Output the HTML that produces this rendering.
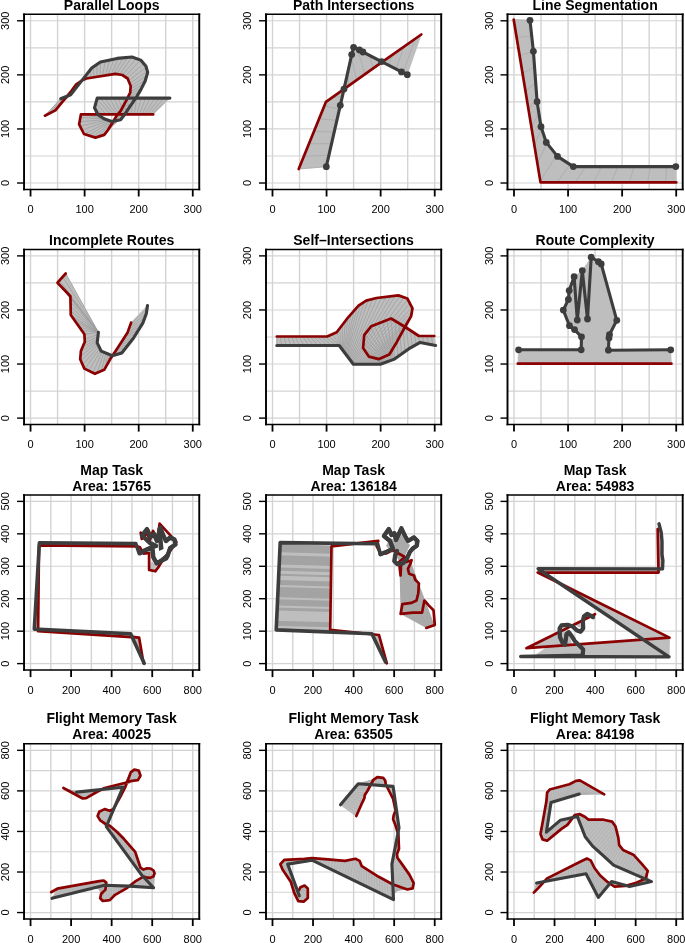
<!DOCTYPE html>
<html><head><meta charset="utf-8"><style>html,body{margin:0;padding:0;background:#fff;}svg{display:block;will-change:transform;}text{font-family:'Liberation Sans', sans-serif;fill:#000;}</style></head>
<body><svg width="685" height="943" viewBox="0 0 685 943">
<rect width="685" height="943" fill="#fff"/>
<g>
<line x1="30.54" y1="14.30" x2="30.54" y2="189.50" stroke="#d3d3d3" stroke-width="1.4"/>
<line x1="57.58" y1="14.30" x2="57.58" y2="189.50" stroke="#d3d3d3" stroke-width="1.4"/>
<line x1="84.61" y1="14.30" x2="84.61" y2="189.50" stroke="#d3d3d3" stroke-width="1.4"/>
<line x1="111.65" y1="14.30" x2="111.65" y2="189.50" stroke="#d3d3d3" stroke-width="1.4"/>
<line x1="138.69" y1="14.30" x2="138.69" y2="189.50" stroke="#d3d3d3" stroke-width="1.4"/>
<line x1="165.72" y1="14.30" x2="165.72" y2="189.50" stroke="#d3d3d3" stroke-width="1.4"/>
<line x1="192.76" y1="14.30" x2="192.76" y2="189.50" stroke="#d3d3d3" stroke-width="1.4"/>
<line x1="24.05" y1="183.01" x2="199.25" y2="183.01" stroke="#d3d3d3" stroke-width="1.15"/>
<line x1="24.05" y1="155.97" x2="199.25" y2="155.97" stroke="#d3d3d3" stroke-width="1.15"/>
<line x1="24.05" y1="128.94" x2="199.25" y2="128.94" stroke="#d3d3d3" stroke-width="1.15"/>
<line x1="24.05" y1="101.90" x2="199.25" y2="101.90" stroke="#d3d3d3" stroke-width="1.15"/>
<line x1="24.05" y1="74.86" x2="199.25" y2="74.86" stroke="#d3d3d3" stroke-width="1.15"/>
<line x1="24.05" y1="47.83" x2="199.25" y2="47.83" stroke="#d3d3d3" stroke-width="1.15"/>
<line x1="24.05" y1="20.79" x2="199.25" y2="20.79" stroke="#d3d3d3" stroke-width="1.15"/>
<path d="M60.7,98.7L61.6,98.4L46.3,115.0L44.9,115.7ZM61.6,98.4L62.4,98.0L47.6,114.3L46.3,115.0ZM62.4,98.0L63.3,97.7L49.0,113.6L47.6,114.3ZM63.3,97.7L64.2,97.3L50.4,112.9L49.0,113.6ZM64.2,97.3L65.1,97.0L51.8,112.2L50.4,112.9ZM65.1,97.0L65.9,96.6L53.1,111.5L51.8,112.2ZM65.9,96.6L66.8,96.3L54.5,110.8L53.1,111.5ZM66.8,96.3L67.7,95.9L55.7,110.0L54.5,110.8ZM67.7,95.9L68.5,95.6L56.7,108.8L55.7,110.0ZM68.5,95.6L69.4,95.2L57.7,107.6L56.7,108.8ZM69.4,95.2L70.3,94.9L58.7,106.4L57.7,107.6ZM58.7,106.4L59.6,105.2L71.0,94.3L70.3,94.9ZM59.6,105.2L60.6,104.0L71.6,93.6L71.0,94.3ZM60.6,104.0L61.6,102.8L72.2,92.9L71.6,93.6ZM61.6,102.8L62.5,101.6L72.8,92.1L72.2,92.9ZM62.5,101.6L63.5,100.4L73.3,91.4L72.8,92.1ZM63.5,100.4L64.5,99.3L73.9,90.7L73.3,91.4ZM64.5,99.3L65.5,98.1L74.5,89.9L73.9,90.7ZM65.5,98.1L66.5,96.9L75.1,89.2L74.5,89.9ZM66.5,96.9L67.4,95.7L75.7,88.5L75.1,89.2ZM67.4,95.7L68.4,94.5L76.3,87.7L75.7,88.5ZM68.4,94.5L69.4,93.3L76.8,87.0L76.3,87.7ZM69.4,93.3L70.4,92.2L77.4,86.2L76.8,87.0ZM70.4,92.2L71.4,91.0L78.0,85.5L77.4,86.2ZM71.4,91.0L72.3,89.7L78.6,84.8L78.0,85.5ZM72.3,89.7L73.2,88.5L79.2,84.0L78.6,84.8ZM73.2,88.5L74.1,87.2L79.7,83.3L79.2,84.0ZM74.1,87.2L75.0,86.0L80.3,82.6L79.7,83.3ZM75.0,86.0L75.9,84.7L80.9,81.8L80.3,82.6ZM75.9,84.7L77.1,83.9L81.5,81.1L80.9,81.8ZM77.1,83.9L78.4,83.0L82.0,80.3L81.5,81.1ZM78.4,83.0L79.7,82.1L82.6,79.6L82.0,80.3ZM82.6,79.6L83.2,78.9L80.9,81.2L79.7,82.1ZM83.2,78.9L83.8,78.1L82.2,80.4L80.9,81.2ZM83.8,78.1L84.3,77.4L83.5,79.6L82.2,80.4ZM84.3,77.4L84.9,76.6L85.0,79.1L83.5,79.6ZM84.9,76.6L85.5,75.9L86.4,78.5L85.0,79.1ZM85.5,75.9L86.4,74.7L87.3,78.3L86.4,78.5ZM86.4,74.7L87.4,73.5L88.3,78.2L87.3,78.3ZM87.4,73.5L88.3,72.3L89.2,78.0L88.3,78.2ZM88.3,72.3L89.2,71.2L90.2,77.9L89.2,78.0ZM89.2,71.2L90.2,70.0L91.1,77.7L90.2,77.9ZM90.2,70.0L91.1,68.8L92.1,77.6L91.1,77.7ZM91.1,68.8L92.1,67.7L93.0,77.4L92.1,77.6ZM92.1,67.7L93.4,66.8L94.0,77.3L93.0,77.4ZM93.4,66.8L94.6,66.0L94.9,77.1L94.0,77.3ZM94.6,66.0L95.8,65.1L95.9,77.0L94.9,77.1ZM95.8,65.1L97.1,64.2L96.8,76.8L95.9,77.0ZM97.1,64.2L98.3,63.4L97.8,76.7L96.8,76.8ZM98.3,63.4L99.5,62.5L98.7,76.5L97.8,76.7ZM99.5,62.5L100.8,61.8L99.7,76.3L98.7,76.5ZM100.8,61.8L102.3,61.5L100.6,76.2L99.7,76.3ZM102.3,61.5L103.8,61.2L101.6,76.0L100.6,76.2ZM103.8,61.2L105.3,60.9L102.5,75.9L101.6,76.0ZM105.3,60.9L106.7,60.6L103.5,75.7L102.5,75.9ZM106.7,60.6L108.2,60.3L104.4,75.6L103.5,75.7ZM108.2,60.3L109.7,60.0L105.4,75.4L104.4,75.6ZM109.7,60.0L111.2,59.6L106.3,75.3L105.4,75.4ZM111.2,59.6L112.6,59.3L107.3,75.1L106.3,75.3ZM112.6,59.3L114.1,59.0L108.2,75.0L107.3,75.1ZM114.1,59.0L115.6,58.7L109.1,74.8L108.2,75.0ZM115.6,58.7L117.1,58.4L110.1,74.6L109.1,74.8ZM117.1,58.4L118.6,58.3L111.0,74.5L110.1,74.6ZM118.6,58.3L120.1,58.1L112.0,74.3L111.0,74.5ZM120.1,58.1L121.6,58.0L112.9,74.2L112.0,74.3ZM121.6,58.0L123.1,57.8L113.9,74.0L112.9,74.2ZM123.1,57.8L124.6,57.7L114.8,73.9L113.9,74.0ZM124.6,57.7L126.1,57.6L115.8,73.9L114.8,73.9ZM126.1,57.6L127.6,57.4L116.7,74.0L115.8,73.9ZM127.6,57.4L129.1,57.3L117.7,74.2L116.7,74.0ZM129.1,57.3L130.6,57.1L118.6,74.4L117.7,74.2ZM130.6,57.1L132.1,57.0L119.6,74.5L118.6,74.4ZM132.1,57.0L133.5,57.5L120.5,74.7L119.6,74.5ZM133.5,57.5L134.9,58.0L121.5,74.9L120.5,74.7ZM134.9,58.0L136.3,58.5L122.4,75.1L121.5,74.9ZM136.3,58.5L137.8,59.1L123.2,75.6L122.4,75.1ZM137.8,59.1L139.2,59.6L124.0,76.1L123.2,75.6ZM139.2,59.6L140.6,60.1L124.8,76.6L124.0,76.1ZM140.6,60.1L141.6,61.2L125.6,77.2L124.8,76.6ZM141.6,61.2L142.6,62.3L126.4,77.7L125.6,77.2ZM142.6,62.3L143.6,63.5L127.2,78.2L126.4,77.7ZM143.6,63.5L144.6,64.6L127.8,78.9L127.2,78.2ZM144.6,64.6L145.5,65.8L128.2,79.8L127.8,78.9ZM145.5,65.8L146.2,67.1L128.5,80.7L128.2,79.8ZM146.2,67.1L146.6,68.5L128.9,81.6L128.5,80.7ZM146.6,68.5L147.0,70.0L129.3,82.5L128.9,81.6ZM147.0,70.0L147.4,71.4L129.6,83.4L129.3,82.5ZM147.4,71.4L147.6,72.9L130.0,84.3L129.6,83.4ZM147.6,72.9L147.1,74.3L130.4,85.1L130.0,84.3ZM147.1,74.3L146.7,75.8L130.7,86.0L130.4,85.1ZM146.7,75.8L146.3,77.2L130.6,87.0L130.7,86.0ZM146.3,77.2L145.9,78.7L130.5,88.0L130.6,87.0ZM145.9,78.7L145.4,80.1L130.5,88.9L130.5,88.0ZM145.4,80.1L144.9,81.5L130.4,89.9L130.5,88.9ZM144.9,81.5L144.3,82.9L130.3,90.8L130.4,89.9ZM144.3,82.9L143.6,84.2L130.3,91.8L130.3,90.8ZM143.6,84.2L142.9,85.6L130.1,92.7L130.3,91.8ZM142.9,85.6L142.2,86.9L129.7,93.6L130.1,92.7ZM142.2,86.9L141.5,88.3L129.3,94.4L129.7,93.6ZM141.5,88.3L140.9,89.6L128.8,95.3L129.3,94.4ZM140.9,89.6L140.1,90.9L128.4,96.2L128.8,95.3ZM140.1,90.9L139.3,92.2L128.0,97.0L128.4,96.2ZM139.3,92.2L138.6,93.5L127.5,97.9L128.0,97.0ZM138.6,93.5L137.8,94.8L127.1,98.7L127.5,97.9ZM137.8,94.8L137.0,96.1L126.7,99.6L127.1,98.7ZM137.0,96.1L136.3,97.4L126.2,100.4L126.7,99.6ZM136.3,97.4L135.5,98.7L125.8,101.3L126.2,100.4ZM135.5,98.7L134.6,99.9L125.1,102.7L125.8,101.3ZM134.6,99.9L133.7,101.2L124.3,104.0L125.1,102.7ZM133.7,101.2L132.9,102.4L123.6,105.4L124.3,104.0ZM132.9,102.4L132.0,103.6L122.9,106.7L123.6,105.4ZM132.0,103.6L131.1,104.9L122.2,108.1L122.9,106.7ZM131.1,104.9L130.2,106.1L121.4,109.5L122.2,108.1ZM130.2,106.1L129.3,107.3L120.7,110.8L121.4,109.5ZM129.3,107.3L128.5,108.6L119.7,112.0L120.7,110.8ZM128.5,108.6L127.7,109.9L118.7,113.2L119.7,112.0ZM127.7,109.9L126.8,111.1L117.7,114.3L118.7,113.2ZM126.8,111.1L126.0,112.4L116.8,115.6L117.7,114.3ZM126.0,112.4L125.2,113.7L116.0,116.9L116.8,115.6ZM125.2,113.7L124.3,114.9L115.2,118.2L116.0,116.9ZM124.3,114.9L123.4,116.1L114.4,119.5L115.2,118.2ZM123.4,116.1L122.5,117.3L113.6,120.9L114.4,119.5ZM122.5,117.3L121.5,118.5L112.8,122.2L113.6,120.9ZM121.5,118.5L120.6,119.7L112.0,123.5L112.8,122.2ZM120.6,119.7L120.1,119.8L111.2,124.8L112.0,123.5ZM120.1,119.8L119.7,119.9L110.4,126.1L111.2,124.8ZM119.7,119.9L119.2,120.0L109.6,127.4L110.4,126.1ZM119.2,120.0L118.8,120.1L108.8,128.7L109.6,127.4ZM118.8,120.1L118.3,120.2L108.0,129.9L108.8,128.7ZM118.3,120.2L117.9,120.3L107.2,131.2L108.0,129.9ZM107.2,131.2L106.2,132.4L117.4,120.4L117.9,120.3ZM106.2,132.4L105.3,133.5L116.9,120.4L117.4,120.4ZM105.3,133.5L104.3,134.7L116.5,120.5L116.9,120.4ZM104.3,134.7L103.0,135.3L116.0,120.6L116.5,120.5ZM103.0,135.3L101.5,135.7L115.6,120.7L116.0,120.6ZM101.5,135.7L100.1,136.2L115.1,120.8L115.6,120.7ZM100.1,136.2L98.6,136.6L114.7,120.9L115.1,120.8ZM98.6,136.6L97.2,137.0L114.2,121.0L114.7,120.9ZM97.2,137.0L95.7,137.5L113.8,121.1L114.2,121.0ZM95.7,137.5L94.3,137.3L113.3,121.2L113.8,121.1ZM94.3,137.3L92.9,136.8L112.8,121.3L113.3,121.2ZM92.9,136.8L91.4,136.3L112.4,121.4L112.8,121.3ZM91.4,136.3L90.0,135.9L111.9,121.5L112.4,121.4ZM90.0,135.9L88.5,135.4L111.5,121.4L111.9,121.5ZM88.5,135.4L87.1,135.0L111.0,121.2L111.5,121.4ZM87.1,135.0L85.7,134.5L110.6,121.1L111.0,121.2ZM85.7,134.5L84.2,134.1L110.2,120.9L110.6,121.1ZM84.2,134.1L83.4,132.9L109.7,120.8L110.2,120.9ZM83.4,132.9L82.7,131.5L109.3,120.6L109.7,120.8ZM82.7,131.5L82.0,130.2L108.8,120.5L109.3,120.6ZM82.0,130.2L81.4,128.8L108.4,120.3L108.8,120.5ZM81.4,128.8L80.7,127.5L108.0,120.2L108.4,120.3ZM80.7,127.5L80.0,126.1L107.5,120.0L108.0,120.2ZM80.0,126.1L79.3,124.8L107.1,119.9L107.5,120.0ZM79.3,124.8L79.3,123.3L106.6,119.7L107.1,119.9ZM79.3,123.3L79.6,121.8L106.2,119.6L106.6,119.7ZM79.6,121.8L79.8,120.4L105.8,119.4L106.2,119.6ZM79.8,120.4L80.1,118.9L105.3,119.3L105.8,119.4ZM80.1,118.9L80.4,117.4L104.9,119.1L105.3,119.3ZM80.4,117.4L80.6,115.9L104.4,119.0L104.9,119.1ZM80.6,115.9L80.9,114.4L104.0,118.8L104.4,119.0ZM80.9,114.4L82.5,114.4L103.0,118.1L104.0,118.8ZM82.5,114.4L84.1,114.4L101.9,117.4L103.0,118.1ZM84.1,114.4L85.7,114.4L100.9,116.7L101.9,117.4ZM85.7,114.4L87.3,114.4L99.8,116.0L100.9,116.7ZM87.3,114.4L88.9,114.4L98.8,115.3L99.8,116.0ZM88.9,114.4L90.5,114.4L97.9,114.5L98.8,115.3ZM90.5,114.4L92.0,114.4L97.3,113.4L97.9,114.5ZM92.0,114.4L93.6,114.4L96.7,112.3L97.3,113.4ZM96.7,112.3L96.2,111.2L95.2,114.4L93.6,114.4ZM96.2,111.2L95.6,110.0L96.8,114.4L95.2,114.4ZM95.6,110.0L95.1,108.9L98.4,114.4L96.8,114.4ZM95.1,108.9L94.5,107.8L100.0,114.4L98.4,114.4ZM94.5,107.8L94.8,106.6L101.5,114.4L100.0,114.4ZM94.8,106.6L95.2,105.4L103.0,114.4L101.5,114.4ZM95.2,105.4L95.5,104.2L104.5,114.4L103.0,114.4ZM95.5,104.2L95.9,102.9L106.0,114.4L104.5,114.4ZM95.9,102.9L96.2,101.7L107.5,114.4L106.0,114.4ZM96.2,101.7L96.5,100.5L109.0,114.4L107.5,114.4ZM96.5,100.5L96.9,99.3L110.5,114.4L109.0,114.4ZM96.9,99.3L97.2,98.1L112.0,114.4L110.5,114.4ZM97.2,98.1L98.7,98.1L112.9,114.4L112.0,114.4ZM98.7,98.1L100.2,98.1L113.7,114.4L112.9,114.4ZM100.2,98.1L101.7,98.1L114.6,114.4L113.7,114.4ZM101.7,98.1L103.3,98.1L115.4,114.4L114.6,114.4ZM103.3,98.1L104.8,98.1L116.3,114.4L115.4,114.4ZM104.8,98.1L106.3,98.1L117.2,114.4L116.3,114.4ZM106.3,98.1L107.8,98.1L118.0,114.4L117.2,114.4ZM107.8,98.1L109.3,98.1L118.9,114.4L118.0,114.4ZM109.3,98.1L110.8,98.1L119.7,114.4L118.9,114.4ZM110.8,98.1L112.3,98.1L120.6,114.4L119.7,114.4ZM112.3,98.1L113.9,98.1L121.4,114.4L120.6,114.4ZM113.9,98.1L115.4,98.1L122.3,114.4L121.4,114.4ZM115.4,98.1L116.9,98.1L123.2,114.4L122.3,114.4ZM116.9,98.1L118.4,98.1L124.0,114.4L123.2,114.4ZM118.4,98.1L119.9,98.1L124.9,114.4L124.0,114.4ZM119.9,98.1L121.4,98.1L125.7,114.4L124.9,114.4ZM121.4,98.1L122.9,98.1L126.6,114.4L125.7,114.4ZM122.9,98.1L124.5,98.1L127.5,114.4L126.6,114.4ZM124.5,98.1L126.0,98.1L128.3,114.4L127.5,114.4ZM126.0,98.1L127.5,98.1L129.2,114.4L128.3,114.4ZM127.5,98.1L129.0,98.1L130.0,114.4L129.2,114.4ZM129.0,98.1L130.5,98.1L130.9,114.4L130.0,114.4ZM130.5,98.1L132.0,98.1L131.7,114.4L130.9,114.4ZM132.0,98.1L133.5,98.1L132.6,114.4L131.7,114.4ZM133.5,98.1L135.1,98.1L133.5,114.4L132.6,114.4ZM135.1,98.1L136.6,98.1L134.3,114.4L133.5,114.4ZM136.6,98.1L138.1,98.1L135.2,114.4L134.3,114.4ZM138.1,98.1L139.6,98.1L136.0,114.4L135.2,114.4ZM139.6,98.1L141.1,98.1L136.9,114.4L136.0,114.4ZM141.1,98.1L142.6,98.1L137.8,114.4L136.9,114.4ZM142.6,98.1L144.2,98.1L138.6,114.4L137.8,114.4ZM144.2,98.1L145.7,98.1L139.5,114.4L138.6,114.4ZM145.7,98.1L147.2,98.1L140.3,114.4L139.5,114.4ZM147.2,98.1L148.7,98.1L141.2,114.4L140.3,114.4ZM148.7,98.1L150.2,98.1L142.0,114.4L141.2,114.4ZM150.2,98.1L151.7,98.1L142.9,114.4L142.0,114.4ZM151.7,98.1L153.2,98.1L143.8,114.4L142.9,114.4ZM153.2,98.1L154.8,98.1L144.6,114.4L143.8,114.4ZM154.8,98.1L156.3,98.1L145.5,114.4L144.6,114.4ZM156.3,98.1L157.8,98.1L146.3,114.4L145.5,114.4ZM157.8,98.1L159.3,98.1L147.2,114.4L146.3,114.4ZM159.3,98.1L160.8,98.1L148.1,114.4L147.2,114.4ZM160.8,98.1L162.3,98.1L148.9,114.4L148.1,114.4ZM162.3,98.1L163.8,98.1L149.8,114.4L148.9,114.4ZM163.8,98.1L165.4,98.1L150.6,114.4L149.8,114.4ZM165.4,98.1L166.9,98.1L151.5,114.4L150.6,114.4ZM166.9,98.1L168.4,98.1L152.3,114.4L151.5,114.4ZM168.4,98.1L169.9,98.1L153.2,114.4L152.3,114.4Z" fill="#bebebe" stroke="#bebebe" stroke-width="0.6" stroke-linejoin="round"/>
<path d="M44.9,115.7L60.7,98.7M49.0,113.6L63.3,97.7M53.1,111.5L65.9,96.6M56.7,108.8L68.5,95.6M59.6,105.2L71.0,94.3M62.5,101.6L72.8,92.1M65.5,98.1L74.5,89.9M68.4,94.5L76.3,87.7M71.4,91.0L78.0,85.5M74.1,87.2L79.7,83.3M77.1,83.9L81.5,81.1M80.9,81.2L83.2,78.9M85.0,79.1L84.9,76.6M88.3,78.2L87.4,73.5M91.1,77.7L90.2,70.0M94.0,77.3L93.4,66.8M96.8,76.8L97.1,64.2M99.7,76.3L100.8,61.8M102.5,75.9L105.3,60.9M105.4,75.4L109.7,60.0M108.2,75.0L114.1,59.0M111.0,74.5L118.6,58.3M113.9,74.0L123.1,57.8M116.7,74.0L127.6,57.4M119.6,74.5L132.1,57.0M122.4,75.1L136.3,58.5M124.8,76.6L140.6,60.1M127.2,78.2L143.6,63.5M128.5,80.7L146.2,67.1M129.6,83.4L147.4,71.4M130.7,86.0L146.7,75.8M130.5,88.9L145.4,80.1M130.3,91.8L143.6,84.2M129.3,94.4L141.5,88.3M128.0,97.0L139.3,92.2M126.7,99.6L137.0,96.1M125.1,102.7L134.6,99.9M122.9,106.7L132.0,103.6M120.7,110.8L129.3,107.3M117.7,114.3L126.8,111.1M115.2,118.2L124.3,114.9M112.8,122.2L121.5,118.5M110.4,126.1L119.7,119.9M108.0,129.9L118.3,120.2M105.3,133.5L116.9,120.4M101.5,135.7L115.6,120.7M97.2,137.0L114.2,121.0M92.9,136.8L112.8,121.3M88.5,135.4L111.5,121.4M84.2,134.1L110.2,120.9M82.0,130.2L108.8,120.5M80.0,126.1L107.5,120.0M79.6,121.8L106.2,119.6M80.4,117.4L104.9,119.1M82.5,114.4L103.0,118.1M87.3,114.4L99.8,116.0M92.0,114.4L97.3,113.4M96.8,114.4L95.6,110.0M101.5,114.4L94.8,106.6M106.0,114.4L95.9,102.9M110.5,114.4L96.9,99.3M113.7,114.4L100.2,98.1M116.3,114.4L104.8,98.1M118.9,114.4L109.3,98.1M121.4,114.4L113.9,98.1M124.0,114.4L118.4,98.1M126.6,114.4L122.9,98.1M129.2,114.4L127.5,98.1M131.7,114.4L132.0,98.1M134.3,114.4L136.6,98.1M136.9,114.4L141.1,98.1M139.5,114.4L145.7,98.1M142.0,114.4L150.2,98.1M144.6,114.4L154.8,98.1M147.2,114.4L159.3,98.1M149.8,114.4L163.8,98.1M152.3,114.4L168.4,98.1" stroke="#9e9e9e" stroke-width="0.75" fill="none"/>

<polyline points="44.9,115.7 55.4,110.4 62.8,101.3 71.5,90.8 75.9,84.7 82.9,79.9 86.4,78.5 115.3,73.8 122.3,75.0 127.6,78.5 130.7,85.9 130.2,92.6 125.8,101.3 120.6,111.0 117.3,114.8 112.0,123.5 107.7,130.5 104.2,134.9 95.4,137.6 84.0,134.0 79.1,124.4 80.9,114.4 100.0,114.4 112.0,114.4 153.2,114.4" fill="none" stroke="#8b0000" stroke-width="2.7" stroke-linejoin="round" stroke-linecap="round"/>
<polyline points="60.7,98.7 70.7,94.7 77.7,85.9 85.5,75.9 91.7,68.0 100.4,61.9 117.1,58.4 132.0,57.0 140.7,60.1 146.0,66.3 147.7,72.4 145.1,81.2 140.7,89.9 135.5,98.7 129.3,107.4 124.1,115.3 120.6,119.7 111.8,121.5 104.0,118.8 98.0,114.8 94.5,107.8 97.2,98.1 169.9,98.1" fill="none" stroke="#3d3d3d" stroke-width="3.1" stroke-linejoin="round" stroke-linecap="round"/>

<path d="M24.05,13.55V190.25M199.25,13.55V190.25" stroke="#000" stroke-width="1.9" fill="none"/>
<path d="M23.10,14.30H200.20M23.10,189.50H200.20" stroke="#000" stroke-width="1.5" fill="none"/>
<line x1="30.54" y1="189.50" x2="30.54" y2="196.50" stroke="#000" stroke-width="1.8"/>
<text x="30.54" y="213.20" text-anchor="middle" font-size="11">0</text>
<line x1="84.61" y1="189.50" x2="84.61" y2="196.50" stroke="#000" stroke-width="1.8"/>
<text x="84.61" y="213.20" text-anchor="middle" font-size="11">100</text>
<line x1="138.69" y1="189.50" x2="138.69" y2="196.50" stroke="#000" stroke-width="1.8"/>
<text x="138.69" y="213.20" text-anchor="middle" font-size="11">200</text>
<line x1="192.76" y1="189.50" x2="192.76" y2="196.50" stroke="#000" stroke-width="1.8"/>
<text x="192.76" y="213.20" text-anchor="middle" font-size="11">300</text>
<line x1="24.05" y1="183.01" x2="17.05" y2="183.01" stroke="#000" stroke-width="1.4"/>
<text transform="translate(9.25,183.01) rotate(-90)" text-anchor="middle" font-size="11">0</text>
<line x1="24.05" y1="128.94" x2="17.05" y2="128.94" stroke="#000" stroke-width="1.4"/>
<text transform="translate(9.25,128.94) rotate(-90)" text-anchor="middle" font-size="11">100</text>
<line x1="24.05" y1="74.86" x2="17.05" y2="74.86" stroke="#000" stroke-width="1.4"/>
<text transform="translate(9.25,74.86) rotate(-90)" text-anchor="middle" font-size="11">200</text>
<line x1="24.05" y1="20.79" x2="17.05" y2="20.79" stroke="#000" stroke-width="1.4"/>
<text transform="translate(9.25,20.79) rotate(-90)" text-anchor="middle" font-size="11">300</text>
<text x="111.65" y="9.90" text-anchor="middle" font-size="14" font-weight="bold">Parallel Loops</text>
</g>
<g>
<line x1="272.49" y1="14.30" x2="272.49" y2="189.50" stroke="#d3d3d3" stroke-width="1.4"/>
<line x1="299.53" y1="14.30" x2="299.53" y2="189.50" stroke="#d3d3d3" stroke-width="1.4"/>
<line x1="326.56" y1="14.30" x2="326.56" y2="189.50" stroke="#d3d3d3" stroke-width="1.4"/>
<line x1="353.60" y1="14.30" x2="353.60" y2="189.50" stroke="#d3d3d3" stroke-width="1.4"/>
<line x1="380.64" y1="14.30" x2="380.64" y2="189.50" stroke="#d3d3d3" stroke-width="1.4"/>
<line x1="407.67" y1="14.30" x2="407.67" y2="189.50" stroke="#d3d3d3" stroke-width="1.4"/>
<line x1="434.71" y1="14.30" x2="434.71" y2="189.50" stroke="#d3d3d3" stroke-width="1.4"/>
<line x1="266.00" y1="183.01" x2="441.20" y2="183.01" stroke="#d3d3d3" stroke-width="1.15"/>
<line x1="266.00" y1="155.97" x2="441.20" y2="155.97" stroke="#d3d3d3" stroke-width="1.15"/>
<line x1="266.00" y1="128.94" x2="441.20" y2="128.94" stroke="#d3d3d3" stroke-width="1.15"/>
<line x1="266.00" y1="101.90" x2="441.20" y2="101.90" stroke="#d3d3d3" stroke-width="1.15"/>
<line x1="266.00" y1="74.86" x2="441.20" y2="74.86" stroke="#d3d3d3" stroke-width="1.15"/>
<line x1="266.00" y1="47.83" x2="441.20" y2="47.83" stroke="#d3d3d3" stroke-width="1.15"/>
<line x1="266.00" y1="20.79" x2="441.20" y2="20.79" stroke="#d3d3d3" stroke-width="1.15"/>
<path d="M298.7,169.0L299.3,167.6L326.6,165.4L326.3,166.7ZM299.3,167.6L299.8,166.2L326.9,164.1L326.6,165.4ZM299.8,166.2L300.4,164.8L327.2,162.9L326.9,164.1ZM300.4,164.8L301.0,163.4L327.5,161.6L327.2,162.9ZM301.0,163.4L301.5,162.0L327.8,160.3L327.5,161.6ZM301.5,162.0L302.1,160.6L328.1,159.0L327.8,160.3ZM302.1,160.6L302.7,159.2L328.3,157.7L328.1,159.0ZM302.7,159.2L303.2,157.8L328.6,156.5L328.3,157.7ZM303.2,157.8L303.8,156.4L328.9,155.2L328.6,156.5ZM303.8,156.4L304.4,155.0L329.2,153.9L328.9,155.2ZM304.4,155.0L305.0,153.6L329.5,152.6L329.2,153.9ZM305.0,153.6L305.5,152.2L329.8,151.3L329.5,152.6ZM305.5,152.2L306.1,150.8L330.1,150.1L329.8,151.3ZM306.1,150.8L306.7,149.4L330.4,148.8L330.1,150.1ZM306.7,149.4L307.2,148.0L330.7,147.5L330.4,148.8ZM307.2,148.0L307.8,146.6L331.0,146.2L330.7,147.5ZM307.8,146.6L308.4,145.2L331.3,145.0L331.0,146.2ZM308.4,145.2L308.9,143.8L331.6,143.7L331.3,145.0ZM308.9,143.8L309.5,142.4L331.8,142.4L331.6,143.7ZM309.5,142.4L310.1,141.0L332.1,141.1L331.8,142.4ZM310.1,141.0L310.6,139.6L332.4,139.8L332.1,141.1ZM310.6,139.6L311.2,138.2L332.7,138.6L332.4,139.8ZM311.2,138.2L311.8,136.8L333.0,137.3L332.7,138.6ZM311.8,136.8L312.4,135.4L333.3,136.0L333.0,137.3ZM312.4,135.4L312.9,134.0L333.6,134.7L333.3,136.0ZM312.9,134.0L313.5,132.6L333.9,133.4L333.6,134.7ZM313.5,132.6L314.1,131.2L334.2,132.2L333.9,133.4ZM314.1,131.2L314.6,129.8L334.5,130.9L334.2,132.2ZM314.6,129.8L315.2,128.4L334.8,129.6L334.5,130.9ZM315.2,128.4L315.8,127.0L335.1,128.3L334.8,129.6ZM315.8,127.0L316.3,125.6L335.3,127.0L335.1,128.3ZM316.3,125.6L316.9,124.2L335.6,125.8L335.3,127.0ZM316.9,124.2L317.5,122.8L335.9,124.5L335.6,125.8ZM317.5,122.8L318.0,121.4L336.2,123.2L335.9,124.5ZM318.0,121.4L318.6,120.0L336.5,121.9L336.2,123.2ZM318.6,120.0L319.2,118.6L336.8,120.6L336.5,121.9ZM319.2,118.6L319.7,117.2L337.1,119.4L336.8,120.6ZM319.7,117.2L320.3,115.8L337.4,118.1L337.1,119.4ZM320.3,115.8L320.9,114.4L337.7,116.8L337.4,118.1ZM320.9,114.4L321.4,113.0L338.0,115.5L337.7,116.8ZM321.4,113.0L322.0,111.6L338.3,114.3L338.0,115.5ZM322.0,111.6L322.6,110.2L338.6,113.0L338.3,114.3ZM322.6,110.2L323.2,108.8L338.8,111.7L338.6,113.0ZM323.2,108.8L323.7,107.4L339.1,110.4L338.8,111.7ZM323.7,107.4L324.3,106.0L339.4,109.1L339.1,110.4ZM324.3,106.0L324.9,104.6L339.7,107.9L339.4,109.1ZM324.9,104.6L325.4,103.2L340.0,106.6L339.7,107.9ZM325.4,103.2L326.0,101.8L340.3,105.3L340.0,106.6ZM326.0,101.8L326.9,101.1L340.6,103.8L340.3,105.3ZM326.9,101.1L327.9,100.5L341.0,102.3L340.6,103.8ZM327.9,100.5L328.8,99.8L341.3,100.9L341.0,102.3ZM328.8,99.8L329.7,99.2L341.7,99.4L341.3,100.9ZM329.7,99.2L330.6,98.5L342.0,97.9L341.7,99.4ZM330.6,98.5L331.6,97.8L342.3,96.4L342.0,97.9ZM331.6,97.8L332.5,97.2L342.7,95.0L342.3,96.4ZM332.5,97.2L333.4,96.5L343.0,93.5L342.7,95.0ZM333.4,96.5L334.3,95.9L343.3,92.0L343.0,93.5ZM334.3,95.9L335.3,95.2L343.7,90.5L343.3,92.0ZM335.3,95.2L336.2,94.6L344.0,89.0L343.7,90.5ZM336.2,94.6L337.1,93.9L344.3,87.6L344.0,89.0ZM337.1,93.9L338.0,93.2L344.7,86.1L344.3,87.6ZM338.0,93.2L339.0,92.6L345.0,84.6L344.7,86.1ZM339.0,92.6L339.9,91.9L345.3,83.1L345.0,84.6ZM345.3,83.1L345.7,81.6L340.8,91.3L339.9,91.9ZM345.7,81.6L346.0,80.2L341.8,90.6L340.8,91.3ZM346.0,80.2L346.3,78.7L342.7,89.9L341.8,90.6ZM346.3,78.7L346.7,77.2L343.6,89.3L342.7,89.9ZM346.7,77.2L347.0,75.7L344.5,88.6L343.6,89.3ZM347.0,75.7L347.3,74.2L345.5,88.0L344.5,88.6ZM347.3,74.2L347.6,72.8L346.4,87.3L345.5,88.0ZM347.6,72.8L348.0,71.3L347.3,86.7L346.4,87.3ZM348.0,71.3L348.3,69.8L348.2,86.0L347.3,86.7ZM348.3,69.8L348.6,68.3L349.2,85.3L348.2,86.0ZM348.6,68.3L349.0,66.8L350.1,84.7L349.2,85.3ZM349.0,66.8L349.3,65.4L351.0,84.0L350.1,84.7ZM349.3,65.4L349.6,63.9L351.9,83.4L351.0,84.0ZM349.6,63.9L350.0,62.4L352.9,82.7L351.9,83.4ZM350.0,62.4L350.3,60.9L353.8,82.0L352.9,82.7ZM350.3,60.9L350.6,59.4L354.7,81.4L353.8,82.0ZM350.6,59.4L350.9,58.0L355.7,80.7L354.7,81.4ZM350.9,58.0L351.3,56.5L356.6,80.1L355.7,80.7ZM351.3,56.5L351.6,55.0L357.5,79.4L356.6,80.1ZM351.6,55.0L352.0,53.5L358.4,78.8L357.5,79.4ZM352.0,53.5L352.4,52.1L359.4,78.1L358.4,78.8ZM352.4,52.1L352.7,50.6L360.3,77.4L359.4,78.1ZM352.7,50.6L353.1,49.1L361.2,76.8L360.3,77.4ZM353.1,49.1L353.5,47.7L362.1,76.1L361.2,76.8ZM353.5,47.7L354.6,47.8L363.1,75.5L362.1,76.1ZM354.6,47.8L356.0,48.4L364.0,74.8L363.1,75.5ZM356.0,48.4L357.4,49.0L364.9,74.1L364.0,74.8ZM357.4,49.0L358.8,49.6L365.8,73.5L364.9,74.1ZM358.8,49.6L360.1,50.3L366.8,72.8L365.8,73.5ZM360.1,50.3L361.4,51.1L367.7,72.2L366.8,72.8ZM361.4,51.1L362.7,51.9L368.6,71.5L367.7,72.2ZM362.7,51.9L364.1,52.6L369.6,70.9L368.6,71.5ZM364.1,52.6L365.4,53.3L370.5,70.2L369.6,70.9ZM365.4,53.3L366.8,54.0L371.4,69.5L370.5,70.2ZM366.8,54.0L368.1,54.7L372.3,68.9L371.4,69.5ZM368.1,54.7L369.5,55.4L373.3,68.2L372.3,68.9ZM369.5,55.4L370.8,56.1L374.2,67.6L373.3,68.2ZM370.8,56.1L372.2,56.8L375.1,66.9L374.2,67.6ZM372.2,56.8L373.5,57.4L376.0,66.2L375.1,66.9ZM373.5,57.4L374.9,58.1L377.0,65.6L376.0,66.2ZM374.9,58.1L376.2,58.8L377.9,64.9L377.0,65.6ZM376.2,58.8L377.6,59.5L378.8,64.3L377.9,64.9ZM377.6,59.5L378.9,60.2L379.7,63.6L378.8,64.3ZM378.9,60.2L380.3,60.9L380.7,63.0L379.7,63.6ZM380.3,60.9L381.6,61.6L381.6,62.3L380.7,63.0ZM381.6,61.6L382.4,62.0L382.8,61.4L381.6,62.3ZM382.8,61.4L384.1,60.6L383.2,62.4L382.4,62.0ZM384.1,60.6L385.3,59.7L384.0,62.8L383.2,62.4ZM385.3,59.7L386.6,58.8L384.8,63.3L384.0,62.8ZM386.6,58.8L387.8,58.0L385.6,63.7L384.8,63.3ZM387.8,58.0L389.0,57.1L386.4,64.1L385.6,63.7ZM389.0,57.1L390.3,56.2L387.2,64.5L386.4,64.1ZM390.3,56.2L391.5,55.3L388.0,64.9L387.2,64.5ZM391.5,55.3L392.8,54.5L388.8,65.3L388.0,64.9ZM392.8,54.5L394.0,53.6L389.6,65.7L388.8,65.3ZM394.0,53.6L395.2,52.7L390.4,66.2L389.6,65.7ZM395.2,52.7L396.5,51.9L391.2,66.6L390.4,66.2ZM396.5,51.9L397.7,51.0L392.0,67.0L391.2,66.6ZM397.7,51.0L399.0,50.1L392.8,67.4L392.0,67.0ZM399.0,50.1L400.2,49.3L393.6,67.8L392.8,67.4ZM400.2,49.3L401.5,48.4L394.4,68.2L393.6,67.8ZM401.5,48.4L402.7,47.5L395.2,68.6L394.4,68.2ZM402.7,47.5L403.9,46.7L396.0,69.1L395.2,68.6ZM403.9,46.7L405.2,45.8L396.8,69.5L396.0,69.1ZM405.2,45.8L406.4,44.9L397.6,69.9L396.8,69.5ZM406.4,44.9L407.7,44.1L398.4,70.3L397.6,69.9ZM407.7,44.1L408.9,43.2L399.2,70.7L398.4,70.3ZM408.9,43.2L410.1,42.3L400.0,71.1L399.2,70.7ZM410.1,42.3L411.4,41.5L400.8,71.5L400.0,71.1ZM411.4,41.5L412.6,40.6L401.6,72.0L400.8,71.5ZM412.6,40.6L413.9,39.7L402.4,72.3L401.6,72.0ZM413.9,39.7L415.1,38.8L403.2,72.7L402.4,72.3ZM415.1,38.8L416.3,38.0L404.1,73.1L403.2,72.7ZM416.3,38.0L417.6,37.1L404.9,73.5L404.1,73.1ZM417.6,37.1L418.8,36.2L405.7,73.9L404.9,73.5ZM418.8,36.2L420.1,35.4L406.5,74.3L405.7,73.9ZM420.1,35.4L421.3,34.5L407.3,74.7L406.5,74.3Z" fill="#bebebe" stroke="#bebebe" stroke-width="0.6" stroke-linejoin="round"/>
<path d="M298.7,169.0L326.3,166.7M303.8,156.4L328.9,155.2M308.9,143.8L331.6,143.7M314.1,131.2L334.2,132.2M319.2,118.6L336.8,120.6M324.3,106.0L339.4,109.1M331.6,97.8L342.3,96.4M339.9,91.9L345.3,83.1M348.2,86.0L348.3,69.8M356.6,80.1L351.3,56.5M364.9,74.1L357.4,49.0M373.3,68.2L369.5,55.4M381.6,62.3L381.6,61.6M392.8,54.5L388.8,65.3M403.9,46.7L396.0,69.1M415.1,38.8L403.2,72.7" stroke="#a3a3a3" stroke-width="0.6" fill="none"/>

<polyline points="298.7,169.0 326.0,101.8 381.6,62.3 421.3,34.5" fill="none" stroke="#8b0000" stroke-width="2.7" stroke-linejoin="round" stroke-linecap="round"/>
<polyline points="326.3,166.7 340.3,105.3 344.0,89.1 351.7,54.6 353.6,47.3 359.4,49.9 362.9,52.0 381.6,61.6 401.5,71.9 407.3,74.7" fill="none" stroke="#3d3d3d" stroke-width="3.1" stroke-linejoin="round" stroke-linecap="round"/>

<circle cx="326.3" cy="166.7" r="3.4" fill="#3d3d3d"/>
<circle cx="340.3" cy="105.3" r="3.4" fill="#3d3d3d"/>
<circle cx="344.0" cy="89.1" r="3.4" fill="#3d3d3d"/>
<circle cx="351.7" cy="54.6" r="3.4" fill="#3d3d3d"/>
<circle cx="353.6" cy="47.3" r="3.4" fill="#3d3d3d"/>
<circle cx="359.4" cy="49.9" r="3.4" fill="#3d3d3d"/>
<circle cx="362.9" cy="52.0" r="3.4" fill="#3d3d3d"/>
<circle cx="381.6" cy="61.6" r="3.4" fill="#3d3d3d"/>
<circle cx="401.5" cy="71.9" r="3.4" fill="#3d3d3d"/>
<circle cx="407.3" cy="74.7" r="3.4" fill="#3d3d3d"/>
<path d="M266.00,13.55V190.25M441.20,13.55V190.25" stroke="#000" stroke-width="1.9" fill="none"/>
<path d="M265.05,14.30H442.15M265.05,189.50H442.15" stroke="#000" stroke-width="1.5" fill="none"/>
<line x1="272.49" y1="189.50" x2="272.49" y2="196.50" stroke="#000" stroke-width="1.8"/>
<text x="272.49" y="213.20" text-anchor="middle" font-size="11">0</text>
<line x1="326.56" y1="189.50" x2="326.56" y2="196.50" stroke="#000" stroke-width="1.8"/>
<text x="326.56" y="213.20" text-anchor="middle" font-size="11">100</text>
<line x1="380.64" y1="189.50" x2="380.64" y2="196.50" stroke="#000" stroke-width="1.8"/>
<text x="380.64" y="213.20" text-anchor="middle" font-size="11">200</text>
<line x1="434.71" y1="189.50" x2="434.71" y2="196.50" stroke="#000" stroke-width="1.8"/>
<text x="434.71" y="213.20" text-anchor="middle" font-size="11">300</text>
<line x1="266.00" y1="183.01" x2="259.00" y2="183.01" stroke="#000" stroke-width="1.4"/>
<text transform="translate(251.20,183.01) rotate(-90)" text-anchor="middle" font-size="11">0</text>
<line x1="266.00" y1="128.94" x2="259.00" y2="128.94" stroke="#000" stroke-width="1.4"/>
<text transform="translate(251.20,128.94) rotate(-90)" text-anchor="middle" font-size="11">100</text>
<line x1="266.00" y1="74.86" x2="259.00" y2="74.86" stroke="#000" stroke-width="1.4"/>
<text transform="translate(251.20,74.86) rotate(-90)" text-anchor="middle" font-size="11">200</text>
<line x1="266.00" y1="20.79" x2="259.00" y2="20.79" stroke="#000" stroke-width="1.4"/>
<text transform="translate(251.20,20.79) rotate(-90)" text-anchor="middle" font-size="11">300</text>
<text x="353.60" y="9.90" text-anchor="middle" font-size="14" font-weight="bold">Path Intersections</text>
</g>
<g>
<line x1="513.99" y1="14.30" x2="513.99" y2="189.50" stroke="#d3d3d3" stroke-width="1.4"/>
<line x1="541.03" y1="14.30" x2="541.03" y2="189.50" stroke="#d3d3d3" stroke-width="1.4"/>
<line x1="568.06" y1="14.30" x2="568.06" y2="189.50" stroke="#d3d3d3" stroke-width="1.4"/>
<line x1="595.10" y1="14.30" x2="595.10" y2="189.50" stroke="#d3d3d3" stroke-width="1.4"/>
<line x1="622.14" y1="14.30" x2="622.14" y2="189.50" stroke="#d3d3d3" stroke-width="1.4"/>
<line x1="649.17" y1="14.30" x2="649.17" y2="189.50" stroke="#d3d3d3" stroke-width="1.4"/>
<line x1="676.21" y1="14.30" x2="676.21" y2="189.50" stroke="#d3d3d3" stroke-width="1.4"/>
<line x1="507.50" y1="183.01" x2="682.70" y2="183.01" stroke="#d3d3d3" stroke-width="1.15"/>
<line x1="507.50" y1="155.97" x2="682.70" y2="155.97" stroke="#d3d3d3" stroke-width="1.15"/>
<line x1="507.50" y1="128.94" x2="682.70" y2="128.94" stroke="#d3d3d3" stroke-width="1.15"/>
<line x1="507.50" y1="101.90" x2="682.70" y2="101.90" stroke="#d3d3d3" stroke-width="1.15"/>
<line x1="507.50" y1="74.86" x2="682.70" y2="74.86" stroke="#d3d3d3" stroke-width="1.15"/>
<line x1="507.50" y1="47.83" x2="682.70" y2="47.83" stroke="#d3d3d3" stroke-width="1.15"/>
<line x1="507.50" y1="20.79" x2="682.70" y2="20.79" stroke="#d3d3d3" stroke-width="1.15"/>
<path d="M530.0,20.3L530.1,21.6L513.9,21.2L513.7,19.7ZM530.1,21.6L530.3,22.9L514.2,22.7L513.9,21.2ZM530.3,22.9L530.4,24.2L514.4,24.2L514.2,22.7ZM530.4,24.2L530.6,25.5L514.7,25.7L514.4,24.2ZM530.6,25.5L530.7,26.8L514.9,27.2L514.7,25.7ZM530.7,26.8L530.8,28.0L515.2,28.7L514.9,27.2ZM530.8,28.0L531.0,29.3L515.4,30.1L515.2,28.7ZM531.0,29.3L531.1,30.6L515.7,31.6L515.4,30.1ZM531.1,30.6L531.3,31.9L515.9,33.1L515.7,31.6ZM531.3,31.9L531.4,33.2L516.2,34.6L515.9,33.1ZM531.4,33.2L531.6,34.5L516.4,36.1L516.2,34.6ZM531.6,34.5L531.7,35.8L516.7,37.6L516.4,36.1ZM531.7,35.8L531.8,37.1L516.9,39.1L516.7,37.6ZM531.8,37.1L532.0,38.4L517.1,40.6L516.9,39.1ZM532.0,38.4L532.1,39.7L517.4,42.1L517.1,40.6ZM532.1,39.7L532.3,41.0L517.6,43.6L517.4,42.1ZM532.3,41.0L532.4,42.2L517.9,45.1L517.6,43.6ZM532.4,42.2L532.5,43.5L518.1,46.6L517.9,45.1ZM532.5,43.5L532.7,44.8L518.4,48.1L518.1,46.6ZM532.7,44.8L532.8,46.1L518.6,49.6L518.4,48.1ZM532.8,46.1L533.0,47.4L518.9,51.0L518.6,49.6ZM533.0,47.4L533.1,48.7L519.1,52.5L518.9,51.0ZM533.1,48.7L533.3,50.0L519.4,54.0L519.1,52.5ZM533.3,50.0L533.4,51.3L519.6,55.5L519.4,54.0ZM533.4,51.3L533.5,52.6L519.8,57.0L519.6,55.5ZM533.5,52.6L533.6,53.9L520.1,58.5L519.8,57.0ZM533.6,53.9L533.7,55.2L520.3,60.0L520.1,58.5ZM533.7,55.2L533.8,56.5L520.6,61.5L520.3,60.0ZM533.8,56.5L533.9,57.7L520.8,63.0L520.6,61.5ZM533.9,57.7L534.0,59.0L521.1,64.5L520.8,63.0ZM534.0,59.0L534.1,60.3L521.3,66.0L521.1,64.5ZM534.1,60.3L534.2,61.6L521.6,67.5L521.3,66.0ZM534.2,61.6L534.3,62.9L521.8,69.0L521.6,67.5ZM534.3,62.9L534.3,64.2L522.1,70.5L521.8,69.0ZM534.3,64.2L534.4,65.5L522.3,71.9L522.1,70.5ZM534.4,65.5L534.5,66.8L522.6,73.4L522.3,71.9ZM534.5,66.8L534.6,68.1L522.8,74.9L522.6,73.4ZM534.6,68.1L534.7,69.4L523.0,76.4L522.8,74.9ZM534.7,69.4L534.8,70.7L523.3,77.9L523.0,76.4ZM534.8,70.7L534.9,72.0L523.5,79.4L523.3,77.9ZM534.9,72.0L535.0,73.3L523.8,80.9L523.5,79.4ZM535.0,73.3L535.1,74.6L524.0,82.4L523.8,80.9ZM535.1,74.6L535.2,75.9L524.3,83.9L524.0,82.4ZM535.2,75.9L535.3,77.2L524.5,85.4L524.3,83.9ZM535.3,77.2L535.4,78.5L524.8,86.9L524.5,85.4ZM535.4,78.5L535.5,79.8L525.0,88.4L524.8,86.9ZM535.5,79.8L535.6,81.1L525.3,89.9L525.0,88.4ZM535.6,81.1L535.7,82.4L525.5,91.3L525.3,89.9ZM535.7,82.4L535.8,83.6L525.7,92.8L525.5,91.3ZM535.8,83.6L535.9,84.9L526.0,94.3L525.7,92.8ZM535.9,84.9L536.0,86.2L526.2,95.8L526.0,94.3ZM536.0,86.2L536.1,87.5L526.5,97.3L526.2,95.8ZM536.1,87.5L536.2,88.8L526.7,98.8L526.5,97.3ZM536.2,88.8L536.3,90.1L527.0,100.3L526.7,98.8ZM536.3,90.1L536.3,91.4L527.2,101.8L527.0,100.3ZM536.3,91.4L536.4,92.7L527.5,103.3L527.2,101.8ZM536.4,92.7L536.5,94.0L527.7,104.8L527.5,103.3ZM536.5,94.0L536.6,95.3L528.0,106.3L527.7,104.8ZM536.6,95.3L536.7,96.6L528.2,107.8L528.0,106.3ZM536.7,96.6L536.8,97.9L528.5,109.3L528.2,107.8ZM536.8,97.9L536.9,99.2L528.7,110.8L528.5,109.3ZM536.9,99.2L537.0,100.5L528.9,112.2L528.7,110.8ZM537.0,100.5L537.1,101.8L529.2,113.7L528.9,112.2ZM537.1,101.8L537.3,103.1L529.4,115.2L529.2,113.7ZM537.3,103.1L537.5,104.3L529.7,116.7L529.4,115.2ZM537.5,104.3L537.7,105.6L529.9,118.2L529.7,116.7ZM537.7,105.6L537.9,106.9L530.2,119.7L529.9,118.2ZM537.9,106.9L538.1,108.2L530.4,121.2L530.2,119.7ZM538.1,108.2L538.3,109.5L530.7,122.7L530.4,121.2ZM538.3,109.5L538.5,110.8L530.9,124.2L530.7,122.7ZM538.5,110.8L538.7,112.0L531.2,125.7L530.9,124.2ZM538.7,112.0L538.9,113.3L531.4,127.2L531.2,125.7ZM538.9,113.3L539.1,114.6L531.6,128.7L531.4,127.2ZM539.1,114.6L539.3,115.9L531.9,130.2L531.6,128.7ZM539.3,115.9L539.5,117.2L532.1,131.6L531.9,130.2ZM539.5,117.2L539.7,118.5L532.4,133.1L532.1,131.6ZM539.7,118.5L539.9,119.7L532.6,134.6L532.4,133.1ZM539.9,119.7L540.1,121.0L532.9,136.1L532.6,134.6ZM540.1,121.0L540.3,122.3L533.1,137.6L532.9,136.1ZM540.3,122.3L540.5,123.6L533.4,139.1L533.1,137.6ZM540.5,123.6L540.7,124.9L533.6,140.6L533.4,139.1ZM540.7,124.9L540.9,126.1L533.9,142.1L533.6,140.6ZM540.9,126.1L541.2,127.4L534.1,143.6L533.9,142.1ZM541.2,127.4L541.7,128.6L534.4,145.1L534.1,143.6ZM541.7,128.6L542.1,129.9L534.6,146.6L534.4,145.1ZM542.1,129.9L542.5,131.1L534.8,148.1L534.6,146.6ZM542.5,131.1L542.9,132.3L535.1,149.6L534.8,148.1ZM542.9,132.3L543.3,133.6L535.3,151.1L535.1,149.6ZM543.3,133.6L543.7,134.8L535.6,152.5L535.3,151.1ZM543.7,134.8L544.1,136.0L535.8,154.0L535.6,152.5ZM544.1,136.0L544.6,137.2L536.1,155.5L535.8,154.0ZM544.6,137.2L545.0,138.5L536.3,157.0L536.1,155.5ZM545.0,138.5L545.4,139.7L536.6,158.5L536.3,157.0ZM545.4,139.7L545.8,140.9L536.8,160.0L536.6,158.5ZM545.8,140.9L546.2,142.2L537.1,161.5L536.8,160.0ZM546.2,142.2L547.0,143.2L537.3,163.0L537.1,161.5ZM547.0,143.2L547.8,144.2L537.5,164.5L537.3,163.0ZM547.8,144.2L548.6,145.2L537.8,166.0L537.5,164.5ZM548.6,145.2L549.4,146.3L538.0,167.5L537.8,166.0ZM549.4,146.3L550.2,147.3L538.3,169.0L538.0,167.5ZM550.2,147.3L551.0,148.3L538.5,170.5L538.3,169.0ZM551.0,148.3L551.8,149.3L538.8,172.0L538.5,170.5ZM551.8,149.3L552.6,150.3L539.0,173.4L538.8,172.0ZM552.6,150.3L553.4,151.3L539.3,174.9L539.0,173.4ZM553.4,151.3L554.3,152.3L539.5,176.4L539.3,174.9ZM554.3,152.3L555.1,153.4L539.8,177.9L539.5,176.4ZM555.1,153.4L555.9,154.4L540.0,179.4L539.8,177.9ZM555.9,154.4L556.7,155.4L540.3,180.9L540.0,179.4ZM556.7,155.4L557.5,156.4L540.5,182.4L540.3,180.9ZM557.5,156.4L558.6,157.1L542.0,182.4L540.5,182.4ZM558.6,157.1L559.8,157.9L543.5,182.4L542.0,182.4ZM559.8,157.9L560.9,158.6L545.0,182.4L543.5,182.4ZM560.9,158.6L562.0,159.3L546.5,182.4L545.0,182.4ZM562.0,159.3L563.2,160.1L548.0,182.4L546.5,182.4ZM563.2,160.1L564.3,160.8L549.6,182.4L548.0,182.4ZM564.3,160.8L565.4,161.5L551.1,182.4L549.6,182.4ZM565.4,161.5L566.6,162.2L552.6,182.4L551.1,182.4ZM566.6,162.2L567.7,163.0L554.1,182.4L552.6,182.4ZM567.7,163.0L568.8,163.7L555.6,182.4L554.1,182.4ZM568.8,163.7L570.0,164.4L557.1,182.4L555.6,182.4ZM570.0,164.4L571.1,165.2L558.6,182.4L557.1,182.4ZM571.1,165.2L572.2,165.9L560.1,182.4L558.6,182.4ZM572.2,165.9L573.4,166.6L561.6,182.4L560.1,182.4ZM573.4,166.6L574.7,166.6L563.1,182.4L561.6,182.4ZM574.7,166.6L576.1,166.6L564.6,182.4L563.1,182.4ZM576.1,166.6L577.4,166.6L566.2,182.4L564.6,182.4ZM577.4,166.6L578.8,166.6L567.7,182.4L566.2,182.4ZM578.8,166.6L580.1,166.6L569.2,182.4L567.7,182.4ZM580.1,166.6L581.5,166.6L570.7,182.4L569.2,182.4ZM581.5,166.6L582.8,166.6L572.2,182.4L570.7,182.4ZM582.8,166.6L584.1,166.6L573.7,182.4L572.2,182.4ZM584.1,166.6L585.5,166.6L575.2,182.4L573.7,182.4ZM585.5,166.6L586.8,166.6L576.7,182.4L575.2,182.4ZM586.8,166.6L588.2,166.6L578.2,182.4L576.7,182.4ZM588.2,166.6L589.5,166.6L579.7,182.4L578.2,182.4ZM589.5,166.6L590.9,166.6L581.2,182.4L579.7,182.4ZM590.9,166.6L592.2,166.6L582.7,182.4L581.2,182.4ZM592.2,166.6L593.6,166.6L584.3,182.4L582.7,182.4ZM593.6,166.6L594.9,166.6L585.8,182.4L584.3,182.4ZM594.9,166.6L596.3,166.6L587.3,182.4L585.8,182.4ZM596.3,166.6L597.6,166.6L588.8,182.4L587.3,182.4ZM597.6,166.6L599.0,166.6L590.3,182.4L588.8,182.4ZM599.0,166.6L600.3,166.6L591.8,182.4L590.3,182.4ZM600.3,166.6L601.7,166.6L593.3,182.4L591.8,182.4ZM601.7,166.6L603.0,166.6L594.8,182.4L593.3,182.4ZM603.0,166.6L604.4,166.6L596.3,182.4L594.8,182.4ZM604.4,166.6L605.7,166.6L597.8,182.4L596.3,182.4ZM605.7,166.6L607.1,166.6L599.3,182.4L597.8,182.4ZM607.1,166.6L608.4,166.6L600.9,182.4L599.3,182.4ZM608.4,166.6L609.8,166.6L602.4,182.4L600.9,182.4ZM609.8,166.6L611.1,166.6L603.9,182.4L602.4,182.4ZM611.1,166.6L612.5,166.6L605.4,182.4L603.9,182.4ZM612.5,166.6L613.8,166.6L606.9,182.4L605.4,182.4ZM613.8,166.6L615.1,166.6L608.4,182.4L606.9,182.4ZM615.1,166.6L616.5,166.6L609.9,182.4L608.4,182.4ZM616.5,166.6L617.8,166.6L611.4,182.4L609.9,182.4ZM617.8,166.6L619.2,166.6L612.9,182.4L611.4,182.4ZM619.2,166.6L620.5,166.6L614.4,182.4L612.9,182.4ZM620.5,166.6L621.9,166.6L615.9,182.4L614.4,182.4ZM621.9,166.6L623.2,166.6L617.5,182.4L615.9,182.4ZM623.2,166.6L624.6,166.6L619.0,182.4L617.5,182.4ZM624.6,166.6L625.9,166.6L620.5,182.4L619.0,182.4ZM625.9,166.6L627.3,166.6L622.0,182.4L620.5,182.4ZM627.3,166.6L628.6,166.6L623.5,182.4L622.0,182.4ZM628.6,166.6L630.0,166.6L625.0,182.4L623.5,182.4ZM630.0,166.6L631.3,166.6L626.5,182.4L625.0,182.4ZM631.3,166.6L632.7,166.6L628.0,182.4L626.5,182.4ZM632.7,166.6L634.0,166.6L629.5,182.4L628.0,182.4ZM634.0,166.6L635.4,166.6L631.0,182.4L629.5,182.4ZM635.4,166.6L636.7,166.6L632.5,182.4L631.0,182.4ZM636.7,166.6L638.1,166.6L634.1,182.4L632.5,182.4ZM638.1,166.6L639.4,166.6L635.6,182.4L634.1,182.4ZM639.4,166.6L640.8,166.6L637.1,182.4L635.6,182.4ZM640.8,166.6L642.1,166.6L638.6,182.4L637.1,182.4ZM642.1,166.6L643.5,166.6L640.1,182.4L638.6,182.4ZM643.5,166.6L644.8,166.6L641.6,182.4L640.1,182.4ZM644.8,166.6L646.1,166.6L643.1,182.4L641.6,182.4ZM646.1,166.6L647.5,166.6L644.6,182.4L643.1,182.4ZM647.5,166.6L648.8,166.6L646.1,182.4L644.6,182.4ZM648.8,166.6L650.2,166.6L647.6,182.4L646.1,182.4ZM650.2,166.6L651.5,166.6L649.1,182.4L647.6,182.4ZM651.5,166.6L652.9,166.6L650.6,182.4L649.1,182.4ZM652.9,166.6L654.2,166.6L652.2,182.4L650.6,182.4ZM654.2,166.6L655.6,166.6L653.7,182.4L652.2,182.4ZM655.6,166.6L656.9,166.6L655.2,182.4L653.7,182.4ZM656.9,166.6L658.3,166.6L656.7,182.4L655.2,182.4ZM658.3,166.6L659.6,166.6L658.2,182.4L656.7,182.4ZM659.6,166.6L661.0,166.6L659.7,182.4L658.2,182.4ZM661.0,166.6L662.3,166.6L661.2,182.4L659.7,182.4ZM662.3,166.6L663.7,166.6L662.7,182.4L661.2,182.4ZM663.7,166.6L665.0,166.6L664.2,182.4L662.7,182.4ZM665.0,166.6L666.4,166.6L665.7,182.4L664.2,182.4ZM666.4,166.6L667.7,166.6L667.2,182.4L665.7,182.4ZM667.7,166.6L669.1,166.6L668.8,182.4L667.2,182.4ZM669.1,166.6L670.4,166.6L670.3,182.4L668.8,182.4ZM670.4,166.6L671.8,166.6L671.8,182.4L670.3,182.4ZM671.8,166.6L673.1,166.6L673.3,182.4L671.8,182.4ZM673.1,166.6L674.5,166.6L674.8,182.4L673.3,182.4ZM674.5,166.6L675.8,166.6L676.3,182.4L674.8,182.4Z" fill="#bebebe" stroke="#bebebe" stroke-width="0.6" stroke-linejoin="round"/>
<path d="M513.7,19.7L530.0,20.3M516.7,37.6L531.7,35.8M519.6,55.5L533.4,51.3M522.6,73.4L534.5,66.8M525.5,91.3L535.7,82.4M528.5,109.3L536.8,97.9M531.4,127.2L538.9,113.3M534.4,145.1L541.7,128.6M537.3,163.0L547.0,143.2M540.3,180.9L556.7,155.4M557.1,182.4L570.0,164.4M575.2,182.4L585.5,166.6M593.3,182.4L601.7,166.6M611.4,182.4L617.8,166.6M629.5,182.4L634.0,166.6M647.6,182.4L650.2,166.6M665.7,182.4L666.4,166.6" stroke="#a3a3a3" stroke-width="0.6" fill="none"/>

<polyline points="513.7,19.7 540.5,182.4 676.3,182.4" fill="none" stroke="#8b0000" stroke-width="2.7" stroke-linejoin="round" stroke-linecap="round"/>
<polyline points="530.0,20.3 533.4,51.3 537.1,101.7 541.0,126.7 546.3,142.4 557.5,156.4 573.3,166.6 675.8,166.6" fill="none" stroke="#3d3d3d" stroke-width="3.1" stroke-linejoin="round" stroke-linecap="round"/>

<circle cx="530.0" cy="20.3" r="3.4" fill="#3d3d3d"/>
<circle cx="533.4" cy="51.3" r="3.4" fill="#3d3d3d"/>
<circle cx="537.1" cy="101.7" r="3.4" fill="#3d3d3d"/>
<circle cx="541.0" cy="126.7" r="3.4" fill="#3d3d3d"/>
<circle cx="546.3" cy="142.4" r="3.4" fill="#3d3d3d"/>
<circle cx="557.5" cy="156.4" r="3.4" fill="#3d3d3d"/>
<circle cx="573.3" cy="166.6" r="3.4" fill="#3d3d3d"/>
<circle cx="675.8" cy="166.6" r="3.4" fill="#3d3d3d"/>
<path d="M507.50,13.55V190.25M682.70,13.55V190.25" stroke="#000" stroke-width="1.9" fill="none"/>
<path d="M506.55,14.30H683.65M506.55,189.50H683.65" stroke="#000" stroke-width="1.5" fill="none"/>
<line x1="513.99" y1="189.50" x2="513.99" y2="196.50" stroke="#000" stroke-width="1.8"/>
<text x="513.99" y="213.20" text-anchor="middle" font-size="11">0</text>
<line x1="568.06" y1="189.50" x2="568.06" y2="196.50" stroke="#000" stroke-width="1.8"/>
<text x="568.06" y="213.20" text-anchor="middle" font-size="11">100</text>
<line x1="622.14" y1="189.50" x2="622.14" y2="196.50" stroke="#000" stroke-width="1.8"/>
<text x="622.14" y="213.20" text-anchor="middle" font-size="11">200</text>
<line x1="676.21" y1="189.50" x2="676.21" y2="196.50" stroke="#000" stroke-width="1.8"/>
<text x="676.21" y="213.20" text-anchor="middle" font-size="11">300</text>
<line x1="507.50" y1="183.01" x2="500.50" y2="183.01" stroke="#000" stroke-width="1.4"/>
<text transform="translate(492.70,183.01) rotate(-90)" text-anchor="middle" font-size="11">0</text>
<line x1="507.50" y1="128.94" x2="500.50" y2="128.94" stroke="#000" stroke-width="1.4"/>
<text transform="translate(492.70,128.94) rotate(-90)" text-anchor="middle" font-size="11">100</text>
<line x1="507.50" y1="74.86" x2="500.50" y2="74.86" stroke="#000" stroke-width="1.4"/>
<text transform="translate(492.70,74.86) rotate(-90)" text-anchor="middle" font-size="11">200</text>
<line x1="507.50" y1="20.79" x2="500.50" y2="20.79" stroke="#000" stroke-width="1.4"/>
<text transform="translate(492.70,20.79) rotate(-90)" text-anchor="middle" font-size="11">300</text>
<text x="595.10" y="9.90" text-anchor="middle" font-size="14" font-weight="bold">Line Segmentation</text>
</g>
<g>
<line x1="30.54" y1="249.40" x2="30.54" y2="424.60" stroke="#d3d3d3" stroke-width="1.4"/>
<line x1="57.58" y1="249.40" x2="57.58" y2="424.60" stroke="#d3d3d3" stroke-width="1.4"/>
<line x1="84.61" y1="249.40" x2="84.61" y2="424.60" stroke="#d3d3d3" stroke-width="1.4"/>
<line x1="111.65" y1="249.40" x2="111.65" y2="424.60" stroke="#d3d3d3" stroke-width="1.4"/>
<line x1="138.69" y1="249.40" x2="138.69" y2="424.60" stroke="#d3d3d3" stroke-width="1.4"/>
<line x1="165.72" y1="249.40" x2="165.72" y2="424.60" stroke="#d3d3d3" stroke-width="1.4"/>
<line x1="192.76" y1="249.40" x2="192.76" y2="424.60" stroke="#d3d3d3" stroke-width="1.4"/>
<line x1="24.05" y1="418.11" x2="199.25" y2="418.11" stroke="#d3d3d3" stroke-width="1.15"/>
<line x1="24.05" y1="391.07" x2="199.25" y2="391.07" stroke="#d3d3d3" stroke-width="1.15"/>
<line x1="24.05" y1="364.04" x2="199.25" y2="364.04" stroke="#d3d3d3" stroke-width="1.15"/>
<line x1="24.05" y1="337.00" x2="199.25" y2="337.00" stroke="#d3d3d3" stroke-width="1.15"/>
<line x1="24.05" y1="309.96" x2="199.25" y2="309.96" stroke="#d3d3d3" stroke-width="1.15"/>
<line x1="24.05" y1="282.93" x2="199.25" y2="282.93" stroke="#d3d3d3" stroke-width="1.15"/>
<line x1="24.05" y1="255.89" x2="199.25" y2="255.89" stroke="#d3d3d3" stroke-width="1.15"/>
<path d="M98.4,332.4L98.4,332.4L64.7,274.6L65.7,273.5ZM98.4,332.4L98.4,332.4L63.7,275.8L64.7,274.6ZM98.4,332.4L98.4,332.4L62.6,276.9L63.7,275.8ZM98.4,332.4L98.4,332.4L61.6,278.1L62.6,276.9ZM98.4,332.4L98.4,332.4L60.6,279.2L61.6,278.1ZM98.4,332.4L98.4,332.4L59.6,280.3L60.6,279.2ZM98.4,332.4L98.4,332.4L58.6,281.5L59.6,280.3ZM98.4,332.4L98.4,332.4L57.6,282.6L58.6,281.5ZM57.6,282.6L58.5,283.7L98.4,332.4L98.4,332.4ZM58.5,283.7L59.5,284.8L98.4,332.4L98.4,332.4ZM59.5,284.8L60.6,286.0L98.4,332.4L98.4,332.4ZM60.6,286.0L61.7,287.1L98.4,332.4L98.4,332.4ZM61.7,287.1L62.7,288.2L98.4,332.4L98.4,332.4ZM62.7,288.2L63.8,289.3L98.4,332.4L98.4,332.4ZM63.8,289.3L64.8,290.4L98.4,332.4L98.4,332.4ZM64.8,290.4L65.9,291.5L98.4,332.4L98.4,332.4ZM65.9,291.5L66.9,292.6L98.4,332.4L98.4,332.4ZM66.9,292.6L68.0,293.7L98.4,332.4L98.4,332.4ZM68.0,293.7L69.1,294.8L98.4,332.4L98.4,332.4ZM69.1,294.8L70.1,295.9L98.4,332.4L98.4,332.4ZM98.4,332.4L98.4,332.4L70.4,297.3L70.1,295.9ZM98.4,332.4L98.4,332.4L70.5,298.8L70.4,297.3ZM98.4,332.4L98.4,332.4L70.5,300.4L70.5,298.8ZM98.4,332.4L98.4,332.4L70.5,301.9L70.5,300.4ZM98.4,332.4L98.4,332.4L70.6,303.4L70.5,301.9ZM98.4,332.4L98.4,332.4L70.6,305.0L70.6,303.4ZM98.4,332.4L98.4,332.4L70.6,306.5L70.6,305.0ZM98.4,332.4L98.4,332.4L70.7,308.0L70.6,306.5ZM98.4,332.4L98.4,332.4L70.7,309.5L70.7,308.0ZM98.4,332.4L98.4,332.4L70.7,311.1L70.7,309.5ZM98.4,332.4L98.4,332.4L70.8,312.6L70.7,311.1ZM98.4,332.4L98.4,332.4L70.8,314.1L70.8,312.6ZM98.4,332.4L98.4,332.4L71.2,315.5L70.8,314.1ZM98.4,332.4L98.4,332.4L72.1,316.8L71.2,315.5ZM98.4,332.4L98.4,332.4L73.0,318.0L72.1,316.8ZM98.4,332.4L98.4,332.4L73.9,319.3L73.0,318.0ZM98.4,332.4L98.4,332.4L74.7,320.5L73.9,319.3ZM98.4,332.4L98.4,332.4L75.6,321.8L74.7,320.5ZM98.4,332.4L98.4,332.4L76.5,323.0L75.6,321.8ZM98.4,332.4L98.4,332.4L77.4,324.3L76.5,323.0ZM98.4,332.4L98.4,332.4L78.3,325.5L77.4,324.3ZM98.4,332.4L98.4,332.4L79.1,326.8L78.3,325.5ZM98.4,332.4L98.4,332.4L80.0,328.0L79.1,326.8ZM98.4,332.4L98.4,332.4L80.9,329.3L80.0,328.0ZM98.4,332.4L98.4,332.4L81.8,330.5L80.9,329.3ZM98.4,332.4L98.4,332.4L82.6,331.8L81.8,330.5ZM98.4,332.4L98.4,332.4L83.5,333.0L82.6,331.8ZM98.4,332.4L98.4,332.4L84.4,334.3L83.5,333.0ZM98.4,332.4L98.3,333.1L84.5,335.8L84.4,334.3ZM98.3,333.1L98.2,333.8L84.6,337.3L84.5,335.8ZM98.2,333.8L98.2,334.5L84.6,338.9L84.6,337.3ZM98.2,334.5L98.1,335.2L84.7,340.4L84.6,338.9ZM98.1,335.2L98.0,335.8L84.8,341.9L84.7,340.4ZM98.0,335.8L97.9,336.5L84.2,343.3L84.8,341.9ZM97.9,336.5L97.8,337.2L83.6,344.7L84.2,343.3ZM97.8,337.2L97.8,337.9L83.0,346.1L83.6,344.7ZM97.8,337.9L97.7,338.6L82.4,347.5L83.0,346.1ZM97.7,338.6L97.6,339.3L81.8,348.9L82.4,347.5ZM97.6,339.3L97.5,340.0L81.2,350.3L81.8,348.9ZM97.5,340.0L97.5,340.7L80.8,351.7L81.2,350.3ZM97.5,340.7L97.4,341.3L80.7,353.3L80.8,351.7ZM97.4,341.3L97.3,342.0L80.6,354.8L80.7,353.3ZM97.3,342.0L97.2,342.7L80.5,356.3L80.6,354.8ZM97.2,342.7L97.4,343.4L80.3,357.8L80.5,356.3ZM97.4,343.4L97.7,344.0L80.2,359.3L80.3,357.8ZM97.7,344.0L98.0,344.6L80.8,360.7L80.2,359.3ZM98.0,344.6L98.3,345.2L81.5,362.1L80.8,360.7ZM98.3,345.2L98.6,345.8L82.1,363.5L81.5,362.1ZM98.6,345.8L98.9,346.5L82.7,364.9L82.1,363.5ZM98.9,346.5L99.2,347.1L83.3,366.2L82.7,364.9ZM99.2,347.1L99.5,347.7L84.0,367.6L83.3,366.2ZM99.5,347.7L99.8,348.3L84.8,368.8L84.0,367.6ZM99.8,348.3L100.2,349.0L86.2,369.5L84.8,368.8ZM100.2,349.0L100.5,349.6L87.5,370.1L86.2,369.5ZM100.5,349.6L100.8,350.2L88.9,370.8L87.5,370.1ZM100.8,350.2L101.1,350.8L90.2,371.5L88.9,370.8ZM101.1,350.8L101.6,351.2L91.6,372.2L90.2,371.5ZM101.6,351.2L102.2,351.5L93.0,372.8L91.6,372.2ZM102.2,351.5L102.8,351.8L94.3,373.5L93.0,372.8ZM102.8,351.8L103.5,352.1L95.7,373.4L94.3,373.5ZM103.5,352.1L104.1,352.3L97.1,372.8L95.7,373.4ZM104.1,352.3L104.7,352.6L98.5,372.2L97.1,372.8ZM104.7,352.6L105.4,352.9L99.9,371.6L98.5,372.2ZM105.4,352.9L106.0,353.1L101.3,371.0L99.9,371.6ZM106.0,353.1L106.7,353.4L102.7,370.4L101.3,371.0ZM106.7,353.4L107.3,353.7L104.1,369.8L102.7,370.4ZM107.3,353.7L107.9,353.9L104.9,368.6L104.1,369.8ZM107.9,353.9L108.6,354.2L105.6,367.3L104.9,368.6ZM108.6,354.2L109.2,354.5L106.4,365.9L105.6,367.3ZM109.2,354.5L109.8,354.7L107.1,364.6L106.4,365.9ZM109.8,354.7L110.5,355.0L107.9,363.3L107.1,364.6ZM110.5,355.0L111.1,355.3L108.6,362.0L107.9,363.3ZM111.1,355.3L111.8,355.5L109.4,360.6L108.6,362.0ZM111.8,355.5L112.4,355.8L110.1,359.3L109.4,360.6ZM112.4,355.8L113.8,355.4L110.6,358.5L110.1,359.3ZM113.8,355.4L115.3,354.9L111.2,357.7L110.6,358.5ZM111.2,357.7L111.7,356.8L116.7,354.5L115.3,354.9ZM111.7,356.8L112.3,356.0L118.2,354.1L116.7,354.5ZM112.3,356.0L112.8,355.2L119.6,353.7L118.2,354.1ZM112.8,355.2L113.4,354.4L121.1,353.2L119.6,353.7ZM113.4,354.4L113.9,353.5L122.3,352.4L121.1,353.2ZM113.9,353.5L114.5,352.7L123.2,351.2L122.3,352.4ZM114.5,352.7L115.0,351.9L124.1,350.1L123.2,351.2ZM115.0,351.9L115.6,351.1L125.0,348.9L124.1,350.1ZM115.6,351.1L116.1,350.3L126.0,347.7L125.0,348.9ZM116.1,350.3L116.7,349.4L126.9,346.5L126.0,347.7ZM116.7,349.4L117.2,348.6L127.8,345.3L126.9,346.5ZM117.2,348.6L117.8,347.8L128.8,344.2L127.8,345.3ZM117.8,347.8L118.3,346.9L129.7,343.0L128.8,344.2ZM118.3,346.9L118.8,346.1L130.6,341.8L129.7,343.0ZM118.8,346.1L119.4,345.3L131.6,340.6L130.6,341.8ZM119.4,345.3L119.9,344.4L132.5,339.4L131.6,340.6ZM119.9,344.4L120.4,343.6L133.4,338.2L132.5,339.4ZM120.4,343.6L121.0,342.8L134.2,337.0L133.4,338.2ZM121.0,342.8L121.5,341.9L135.0,335.7L134.2,337.0ZM121.5,341.9L122.0,341.1L135.8,334.4L135.0,335.7ZM122.0,341.1L122.6,340.3L136.6,333.1L135.8,334.4ZM122.6,340.3L123.1,339.5L137.4,331.8L136.6,333.1ZM123.1,339.5L123.6,338.6L138.2,330.6L137.4,331.8ZM123.6,338.6L124.2,337.8L139.0,329.3L138.2,330.6ZM124.2,337.8L124.7,337.0L139.8,328.0L139.0,329.3ZM124.7,337.0L125.2,336.1L140.6,326.7L139.8,328.0ZM125.2,336.1L125.8,335.3L141.4,325.4L140.6,326.7ZM125.8,335.3L126.3,334.5L142.1,324.2L141.4,325.4ZM126.3,334.5L126.8,333.6L142.9,322.9L142.1,324.2ZM126.8,333.6L127.3,332.8L143.4,321.5L142.9,322.9ZM127.3,332.8L127.8,331.9L143.9,320.0L143.4,321.5ZM127.8,331.9L128.1,331.0L144.5,318.6L143.9,320.0ZM128.1,331.0L128.4,330.0L145.0,317.2L144.5,318.6ZM128.4,330.0L128.8,329.1L145.5,315.8L145.0,317.2ZM128.8,329.1L129.1,328.2L146.0,314.4L145.5,315.8ZM129.1,328.2L129.4,327.3L146.4,312.9L146.0,314.4ZM129.4,327.3L129.8,326.3L146.6,311.5L146.4,312.9ZM129.8,326.3L130.1,325.4L146.8,310.0L146.6,311.5ZM130.1,325.4L130.4,324.5L147.1,308.5L146.8,310.0ZM130.4,324.5L130.8,323.5L147.3,307.0L147.1,308.5ZM130.8,323.5L131.1,322.6L147.5,305.5L147.3,307.0Z" fill="#bebebe" stroke="#bebebe" stroke-width="0.6" stroke-linejoin="round"/>
<path d="M65.7,273.5L98.4,332.4M62.6,276.9L98.4,332.4M59.6,280.3L98.4,332.4M58.5,283.7L98.4,332.4M61.7,287.1L98.4,332.4M64.8,290.4L98.4,332.4M68.0,293.7L98.4,332.4M70.4,297.3L98.4,332.4M70.5,301.9L98.4,332.4M70.6,306.5L98.4,332.4M70.7,311.1L98.4,332.4M71.2,315.5L98.4,332.4M73.9,319.3L98.4,332.4M76.5,323.0L98.4,332.4M79.1,326.8L98.4,332.4M81.8,330.5L98.4,332.4M84.4,334.3L98.4,332.4M84.6,338.9L98.2,334.5M84.2,343.3L97.9,336.5M82.4,347.5L97.7,338.6M80.8,351.7L97.5,340.7M80.5,356.3L97.2,342.7M80.8,360.7L98.0,344.6M82.7,364.9L98.9,346.5M84.8,368.8L99.8,348.3M88.9,370.8L100.8,350.2M93.0,372.8L102.2,351.5M97.1,372.8L104.1,352.3M101.3,371.0L106.0,353.1M104.9,368.6L107.9,353.9M107.1,364.6L109.8,354.7M109.4,360.6L111.8,355.5M111.2,357.7L115.3,354.9M112.8,355.2L119.6,353.7M114.5,352.7L123.2,351.2M116.1,350.3L126.0,347.7M117.8,347.8L128.8,344.2M119.4,345.3L131.6,340.6M121.0,342.8L134.2,337.0M122.6,340.3L136.6,333.1M124.2,337.8L139.0,329.3M125.8,335.3L141.4,325.4M127.3,332.8L143.4,321.5M128.4,330.0L145.0,317.2M129.4,327.3L146.4,312.9M130.4,324.5L147.1,308.5" stroke="#9e9e9e" stroke-width="0.75" fill="none"/>

<polyline points="65.7,273.5 57.5,282.7 70.4,296.2 70.8,314.9 84.4,334.3 84.8,341.8 80.9,351.1 80.2,359.3 84.4,368.6 94.9,373.8 104.2,369.8 110.1,359.3 117.1,348.8 127.6,332.4 131.1,322.6" fill="none" stroke="#8b0000" stroke-width="2.7" stroke-linejoin="round" stroke-linecap="round"/>
<polyline points="98.4,332.4 97.2,342.9 101.2,351.1 112.4,355.8 121.8,353.0 133.4,338.3 142.8,323.1 146.3,313.7 147.5,305.5" fill="none" stroke="#3d3d3d" stroke-width="3.1" stroke-linejoin="round" stroke-linecap="round"/>

<path d="M24.05,248.65V425.35M199.25,248.65V425.35" stroke="#000" stroke-width="1.9" fill="none"/>
<path d="M23.10,249.40H200.20M23.10,424.60H200.20" stroke="#000" stroke-width="1.5" fill="none"/>
<line x1="30.54" y1="424.60" x2="30.54" y2="431.60" stroke="#000" stroke-width="1.8"/>
<text x="30.54" y="448.30" text-anchor="middle" font-size="11">0</text>
<line x1="84.61" y1="424.60" x2="84.61" y2="431.60" stroke="#000" stroke-width="1.8"/>
<text x="84.61" y="448.30" text-anchor="middle" font-size="11">100</text>
<line x1="138.69" y1="424.60" x2="138.69" y2="431.60" stroke="#000" stroke-width="1.8"/>
<text x="138.69" y="448.30" text-anchor="middle" font-size="11">200</text>
<line x1="192.76" y1="424.60" x2="192.76" y2="431.60" stroke="#000" stroke-width="1.8"/>
<text x="192.76" y="448.30" text-anchor="middle" font-size="11">300</text>
<line x1="24.05" y1="418.11" x2="17.05" y2="418.11" stroke="#000" stroke-width="1.4"/>
<text transform="translate(9.25,418.11) rotate(-90)" text-anchor="middle" font-size="11">0</text>
<line x1="24.05" y1="364.04" x2="17.05" y2="364.04" stroke="#000" stroke-width="1.4"/>
<text transform="translate(9.25,364.04) rotate(-90)" text-anchor="middle" font-size="11">100</text>
<line x1="24.05" y1="309.96" x2="17.05" y2="309.96" stroke="#000" stroke-width="1.4"/>
<text transform="translate(9.25,309.96) rotate(-90)" text-anchor="middle" font-size="11">200</text>
<line x1="24.05" y1="255.89" x2="17.05" y2="255.89" stroke="#000" stroke-width="1.4"/>
<text transform="translate(9.25,255.89) rotate(-90)" text-anchor="middle" font-size="11">300</text>
<text x="111.65" y="245.00" text-anchor="middle" font-size="14" font-weight="bold">Incomplete Routes</text>
</g>
<g>
<line x1="272.49" y1="249.40" x2="272.49" y2="424.60" stroke="#d3d3d3" stroke-width="1.4"/>
<line x1="299.53" y1="249.40" x2="299.53" y2="424.60" stroke="#d3d3d3" stroke-width="1.4"/>
<line x1="326.56" y1="249.40" x2="326.56" y2="424.60" stroke="#d3d3d3" stroke-width="1.4"/>
<line x1="353.60" y1="249.40" x2="353.60" y2="424.60" stroke="#d3d3d3" stroke-width="1.4"/>
<line x1="380.64" y1="249.40" x2="380.64" y2="424.60" stroke="#d3d3d3" stroke-width="1.4"/>
<line x1="407.67" y1="249.40" x2="407.67" y2="424.60" stroke="#d3d3d3" stroke-width="1.4"/>
<line x1="434.71" y1="249.40" x2="434.71" y2="424.60" stroke="#d3d3d3" stroke-width="1.4"/>
<line x1="266.00" y1="418.11" x2="441.20" y2="418.11" stroke="#d3d3d3" stroke-width="1.15"/>
<line x1="266.00" y1="391.07" x2="441.20" y2="391.07" stroke="#d3d3d3" stroke-width="1.15"/>
<line x1="266.00" y1="364.04" x2="441.20" y2="364.04" stroke="#d3d3d3" stroke-width="1.15"/>
<line x1="266.00" y1="337.00" x2="441.20" y2="337.00" stroke="#d3d3d3" stroke-width="1.15"/>
<line x1="266.00" y1="309.96" x2="441.20" y2="309.96" stroke="#d3d3d3" stroke-width="1.15"/>
<line x1="266.00" y1="282.93" x2="441.20" y2="282.93" stroke="#d3d3d3" stroke-width="1.15"/>
<line x1="266.00" y1="255.89" x2="441.20" y2="255.89" stroke="#d3d3d3" stroke-width="1.15"/>
<path d="M276.8,336.5L278.0,336.5L278.3,345.5L276.8,345.5ZM278.0,336.5L279.3,336.5L279.8,345.5L278.3,345.5ZM279.3,336.5L280.5,336.5L281.4,345.5L279.8,345.5ZM280.5,336.5L281.7,336.5L282.9,345.5L281.4,345.5ZM281.7,336.5L282.9,336.5L284.4,345.5L282.9,345.5ZM282.9,336.5L284.2,336.5L285.9,345.5L284.4,345.5ZM284.2,336.5L285.4,336.5L287.5,345.5L285.9,345.5ZM285.4,336.5L286.6,336.5L289.0,345.5L287.5,345.5ZM286.6,336.5L287.9,336.5L290.5,345.5L289.0,345.5ZM287.9,336.5L289.1,336.5L292.0,345.5L290.5,345.5ZM289.1,336.5L290.3,336.5L293.5,345.5L292.0,345.5ZM290.3,336.5L291.6,336.5L295.1,345.5L293.5,345.5ZM291.6,336.5L292.8,336.5L296.6,345.5L295.1,345.5ZM292.8,336.5L294.0,336.5L298.1,345.5L296.6,345.5ZM294.0,336.5L295.2,336.5L299.6,345.5L298.1,345.5ZM295.2,336.5L296.5,336.5L301.2,345.5L299.6,345.5ZM296.5,336.5L297.7,336.5L302.7,345.5L301.2,345.5ZM297.7,336.5L298.9,336.5L304.2,345.5L302.7,345.5ZM298.9,336.5L300.2,336.5L305.7,345.5L304.2,345.5ZM300.2,336.5L301.4,336.5L307.2,345.5L305.7,345.5ZM301.4,336.5L302.6,336.5L308.8,345.5L307.2,345.5ZM302.6,336.5L303.8,336.5L310.3,345.5L308.8,345.5ZM303.8,336.5L305.1,336.5L311.8,345.5L310.3,345.5ZM305.1,336.5L306.3,336.5L313.3,345.5L311.8,345.5ZM306.3,336.5L307.5,336.5L314.8,345.5L313.3,345.5ZM307.5,336.5L308.8,336.5L316.4,345.5L314.8,345.5ZM308.8,336.5L310.0,336.5L317.9,345.5L316.4,345.5ZM310.0,336.5L311.2,336.5L319.4,345.5L317.9,345.5ZM311.2,336.5L312.4,336.5L320.9,345.5L319.4,345.5ZM312.4,336.5L313.7,336.5L322.5,345.5L320.9,345.5ZM313.7,336.5L314.9,336.5L324.0,345.5L322.5,345.5ZM314.9,336.5L316.1,336.5L325.5,345.5L324.0,345.5ZM316.1,336.5L317.4,336.5L327.0,345.5L325.5,345.5ZM317.4,336.5L318.6,336.5L328.5,345.5L327.0,345.5ZM318.6,336.5L319.8,336.5L330.1,345.5L328.5,345.5ZM319.8,336.5L321.1,336.5L331.6,345.5L330.1,345.5ZM321.1,336.5L322.3,336.5L333.1,345.5L331.6,345.5ZM322.3,336.5L323.5,336.5L334.6,345.5L333.1,345.5ZM323.5,336.5L324.7,336.5L336.2,345.5L334.6,345.5ZM324.7,336.5L326.0,336.5L337.7,345.5L336.2,345.5ZM326.0,336.5L327.2,336.5L339.2,345.5L337.7,345.5ZM327.2,336.5L328.6,335.9L339.4,345.8L339.2,345.5ZM328.6,335.9L330.0,335.2L339.7,346.2L339.4,345.8ZM330.0,335.2L331.4,334.6L339.9,346.5L339.7,346.2ZM331.4,334.6L332.7,334.0L340.2,346.8L339.9,346.5ZM332.7,334.0L334.1,333.4L340.4,347.1L340.2,346.8ZM334.1,333.4L335.5,332.7L340.7,347.5L340.4,347.1ZM335.5,332.7L336.8,332.0L340.9,347.8L340.7,347.5ZM336.8,332.0L337.8,330.8L341.2,348.1L340.9,347.8ZM337.8,330.8L338.7,329.6L341.4,348.5L341.2,348.1ZM338.7,329.6L339.6,328.4L341.7,348.8L341.4,348.5ZM339.6,328.4L340.5,327.2L341.9,349.1L341.7,348.8ZM340.5,327.2L341.5,326.0L342.2,349.5L341.9,349.1ZM341.5,326.0L342.4,324.8L342.4,349.8L342.2,349.5ZM342.4,324.8L343.3,323.6L342.7,350.1L342.4,349.8ZM343.3,323.6L344.2,322.4L342.9,350.4L342.7,350.1ZM344.2,322.4L345.2,321.2L343.2,350.8L342.9,350.4ZM345.2,321.2L346.1,320.0L343.4,351.1L343.2,350.8ZM346.1,320.0L347.0,318.8L343.7,351.4L343.4,351.1ZM347.0,318.8L348.0,317.6L343.9,351.8L343.7,351.4ZM348.0,317.6L348.9,316.5L344.2,352.1L343.9,351.8ZM348.9,316.5L350.0,315.3L344.4,352.4L344.2,352.1ZM350.0,315.3L351.0,314.2L344.7,352.8L344.4,352.4ZM351.0,314.2L352.0,313.0L344.9,353.1L344.7,352.8ZM352.0,313.0L353.0,311.9L345.2,353.4L344.9,353.1ZM353.0,311.9L354.0,310.8L345.4,353.7L345.2,353.4ZM354.0,310.8L355.0,309.6L345.7,354.1L345.4,353.7ZM355.0,309.6L356.0,308.5L345.9,354.4L345.7,354.1ZM356.0,308.5L357.0,307.4L346.2,354.7L345.9,354.4ZM357.0,307.4L358.0,306.2L346.4,355.1L346.2,354.7ZM358.0,306.2L359.2,305.3L346.7,355.4L346.4,355.1ZM359.2,305.3L360.4,304.4L346.9,355.7L346.7,355.4ZM360.4,304.4L361.7,303.6L347.2,356.1L346.9,355.7ZM361.7,303.6L363.0,302.7L347.4,356.4L347.2,356.1ZM363.0,302.7L364.2,301.9L347.7,356.7L347.4,356.4ZM364.2,301.9L365.5,301.1L347.9,357.0L347.7,356.7ZM365.5,301.1L366.9,300.4L348.2,357.4L347.9,357.0ZM366.9,300.4L368.3,300.1L348.4,357.7L348.2,357.4ZM368.3,300.1L369.8,299.7L348.7,358.0L348.4,357.7ZM369.8,299.7L371.3,299.3L348.9,358.4L348.7,358.0ZM371.3,299.3L372.8,298.9L349.2,358.7L348.9,358.4ZM372.8,298.9L374.2,298.6L349.4,359.0L349.2,358.7ZM374.2,298.6L375.7,298.2L349.7,359.4L349.4,359.0ZM375.7,298.2L377.2,297.9L349.9,359.7L349.7,359.4ZM377.2,297.9L378.7,297.7L350.2,360.0L349.9,359.7ZM378.7,297.7L380.2,297.6L350.4,360.3L350.2,360.0ZM380.2,297.6L381.7,297.4L350.7,360.7L350.4,360.3ZM381.7,297.4L383.2,297.2L350.9,361.0L350.7,360.7ZM383.2,297.2L384.7,297.0L351.2,361.3L350.9,361.0ZM384.7,297.0L386.2,296.8L351.4,361.7L351.2,361.3ZM386.2,296.8L387.7,296.7L351.7,362.0L351.4,361.7ZM387.7,296.7L389.3,296.5L351.9,362.3L351.7,362.0ZM389.3,296.5L390.8,296.3L352.2,362.7L351.9,362.3ZM390.8,296.3L392.3,296.1L352.4,363.0L352.2,362.7ZM392.3,296.1L393.8,295.9L352.7,363.3L352.4,363.0ZM393.8,295.9L395.3,295.8L352.9,363.6L352.7,363.3ZM395.3,295.8L396.8,295.6L353.2,364.0L352.9,363.6ZM396.8,295.6L398.3,295.4L353.4,364.3L353.2,364.0ZM398.3,295.4L399.7,295.9L353.9,364.3L353.4,364.3ZM399.7,295.9L401.1,296.4L354.4,364.3L353.9,364.3ZM401.1,296.4L402.6,296.9L354.8,364.3L354.4,364.3ZM402.6,296.9L404.0,297.4L355.3,364.3L354.8,364.3ZM404.0,297.4L405.4,297.8L355.8,364.3L355.3,364.3ZM405.4,297.8L406.8,298.3L356.3,364.3L355.8,364.3ZM406.8,298.3L407.8,299.4L356.8,364.3L356.3,364.3ZM407.8,299.4L408.5,300.7L357.2,364.3L356.8,364.3ZM408.5,300.7L409.2,302.0L357.7,364.3L357.2,364.3ZM409.2,302.0L409.9,303.3L358.2,364.3L357.7,364.3ZM409.9,303.3L410.6,304.7L358.7,364.3L358.2,364.3ZM410.6,304.7L411.3,306.0L359.2,364.3L358.7,364.3ZM411.3,306.0L412.0,307.3L359.6,364.3L359.2,364.3ZM412.0,307.3L412.4,308.7L360.1,364.3L359.6,364.3ZM412.4,308.7L412.2,310.2L360.6,364.3L360.1,364.3ZM412.2,310.2L411.9,311.6L361.1,364.3L360.6,364.3ZM411.9,311.6L411.7,313.1L361.6,364.3L361.1,364.3ZM411.7,313.1L411.4,314.6L362.0,364.3L361.6,364.3ZM411.4,314.6L411.2,316.1L362.5,364.3L362.0,364.3ZM411.2,316.1L410.4,317.4L363.0,364.3L362.5,364.3ZM410.4,317.4L409.7,318.7L363.5,364.3L363.0,364.3ZM409.7,318.7L408.9,320.0L364.0,364.3L363.5,364.3ZM408.9,320.0L408.2,321.3L364.4,364.3L364.0,364.3ZM408.2,321.3L407.5,322.6L364.9,364.3L364.4,364.3ZM407.5,322.6L406.7,323.9L365.4,364.3L364.9,364.3ZM406.7,323.9L406.0,325.2L365.9,364.3L365.4,364.3ZM406.0,325.2L405.3,326.5L366.4,364.3L365.9,364.3ZM405.3,326.5L404.5,327.8L366.9,364.3L366.4,364.3ZM404.5,327.8L403.8,329.1L367.3,364.3L366.9,364.3ZM403.8,329.1L403.1,330.5L367.8,364.3L367.3,364.3ZM403.1,330.5L402.4,331.8L368.3,364.3L367.8,364.3ZM402.4,331.8L401.7,333.1L368.8,364.3L368.3,364.3ZM401.7,333.1L400.9,334.4L369.3,364.3L368.8,364.3ZM400.9,334.4L400.2,335.7L369.7,364.3L369.3,364.3ZM400.2,335.7L399.5,337.1L370.2,364.3L369.7,364.3ZM399.5,337.1L398.8,338.4L370.7,364.3L370.2,364.3ZM398.8,338.4L398.1,339.7L371.2,364.3L370.7,364.3ZM398.1,339.7L397.4,341.0L371.7,364.3L371.2,364.3ZM397.4,341.0L396.6,342.3L372.1,364.3L371.7,364.3ZM396.6,342.3L395.9,343.6L372.6,364.3L372.1,364.3ZM395.9,343.6L395.1,344.9L373.1,364.3L372.6,364.3ZM395.1,344.9L394.3,346.2L373.6,364.3L373.1,364.3ZM394.3,346.2L393.5,347.5L374.1,364.3L373.6,364.3ZM393.5,347.5L392.8,348.7L374.5,364.3L374.1,364.3ZM392.8,348.7L392.0,350.0L375.0,364.3L374.5,364.3ZM392.0,350.0L391.2,351.3L375.5,364.3L375.0,364.3ZM391.2,351.3L390.4,352.6L376.0,364.3L375.5,364.3ZM390.4,352.6L389.7,353.9L376.5,364.3L376.0,364.3ZM389.7,353.9L388.6,354.8L376.9,364.3L376.5,364.3ZM376.9,364.3L377.4,364.3L387.2,355.4L388.6,354.8ZM377.4,364.3L377.9,364.3L385.8,356.0L387.2,355.4ZM377.9,364.3L378.4,364.3L384.5,356.7L385.8,356.0ZM378.4,364.3L378.9,364.3L383.1,357.3L384.5,356.7ZM378.9,364.3L379.3,364.3L381.7,357.9L383.1,357.3ZM379.3,364.3L379.8,364.3L380.4,358.5L381.7,357.9ZM379.8,364.3L380.3,364.3L379.0,359.1L380.4,358.5ZM380.3,364.3L380.6,364.2L377.5,358.7L379.0,359.1ZM380.6,364.2L380.9,364.1L376.1,358.4L377.5,358.7ZM380.9,364.1L381.3,363.9L374.6,358.0L376.1,358.4ZM381.3,363.9L381.6,363.8L373.1,357.7L374.6,358.0ZM381.6,363.8L381.9,363.7L371.7,357.3L373.1,357.7ZM381.9,363.7L382.2,363.6L370.2,356.9L371.7,357.3ZM382.2,363.6L382.6,363.5L368.8,356.5L370.2,356.9ZM368.8,356.5L367.9,355.3L382.9,363.4L382.6,363.5ZM367.9,355.3L367.1,354.0L383.2,363.2L382.9,363.4ZM367.1,354.0L366.2,352.8L383.5,363.1L383.2,363.2ZM366.2,352.8L365.4,351.5L383.9,363.0L383.5,363.1ZM365.4,351.5L364.6,350.3L384.2,362.9L383.9,363.0ZM364.6,350.3L363.7,349.0L384.5,362.8L384.2,362.9ZM363.7,349.0L363.1,347.7L384.8,362.6L384.5,362.8ZM363.1,347.7L363.3,346.2L385.1,362.5L384.8,362.6ZM363.3,346.2L363.4,344.7L385.5,362.4L385.1,362.5ZM363.4,344.7L363.5,343.2L385.8,362.3L385.5,362.4ZM363.5,343.2L363.6,341.7L386.1,362.2L385.8,362.3ZM363.6,341.7L363.8,340.2L386.4,362.1L386.1,362.2ZM363.8,340.2L363.9,338.7L386.8,361.9L386.4,362.1ZM363.9,338.7L364.0,337.2L387.1,361.8L386.8,361.9ZM364.0,337.2L364.2,335.7L387.4,361.7L387.1,361.8ZM364.2,335.7L364.8,334.4L387.7,361.6L387.4,361.7ZM364.8,334.4L365.8,333.2L388.0,361.5L387.7,361.6ZM365.8,333.2L366.7,332.0L388.4,361.3L388.0,361.5ZM366.7,332.0L367.6,330.8L388.7,361.2L388.4,361.3ZM367.6,330.8L368.6,329.7L389.0,361.1L388.7,361.2ZM368.6,329.7L369.5,328.5L389.3,361.0L389.0,361.1ZM369.5,328.5L370.4,327.3L389.7,360.9L389.3,361.0ZM370.4,327.3L371.4,326.2L390.0,360.8L389.7,360.9ZM371.4,326.2L372.8,325.6L390.3,360.6L390.0,360.8ZM372.8,325.6L374.2,325.1L390.6,360.5L390.3,360.6ZM374.2,325.1L375.6,324.5L390.9,360.4L390.6,360.5ZM375.6,324.5L377.0,324.0L391.3,360.3L390.9,360.4ZM377.0,324.0L378.4,323.4L391.6,360.2L391.3,360.3ZM378.4,323.4L379.8,322.9L391.9,360.0L391.6,360.2ZM379.8,322.9L381.3,322.3L392.2,359.9L391.9,360.0ZM381.3,322.3L382.7,321.8L392.6,359.8L392.2,359.9ZM382.7,321.8L384.1,321.2L392.9,359.7L392.6,359.8ZM384.1,321.2L385.5,320.7L393.2,359.6L392.9,359.7ZM385.5,320.7L386.9,320.1L393.5,359.5L393.2,359.6ZM386.9,320.1L388.3,319.6L393.9,359.3L393.5,359.5ZM388.3,319.6L389.7,319.0L394.2,359.2L393.9,359.3ZM389.7,319.0L391.1,318.5L394.5,359.1L394.2,359.2ZM391.1,318.5L392.4,319.3L395.7,358.2L394.5,359.1ZM392.4,319.3L393.7,320.1L396.9,357.4L395.7,358.2ZM393.7,320.1L395.0,320.8L398.0,356.5L396.9,357.4ZM395.0,320.8L396.3,321.6L399.2,355.7L398.0,356.5ZM396.3,321.6L397.6,322.4L400.4,354.8L399.2,355.7ZM397.6,322.4L398.8,323.2L401.6,354.0L400.4,354.8ZM398.8,323.2L400.1,324.0L402.7,353.1L401.6,354.0ZM400.1,324.0L401.4,324.7L403.9,352.3L402.7,353.1ZM401.4,324.7L402.7,325.5L405.1,351.4L403.9,352.3ZM402.7,325.5L404.0,326.3L406.3,350.6L405.1,351.4ZM404.0,326.3L405.3,327.1L407.4,349.7L406.3,350.6ZM405.3,327.1L406.6,327.9L408.6,348.9L407.4,349.7ZM406.6,327.9L407.8,328.7L409.9,348.2L408.6,348.9ZM407.8,328.7L409.1,329.5L411.1,347.5L409.9,348.2ZM409.1,329.5L410.4,330.4L412.4,346.8L411.1,347.5ZM410.4,330.4L411.6,331.2L413.7,346.1L412.4,346.8ZM411.6,331.2L412.9,332.0L414.9,345.4L413.7,346.1ZM412.9,332.0L414.1,332.9L416.2,344.6L414.9,345.4ZM414.1,332.9L415.4,333.7L417.5,343.9L416.2,344.6ZM415.4,333.7L416.6,334.5L418.7,343.2L417.5,343.9ZM416.6,334.5L417.9,335.3L420.0,342.5L418.7,343.2ZM417.9,335.3L419.2,336.0L421.4,342.6L420.0,342.5ZM419.2,336.0L420.7,336.0L422.8,342.9L421.4,342.6ZM420.7,336.0L422.2,336.0L424.2,343.2L422.8,342.9ZM422.2,336.0L423.7,336.0L425.6,343.5L424.2,343.2ZM423.7,336.0L425.3,336.0L427.1,343.8L425.6,343.5ZM425.3,336.0L426.8,336.0L428.5,344.1L427.1,343.8ZM426.8,336.0L428.3,336.0L429.9,344.4L428.5,344.1ZM428.3,336.0L429.8,336.0L431.3,344.6L429.9,344.4ZM429.8,336.0L431.3,336.0L432.8,344.9L431.3,344.6ZM431.3,336.0L432.8,336.0L434.2,345.2L432.8,344.9ZM432.8,336.0L434.3,336.0L435.6,345.5L434.2,345.2Z" fill="#bebebe" stroke="#bebebe" stroke-width="0.6" stroke-linejoin="round"/>
<path d="M276.8,336.5L276.8,345.5M280.5,336.5L281.4,345.5M284.2,336.5L285.9,345.5M287.9,336.5L290.5,345.5M291.6,336.5L295.1,345.5M295.2,336.5L299.6,345.5M298.9,336.5L304.2,345.5M302.6,336.5L308.8,345.5M306.3,336.5L313.3,345.5M310.0,336.5L317.9,345.5M313.7,336.5L322.5,345.5M317.4,336.5L327.0,345.5M321.1,336.5L331.6,345.5M324.7,336.5L336.2,345.5M328.6,335.9L339.4,345.8M332.7,334.0L340.2,346.8M336.8,332.0L340.9,347.8M339.6,328.4L341.7,348.8M342.4,324.8L342.4,349.8M345.2,321.2L343.2,350.8M348.0,317.6L343.9,351.8M351.0,314.2L344.7,352.8M354.0,310.8L345.4,353.7M357.0,307.4L346.2,354.7M360.4,304.4L346.9,355.7M364.2,301.9L347.7,356.7M368.3,300.1L348.4,357.7M372.8,298.9L349.2,358.7M377.2,297.9L349.9,359.7M381.7,297.4L350.7,360.7M386.2,296.8L351.4,361.7M390.8,296.3L352.2,362.7M395.3,295.8L352.9,363.6M399.7,295.9L353.9,364.3M404.0,297.4L355.3,364.3M407.8,299.4L356.8,364.3M409.9,303.3L358.2,364.3M412.0,307.3L359.6,364.3M411.9,311.6L361.1,364.3M411.2,316.1L362.5,364.3M408.9,320.0L364.0,364.3M406.7,323.9L365.4,364.3M404.5,327.8L366.9,364.3M402.4,331.8L368.3,364.3M400.2,335.7L369.7,364.3M398.1,339.7L371.2,364.3M395.9,343.6L372.6,364.3M393.5,347.5L374.1,364.3M391.2,351.3L375.5,364.3M388.6,354.8L376.9,364.3M384.5,356.7L378.4,364.3M380.4,358.5L379.8,364.3M376.1,358.4L380.9,364.1M371.7,357.3L381.9,363.7M367.9,355.3L382.9,363.4M365.4,351.5L383.9,363.0M363.1,347.7L384.8,362.6M363.5,343.2L385.8,362.3M363.9,338.7L386.8,361.9M364.8,334.4L387.7,361.6M367.6,330.8L388.7,361.2M370.4,327.3L389.7,360.9M374.2,325.1L390.6,360.5M378.4,323.4L391.6,360.2M382.7,321.8L392.6,359.8M386.9,320.1L393.5,359.5M391.1,318.5L394.5,359.1M395.0,320.8L398.0,356.5M398.8,323.2L401.6,354.0M402.7,325.5L405.1,351.4M406.6,327.9L408.6,348.9M410.4,330.4L412.4,346.8M414.1,332.9L416.2,344.6M417.9,335.3L420.0,342.5M422.2,336.0L424.2,343.2M426.8,336.0L428.5,344.1M431.3,336.0L432.8,344.9" stroke="#9e9e9e" stroke-width="0.75" fill="none"/>

<polyline points="276.8,336.5 327.2,336.5 336.7,332.2 348.2,317.3 358.5,305.7 366.2,300.6 376.5,298.0 398.3,295.4 407.3,298.5 412.5,308.3 411.2,316.0 404.7,327.5 397.0,341.7 389.3,354.5 379.0,359.1 368.8,356.6 363.1,348.1 364.2,335.2 371.3,326.2 391.1,318.5 406.0,327.5 418.9,336.0 434.3,336.0" fill="none" stroke="#8b0000" stroke-width="2.7" stroke-linejoin="round" stroke-linecap="round"/>
<polyline points="276.8,345.5 339.2,345.5 353.4,364.3 380.3,364.3 394.5,359.1 408.6,348.9 420.2,342.4 435.6,345.5" fill="none" stroke="#3d3d3d" stroke-width="3.1" stroke-linejoin="round" stroke-linecap="round"/>

<path d="M266.00,248.65V425.35M441.20,248.65V425.35" stroke="#000" stroke-width="1.9" fill="none"/>
<path d="M265.05,249.40H442.15M265.05,424.60H442.15" stroke="#000" stroke-width="1.5" fill="none"/>
<line x1="272.49" y1="424.60" x2="272.49" y2="431.60" stroke="#000" stroke-width="1.8"/>
<text x="272.49" y="448.30" text-anchor="middle" font-size="11">0</text>
<line x1="326.56" y1="424.60" x2="326.56" y2="431.60" stroke="#000" stroke-width="1.8"/>
<text x="326.56" y="448.30" text-anchor="middle" font-size="11">100</text>
<line x1="380.64" y1="424.60" x2="380.64" y2="431.60" stroke="#000" stroke-width="1.8"/>
<text x="380.64" y="448.30" text-anchor="middle" font-size="11">200</text>
<line x1="434.71" y1="424.60" x2="434.71" y2="431.60" stroke="#000" stroke-width="1.8"/>
<text x="434.71" y="448.30" text-anchor="middle" font-size="11">300</text>
<line x1="266.00" y1="418.11" x2="259.00" y2="418.11" stroke="#000" stroke-width="1.4"/>
<text transform="translate(251.20,418.11) rotate(-90)" text-anchor="middle" font-size="11">0</text>
<line x1="266.00" y1="364.04" x2="259.00" y2="364.04" stroke="#000" stroke-width="1.4"/>
<text transform="translate(251.20,364.04) rotate(-90)" text-anchor="middle" font-size="11">100</text>
<line x1="266.00" y1="309.96" x2="259.00" y2="309.96" stroke="#000" stroke-width="1.4"/>
<text transform="translate(251.20,309.96) rotate(-90)" text-anchor="middle" font-size="11">200</text>
<line x1="266.00" y1="255.89" x2="259.00" y2="255.89" stroke="#000" stroke-width="1.4"/>
<text transform="translate(251.20,255.89) rotate(-90)" text-anchor="middle" font-size="11">300</text>
<text x="353.60" y="245.00" text-anchor="middle" font-size="14" font-weight="bold">Self–Intersections</text>
</g>
<g>
<line x1="513.99" y1="249.40" x2="513.99" y2="424.60" stroke="#d3d3d3" stroke-width="1.4"/>
<line x1="541.03" y1="249.40" x2="541.03" y2="424.60" stroke="#d3d3d3" stroke-width="1.4"/>
<line x1="568.06" y1="249.40" x2="568.06" y2="424.60" stroke="#d3d3d3" stroke-width="1.4"/>
<line x1="595.10" y1="249.40" x2="595.10" y2="424.60" stroke="#d3d3d3" stroke-width="1.4"/>
<line x1="622.14" y1="249.40" x2="622.14" y2="424.60" stroke="#d3d3d3" stroke-width="1.4"/>
<line x1="649.17" y1="249.40" x2="649.17" y2="424.60" stroke="#d3d3d3" stroke-width="1.4"/>
<line x1="676.21" y1="249.40" x2="676.21" y2="424.60" stroke="#d3d3d3" stroke-width="1.4"/>
<line x1="507.50" y1="418.11" x2="682.70" y2="418.11" stroke="#d3d3d3" stroke-width="1.15"/>
<line x1="507.50" y1="391.07" x2="682.70" y2="391.07" stroke="#d3d3d3" stroke-width="1.15"/>
<line x1="507.50" y1="364.04" x2="682.70" y2="364.04" stroke="#d3d3d3" stroke-width="1.15"/>
<line x1="507.50" y1="337.00" x2="682.70" y2="337.00" stroke="#d3d3d3" stroke-width="1.15"/>
<line x1="507.50" y1="309.96" x2="682.70" y2="309.96" stroke="#d3d3d3" stroke-width="1.15"/>
<line x1="507.50" y1="282.93" x2="682.70" y2="282.93" stroke="#d3d3d3" stroke-width="1.15"/>
<line x1="507.50" y1="255.89" x2="682.70" y2="255.89" stroke="#d3d3d3" stroke-width="1.15"/>
<path d="M518.6,349.8L581.2,349.8L581.5,336.8L574.5,329.6L569.5,325.7L563.3,310.1L568.4,299.5L569.2,290.6L574.1,276.7L577.3,320.1L582.3,270.6L587.5,319.0L591.2,257.2L598.4,261.7L601.2,263.9L616.8,320.3L609.5,334.6L609.0,337.9L608.4,350.2L670.7,349.8L671.4,363.7L517.8,363.7ZM582.3,270.6L577.3,320.1L574.1,276.7ZM591.2,257.2L587.5,319.0L582.3,270.6Z" fill="#bebebe" stroke="#bebebe" stroke-width="0.6" stroke-linejoin="round"/>

<polyline points="517.8,363.7 671.4,363.7" fill="none" stroke="#8b0000" stroke-width="2.7" stroke-linejoin="round" stroke-linecap="round"/>
<polyline points="518.6,349.8 581.2,349.8 581.5,336.8 574.5,329.6 569.5,325.7 563.3,310.1 568.4,299.5 569.2,290.6 574.1,276.7 577.3,320.1 582.3,270.6 587.5,319.0 591.2,257.2 598.4,261.7 601.2,263.9 616.8,320.3 609.5,334.6 609.0,337.9 608.4,350.2 670.7,349.8" fill="none" stroke="#3d3d3d" stroke-width="3.1" stroke-linejoin="round" stroke-linecap="round"/>

<circle cx="518.6" cy="349.8" r="3.4" fill="#3d3d3d"/>
<circle cx="581.2" cy="349.8" r="3.4" fill="#3d3d3d"/>
<circle cx="581.5" cy="336.8" r="3.4" fill="#3d3d3d"/>
<circle cx="574.5" cy="329.6" r="3.4" fill="#3d3d3d"/>
<circle cx="569.5" cy="325.7" r="3.4" fill="#3d3d3d"/>
<circle cx="563.3" cy="310.1" r="3.4" fill="#3d3d3d"/>
<circle cx="568.4" cy="299.5" r="3.4" fill="#3d3d3d"/>
<circle cx="569.2" cy="290.6" r="3.4" fill="#3d3d3d"/>
<circle cx="574.1" cy="276.7" r="3.4" fill="#3d3d3d"/>
<circle cx="577.3" cy="320.1" r="3.4" fill="#3d3d3d"/>
<circle cx="582.3" cy="270.6" r="3.4" fill="#3d3d3d"/>
<circle cx="587.5" cy="319.0" r="3.4" fill="#3d3d3d"/>
<circle cx="591.2" cy="257.2" r="3.4" fill="#3d3d3d"/>
<circle cx="598.4" cy="261.7" r="3.4" fill="#3d3d3d"/>
<circle cx="601.2" cy="263.9" r="3.4" fill="#3d3d3d"/>
<circle cx="616.8" cy="320.3" r="3.4" fill="#3d3d3d"/>
<circle cx="609.5" cy="334.6" r="3.4" fill="#3d3d3d"/>
<circle cx="609.0" cy="337.9" r="3.4" fill="#3d3d3d"/>
<circle cx="608.4" cy="350.2" r="3.4" fill="#3d3d3d"/>
<circle cx="670.7" cy="349.8" r="3.4" fill="#3d3d3d"/>
<path d="M507.50,248.65V425.35M682.70,248.65V425.35" stroke="#000" stroke-width="1.9" fill="none"/>
<path d="M506.55,249.40H683.65M506.55,424.60H683.65" stroke="#000" stroke-width="1.5" fill="none"/>
<line x1="513.99" y1="424.60" x2="513.99" y2="431.60" stroke="#000" stroke-width="1.8"/>
<text x="513.99" y="448.30" text-anchor="middle" font-size="11">0</text>
<line x1="568.06" y1="424.60" x2="568.06" y2="431.60" stroke="#000" stroke-width="1.8"/>
<text x="568.06" y="448.30" text-anchor="middle" font-size="11">100</text>
<line x1="622.14" y1="424.60" x2="622.14" y2="431.60" stroke="#000" stroke-width="1.8"/>
<text x="622.14" y="448.30" text-anchor="middle" font-size="11">200</text>
<line x1="676.21" y1="424.60" x2="676.21" y2="431.60" stroke="#000" stroke-width="1.8"/>
<text x="676.21" y="448.30" text-anchor="middle" font-size="11">300</text>
<line x1="507.50" y1="418.11" x2="500.50" y2="418.11" stroke="#000" stroke-width="1.4"/>
<text transform="translate(492.70,418.11) rotate(-90)" text-anchor="middle" font-size="11">0</text>
<line x1="507.50" y1="364.04" x2="500.50" y2="364.04" stroke="#000" stroke-width="1.4"/>
<text transform="translate(492.70,364.04) rotate(-90)" text-anchor="middle" font-size="11">100</text>
<line x1="507.50" y1="309.96" x2="500.50" y2="309.96" stroke="#000" stroke-width="1.4"/>
<text transform="translate(492.70,309.96) rotate(-90)" text-anchor="middle" font-size="11">200</text>
<line x1="507.50" y1="255.89" x2="500.50" y2="255.89" stroke="#000" stroke-width="1.4"/>
<text transform="translate(492.70,255.89) rotate(-90)" text-anchor="middle" font-size="11">300</text>
<text x="595.10" y="245.00" text-anchor="middle" font-size="14" font-weight="bold">Route Complexity</text>
</g>
<g>
<line x1="30.54" y1="494.90" x2="30.54" y2="670.10" stroke="#d3d3d3" stroke-width="1.4"/>
<line x1="50.82" y1="494.90" x2="50.82" y2="670.10" stroke="#d3d3d3" stroke-width="1.4"/>
<line x1="71.09" y1="494.90" x2="71.09" y2="670.10" stroke="#d3d3d3" stroke-width="1.4"/>
<line x1="91.37" y1="494.90" x2="91.37" y2="670.10" stroke="#d3d3d3" stroke-width="1.4"/>
<line x1="111.65" y1="494.90" x2="111.65" y2="670.10" stroke="#d3d3d3" stroke-width="1.4"/>
<line x1="131.93" y1="494.90" x2="131.93" y2="670.10" stroke="#d3d3d3" stroke-width="1.4"/>
<line x1="152.21" y1="494.90" x2="152.21" y2="670.10" stroke="#d3d3d3" stroke-width="1.4"/>
<line x1="172.48" y1="494.90" x2="172.48" y2="670.10" stroke="#d3d3d3" stroke-width="1.4"/>
<line x1="192.76" y1="494.90" x2="192.76" y2="670.10" stroke="#d3d3d3" stroke-width="1.4"/>
<line x1="24.05" y1="663.61" x2="199.25" y2="663.61" stroke="#d3d3d3" stroke-width="1.15"/>
<line x1="24.05" y1="631.17" x2="199.25" y2="631.17" stroke="#d3d3d3" stroke-width="1.15"/>
<line x1="24.05" y1="598.72" x2="199.25" y2="598.72" stroke="#d3d3d3" stroke-width="1.15"/>
<line x1="24.05" y1="566.28" x2="199.25" y2="566.28" stroke="#d3d3d3" stroke-width="1.15"/>
<line x1="24.05" y1="533.83" x2="199.25" y2="533.83" stroke="#d3d3d3" stroke-width="1.15"/>
<line x1="24.05" y1="501.39" x2="199.25" y2="501.39" stroke="#d3d3d3" stroke-width="1.15"/>
<path d="M143.5,663.3L143.3,662.1L143.6,661.9L144.2,663.3ZM143.3,662.1L143.1,660.9L142.9,660.5L143.6,661.9ZM142.9,660.5L142.3,659.1L142.9,659.6L143.1,660.9ZM142.3,659.1L141.6,657.7L142.7,658.4L142.9,659.6ZM141.6,657.7L141.0,656.3L142.5,657.2L142.7,658.4ZM141.0,656.3L140.3,654.8L142.2,656.0L142.5,657.2ZM140.3,654.8L139.7,653.4L142.0,654.7L142.2,656.0ZM139.7,653.4L139.0,652.0L141.8,653.5L142.0,654.7ZM139.0,652.0L138.4,650.6L141.6,652.3L141.8,653.5ZM138.4,650.6L137.7,649.2L141.4,651.1L141.6,652.3ZM137.7,649.2L137.1,647.8L141.2,649.8L141.4,651.1ZM137.1,647.8L136.4,646.4L141.0,648.6L141.2,649.8ZM136.4,646.4L135.8,645.0L140.8,647.4L141.0,648.6ZM135.8,645.0L135.1,643.6L140.6,646.2L140.8,647.4ZM135.1,643.6L134.5,642.2L140.4,644.9L140.6,646.2ZM134.5,642.2L133.8,640.7L140.1,643.7L140.4,644.9ZM133.8,640.7L133.2,639.3L139.9,642.5L140.1,643.7ZM133.2,639.3L132.5,637.9L139.7,641.3L139.9,642.5ZM132.5,637.9L131.9,636.5L139.5,640.0L139.7,641.3ZM131.9,636.5L131.2,635.1L139.3,638.8L139.5,640.0ZM131.2,635.1L130.6,633.7L139.1,637.6L139.3,638.8ZM139.1,637.6L137.6,637.5L129.2,633.6L130.6,633.7ZM137.6,637.5L136.1,637.4L127.7,633.6L129.2,633.6ZM136.1,637.4L134.6,637.3L126.3,633.5L127.7,633.6ZM134.6,637.3L133.1,637.2L124.9,633.4L126.3,633.5ZM133.1,637.2L131.6,637.1L123.4,633.4L124.9,633.4ZM131.6,637.1L130.1,637.0L122.0,633.3L123.4,633.4ZM130.1,637.0L128.5,636.9L120.5,633.2L122.0,633.3ZM128.5,636.9L127.0,636.8L119.1,633.2L120.5,633.2ZM127.0,636.8L125.5,636.7L117.7,633.1L119.1,633.2ZM125.5,636.7L124.0,636.6L116.2,633.0L117.7,633.1ZM124.0,636.6L122.5,636.5L114.8,632.9L116.2,633.0ZM122.5,636.5L121.0,636.5L113.4,632.9L114.8,632.9ZM121.0,636.5L119.5,636.4L111.9,632.8L113.4,632.9ZM119.5,636.4L118.0,636.3L110.5,632.7L111.9,632.8ZM118.0,636.3L116.5,636.2L109.0,632.7L110.5,632.7ZM116.5,636.2L115.0,636.1L107.6,632.6L109.0,632.7ZM115.0,636.1L113.5,636.0L106.2,632.5L107.6,632.6ZM113.5,636.0L112.0,635.9L104.7,632.5L106.2,632.5ZM112.0,635.9L110.5,635.8L103.3,632.4L104.7,632.5ZM110.5,635.8L109.0,635.7L101.9,632.3L103.3,632.4ZM109.0,635.7L107.4,635.6L100.4,632.3L101.9,632.3ZM107.4,635.6L105.9,635.5L99.0,632.2L100.4,632.3ZM105.9,635.5L104.4,635.4L97.5,632.1L99.0,632.2ZM104.4,635.4L102.9,635.3L96.1,632.1L97.5,632.1ZM102.9,635.3L101.4,635.2L94.7,632.0L96.1,632.1ZM101.4,635.2L99.9,635.1L93.2,631.9L94.7,632.0ZM99.9,635.1L98.4,635.0L91.8,631.8L93.2,631.9ZM98.4,635.0L96.9,634.9L90.4,631.8L91.8,631.8ZM96.9,634.9L95.4,634.8L88.9,631.7L90.4,631.8ZM95.4,634.8L93.9,634.7L87.5,631.6L88.9,631.7ZM93.9,634.7L92.4,634.6L86.0,631.6L87.5,631.6ZM92.4,634.6L90.9,634.5L84.6,631.5L86.0,631.6ZM90.9,634.5L89.4,634.4L83.2,631.4L84.6,631.5ZM89.4,634.4L87.8,634.4L81.7,631.4L83.2,631.4ZM87.8,634.4L86.3,634.3L80.3,631.3L81.7,631.4ZM86.3,634.3L84.8,634.2L78.9,631.2L80.3,631.3ZM84.8,634.2L83.3,634.1L77.4,631.2L78.9,631.2ZM83.3,634.1L81.8,634.0L76.0,631.1L77.4,631.2ZM81.8,634.0L80.3,633.9L74.5,631.0L76.0,631.1ZM80.3,633.9L78.8,633.8L73.1,631.0L74.5,631.0ZM78.8,633.8L77.3,633.7L71.7,630.9L73.1,631.0ZM77.3,633.7L75.8,633.6L70.2,630.8L71.7,630.9ZM75.8,633.6L74.3,633.5L68.8,630.7L70.2,630.8ZM74.3,633.5L72.8,633.4L67.4,630.7L68.8,630.7ZM72.8,633.4L71.3,633.3L65.9,630.6L67.4,630.7ZM71.3,633.3L69.8,633.2L64.5,630.5L65.9,630.6ZM69.8,633.2L68.2,633.1L63.0,630.5L64.5,630.5ZM68.2,633.1L66.7,633.0L61.6,630.4L63.0,630.5ZM66.7,633.0L65.2,632.9L60.2,630.3L61.6,630.4ZM65.2,632.9L63.7,632.8L58.7,630.3L60.2,630.3ZM63.7,632.8L62.2,632.7L57.3,630.2L58.7,630.3ZM62.2,632.7L60.7,632.6L55.9,630.1L57.3,630.2ZM60.7,632.6L59.2,632.5L54.4,630.1L55.9,630.1ZM59.2,632.5L57.7,632.4L53.0,630.0L54.4,630.1ZM57.7,632.4L56.2,632.3L51.5,629.9L53.0,630.0ZM56.2,632.3L54.7,632.3L50.1,629.9L51.5,629.9ZM54.7,632.3L53.2,632.2L48.7,629.8L50.1,629.9ZM53.2,632.2L51.7,632.1L47.2,629.7L48.7,629.8ZM51.7,632.1L50.2,632.0L45.8,629.6L47.2,629.7ZM50.2,632.0L48.7,631.9L44.4,629.6L45.8,629.6ZM48.7,631.9L47.1,631.8L42.9,629.5L44.4,629.6ZM47.1,631.8L45.6,631.7L41.5,629.4L42.9,629.5ZM45.6,631.7L44.1,631.6L40.0,629.4L41.5,629.4ZM44.1,631.6L42.6,631.5L38.6,629.3L40.0,629.4ZM42.6,631.5L41.1,631.4L37.2,629.2L38.6,629.3ZM41.1,631.4L39.6,631.3L35.7,629.2L37.2,629.2ZM39.6,631.3L38.1,631.2L34.3,629.1L35.7,629.2ZM34.3,629.1L34.4,627.6L38.1,629.7L38.1,631.2ZM34.4,627.6L34.5,626.1L38.1,628.2L38.1,629.7ZM34.5,626.1L34.6,624.6L38.1,626.7L38.1,628.2ZM34.6,624.6L34.7,623.0L38.2,625.2L38.1,626.7ZM34.7,623.0L34.7,621.5L38.2,623.7L38.2,625.2ZM34.7,621.5L34.8,620.0L38.2,622.2L38.2,623.7ZM34.8,620.0L34.9,618.5L38.2,620.7L38.2,622.2ZM34.9,618.5L35.0,617.0L38.2,619.2L38.2,620.7ZM35.0,617.0L35.1,615.5L38.2,617.7L38.2,619.2ZM35.1,615.5L35.2,614.0L38.3,616.1L38.2,617.7ZM35.2,614.0L35.3,612.4L38.3,614.6L38.3,616.1ZM35.3,612.4L35.4,610.9L38.3,613.1L38.3,614.6ZM35.4,610.9L35.5,609.4L38.3,611.6L38.3,613.1ZM35.5,609.4L35.6,607.9L38.3,610.1L38.3,611.6ZM35.6,607.9L35.6,606.4L38.3,608.6L38.3,610.1ZM35.6,606.4L35.7,604.9L38.4,607.1L38.3,608.6ZM35.7,604.9L35.8,603.4L38.4,605.6L38.4,607.1ZM35.8,603.4L35.9,601.8L38.4,604.1L38.4,605.6ZM35.9,601.8L36.0,600.3L38.4,602.6L38.4,604.1ZM36.0,600.3L36.1,598.8L38.4,601.1L38.4,602.6ZM36.1,598.8L36.2,597.3L38.4,599.6L38.4,601.1ZM36.2,597.3L36.3,595.8L38.4,598.1L38.4,599.6ZM36.3,595.8L36.4,594.3L38.5,596.6L38.4,598.1ZM36.4,594.3L36.4,592.8L38.5,595.1L38.5,596.6ZM36.4,592.8L36.5,591.2L38.5,593.6L38.5,595.1ZM36.5,591.2L36.6,589.7L38.5,592.1L38.5,593.6ZM36.6,589.7L36.7,588.2L38.5,590.6L38.5,592.1ZM36.7,588.2L36.8,586.7L38.5,589.1L38.5,590.6ZM36.8,586.7L36.9,585.2L38.6,587.5L38.5,589.1ZM36.9,585.2L37.0,583.7L38.6,586.0L38.6,587.5ZM37.0,583.7L37.1,582.2L38.6,584.5L38.6,586.0ZM37.1,582.2L37.2,580.7L38.6,583.0L38.6,584.5ZM37.2,580.7L37.3,579.1L38.6,581.5L38.6,583.0ZM37.3,579.1L37.3,577.6L38.6,580.0L38.6,581.5ZM37.3,577.6L37.4,576.1L38.7,578.5L38.6,580.0ZM37.4,576.1L37.5,574.6L38.7,577.0L38.7,578.5ZM37.5,574.6L37.6,573.1L38.7,575.5L38.7,577.0ZM37.6,573.1L37.7,571.6L38.7,574.0L38.7,575.5ZM37.7,571.6L37.8,570.1L38.7,572.5L38.7,574.0ZM37.8,570.1L37.9,568.5L38.7,571.0L38.7,572.5ZM37.9,568.5L38.0,567.0L38.7,569.5L38.7,571.0ZM38.0,567.0L38.1,565.5L38.8,568.0L38.7,569.5ZM38.1,565.5L38.1,564.0L38.8,566.5L38.8,568.0ZM38.1,564.0L38.2,562.5L38.8,565.0L38.8,566.5ZM38.2,562.5L38.3,561.0L38.8,563.5L38.8,565.0ZM38.3,561.0L38.4,559.5L38.8,562.0L38.8,563.5ZM38.4,559.5L38.5,557.9L38.8,560.5L38.8,562.0ZM38.5,557.9L38.6,556.4L38.9,558.9L38.8,560.5ZM38.6,556.4L38.7,554.9L38.9,557.4L38.9,558.9ZM38.7,554.9L38.8,553.4L38.9,555.9L38.9,557.4ZM38.8,553.4L38.9,551.9L38.9,554.4L38.9,555.9ZM38.9,551.9L39.0,550.4L38.9,552.9L38.9,554.4ZM39.0,550.4L39.0,548.9L38.9,551.4L38.9,552.9ZM38.9,551.4L39.0,549.9L39.1,547.3L39.0,548.9ZM39.0,549.9L39.0,548.4L39.2,545.8L39.1,547.3ZM39.0,548.4L39.0,546.9L39.3,544.3L39.2,545.8ZM39.0,546.9L39.0,545.4L39.4,542.8L39.3,544.3ZM39.4,542.8L40.9,542.8L40.5,545.4L39.0,545.4ZM40.9,542.8L42.4,542.8L42.0,545.4L40.5,545.4ZM42.4,542.8L43.8,542.8L43.5,545.4L42.0,545.4ZM43.8,542.8L45.3,542.8L45.0,545.5L43.5,545.4ZM45.3,542.8L46.8,542.9L46.5,545.5L45.0,545.5ZM46.8,542.9L48.3,542.9L48.1,545.5L46.5,545.5ZM48.3,542.9L49.8,542.9L49.6,545.5L48.1,545.5ZM49.8,542.9L51.3,542.9L51.1,545.5L49.6,545.5ZM51.3,542.9L52.7,542.9L52.6,545.5L51.1,545.5ZM52.7,542.9L54.2,542.9L54.1,545.6L52.6,545.5ZM54.2,542.9L55.7,542.9L55.6,545.6L54.1,545.6ZM55.7,542.9L57.2,542.9L57.1,545.6L55.6,545.6ZM57.2,542.9L58.7,543.0L58.6,545.6L57.1,545.6ZM58.7,543.0L60.2,543.0L60.1,545.6L58.6,545.6ZM60.2,543.0L61.6,543.0L61.6,545.6L60.1,545.6ZM61.6,543.0L63.1,543.0L63.1,545.6L61.6,545.6ZM63.1,543.0L64.6,543.0L64.7,545.7L63.1,545.6ZM64.6,543.0L66.1,543.0L66.2,545.7L64.7,545.7ZM66.1,543.0L67.6,543.0L67.7,545.7L66.2,545.7ZM67.6,543.0L69.1,543.0L69.2,545.7L67.7,545.7ZM69.1,543.0L70.5,543.1L70.7,545.7L69.2,545.7ZM70.5,543.1L72.0,543.1L72.2,545.7L70.7,545.7ZM72.0,543.1L73.5,543.1L73.7,545.8L72.2,545.7ZM73.5,543.1L75.0,543.1L75.2,545.8L73.7,545.8ZM75.0,543.1L76.5,543.1L76.7,545.8L75.2,545.8ZM76.5,543.1L78.0,543.1L78.2,545.8L76.7,545.8ZM78.0,543.1L79.4,543.1L79.7,545.8L78.2,545.8ZM79.4,543.1L80.9,543.1L81.3,545.8L79.7,545.8ZM80.9,543.1L82.4,543.2L82.8,545.8L81.3,545.8ZM82.4,543.2L83.9,543.2L84.3,545.9L82.8,545.8ZM83.9,543.2L85.4,543.2L85.8,545.9L84.3,545.9ZM85.4,543.2L86.9,543.2L87.3,545.9L85.8,545.9ZM86.9,543.2L88.3,543.2L88.8,545.9L87.3,545.9ZM88.3,543.2L89.8,543.2L90.3,545.9L88.8,545.9ZM89.8,543.2L91.3,543.2L91.8,545.9L90.3,545.9ZM91.3,543.2L92.8,543.2L93.3,546.0L91.8,545.9ZM92.8,543.2L94.3,543.3L94.8,546.0L93.3,546.0ZM94.3,543.3L95.8,543.3L96.4,546.0L94.8,546.0ZM95.8,543.3L97.2,543.3L97.9,546.0L96.4,546.0ZM97.2,543.3L98.7,543.3L99.4,546.0L97.9,546.0ZM98.7,543.3L100.2,543.3L100.9,546.0L99.4,546.0ZM100.2,543.3L101.7,543.3L102.4,546.0L100.9,546.0ZM101.7,543.3L103.2,543.3L103.9,546.1L102.4,546.0ZM103.2,543.3L104.7,543.3L105.4,546.1L103.9,546.1ZM104.7,543.3L106.1,543.4L106.9,546.1L105.4,546.1ZM106.1,543.4L107.6,543.4L108.4,546.1L106.9,546.1ZM107.6,543.4L109.1,543.4L109.9,546.1L108.4,546.1ZM109.1,543.4L110.6,543.4L111.4,546.1L109.9,546.1ZM110.6,543.4L112.1,543.4L113.0,546.2L111.4,546.1ZM112.1,543.4L113.6,543.4L114.5,546.2L113.0,546.2ZM113.6,543.4L115.0,543.4L116.0,546.2L114.5,546.2ZM115.0,543.4L116.5,543.4L117.5,546.2L116.0,546.2ZM116.5,543.4L118.0,543.5L119.0,546.2L117.5,546.2ZM118.0,543.5L119.5,543.5L120.5,546.2L119.0,546.2ZM119.5,543.5L121.0,543.5L122.0,546.2L120.5,546.2ZM121.0,543.5L122.5,543.5L123.5,546.3L122.0,546.2ZM122.5,543.5L123.9,543.5L125.0,546.3L123.5,546.3ZM123.9,543.5L125.4,543.5L126.5,546.3L125.0,546.3ZM125.4,543.5L126.9,543.5L128.0,546.3L126.5,546.3ZM126.9,543.5L128.4,543.5L129.6,546.3L128.0,546.3ZM128.4,543.5L129.9,543.6L131.1,546.3L129.6,546.3ZM129.9,543.6L131.4,543.6L132.6,546.4L131.1,546.3ZM131.4,543.6L132.8,543.6L134.1,546.4L132.6,546.4ZM132.8,543.6L134.3,543.6L135.6,546.4L134.1,546.4ZM134.3,543.6L135.8,543.6L137.1,546.4L135.6,546.4ZM143.5,551.5L151.2,548.0L151.5,553.5L145.0,553.5ZM151.2,562.0L156.0,564.0L155.4,570.5L149.8,569.5Z" fill="#bebebe" stroke="#bebebe" stroke-width="0.6" stroke-linejoin="round"/>
<path d="M143.5,663.3L144.2,663.3M143.1,660.9L142.9,660.5M142.7,658.4L141.6,657.7M142.2,656.0L140.3,654.8M141.8,653.5L139.0,652.0M141.4,651.1L137.7,649.2M141.0,648.6L136.4,646.4M140.6,646.2L135.1,643.6M140.1,643.7L133.8,640.7M139.7,641.3L132.5,637.9M139.3,638.8L131.2,635.1M137.6,637.5L129.2,633.6M134.6,637.3L126.3,633.5M131.6,637.1L123.4,633.4M128.5,636.9L120.5,633.2M125.5,636.7L117.7,633.1M122.5,636.5L114.8,632.9M119.5,636.4L111.9,632.8M116.5,636.2L109.0,632.7M113.5,636.0L106.2,632.5M110.5,635.8L103.3,632.4M107.4,635.6L100.4,632.3M104.4,635.4L97.5,632.1M101.4,635.2L94.7,632.0M98.4,635.0L91.8,631.8M95.4,634.8L88.9,631.7M92.4,634.6L86.0,631.6M89.4,634.4L83.2,631.4M86.3,634.3L80.3,631.3M83.3,634.1L77.4,631.2M80.3,633.9L74.5,631.0M77.3,633.7L71.7,630.9M74.3,633.5L68.8,630.7M71.3,633.3L65.9,630.6M68.2,633.1L63.0,630.5M65.2,632.9L60.2,630.3M62.2,632.7L57.3,630.2M59.2,632.5L54.4,630.1M56.2,632.3L51.5,629.9M53.2,632.2L48.7,629.8M50.2,632.0L45.8,629.6M47.1,631.8L42.9,629.5M44.1,631.6L40.0,629.4M41.1,631.4L37.2,629.2M38.1,631.2L34.3,629.1M38.1,628.2L34.5,626.1M38.2,625.2L34.7,623.0M38.2,622.2L34.8,620.0M38.2,619.2L35.0,617.0M38.3,616.1L35.2,614.0M38.3,613.1L35.4,610.9M38.3,610.1L35.6,607.9M38.4,607.1L35.7,604.9M38.4,604.1L35.9,601.8M38.4,601.1L36.1,598.8M38.4,598.1L36.3,595.8M38.5,595.1L36.4,592.8M38.5,592.1L36.6,589.7M38.5,589.1L36.8,586.7M38.6,586.0L37.0,583.7M38.6,583.0L37.2,580.7M38.6,580.0L37.3,577.6M38.7,577.0L37.5,574.6M38.7,574.0L37.7,571.6M38.7,571.0L37.9,568.5M38.8,568.0L38.1,565.5M38.8,565.0L38.2,562.5M38.8,562.0L38.4,559.5M38.9,558.9L38.6,556.4M38.9,555.9L38.8,553.4M38.9,552.9L39.0,550.4M39.0,549.9L39.1,547.3M39.0,546.9L39.3,544.3M40.5,545.4L40.9,542.8M43.5,545.4L43.8,542.8M46.5,545.5L46.8,542.9M49.6,545.5L49.8,542.9M52.6,545.5L52.7,542.9M55.6,545.6L55.7,542.9M58.6,545.6L58.7,543.0M61.6,545.6L61.6,543.0M64.7,545.7L64.6,543.0M67.7,545.7L67.6,543.0M70.7,545.7L70.5,543.1M73.7,545.8L73.5,543.1M76.7,545.8L76.5,543.1M79.7,545.8L79.4,543.1M82.8,545.8L82.4,543.2M85.8,545.9L85.4,543.2M88.8,545.9L88.3,543.2M91.8,545.9L91.3,543.2M94.8,546.0L94.3,543.3M97.9,546.0L97.2,543.3M100.9,546.0L100.2,543.3M103.9,546.1L103.2,543.3M106.9,546.1L106.1,543.4M109.9,546.1L109.1,543.4M113.0,546.2L112.1,543.4M116.0,546.2L115.0,543.4M119.0,546.2L118.0,543.5M122.0,546.2L121.0,543.5M125.0,546.3L123.9,543.5M128.0,546.3L126.9,543.5M131.1,546.3L129.9,543.6M134.1,546.4L132.8,543.6M137.1,546.4L135.8,543.6" stroke="#a6a6a6" stroke-width="0.5" fill="none"/>

<polyline points="143.5,663.3 139.1,637.6 38.1,631.2 39.0,545.4 137.1,546.4 140.0,547.4 143.5,553.7 149.1,553.0 149.1,569.9 155.4,571.3 158.9,566.4 164.0,558.0 170.8,550.2 176.4,541.8 159.6,523.6 157.5,539.0 153.0,531.0 150.0,540.0 146.0,532.0 144.0,538.0 140.7,532.7 141.8,539.0" fill="none" stroke="#8b0000" stroke-width="2.7" stroke-linejoin="round" stroke-linecap="round"/>
<polyline points="144.2,663.3 130.6,633.7 34.3,629.1 39.4,542.8 135.8,543.6 139.3,553.7 143.5,550.9 151.2,547.4 156.1,546.0 150.0,543.0 142.1,535.5 147.0,529.2 150.5,537.0 154.0,534.1 157.0,541.0 160.3,529.2 163.5,536.0 166.0,541.0 170.1,537.5 174.5,539.5 175.5,544.5 170.1,548.1 166.6,558.6 161.0,561.4 156.8,563.5 153.3,557.2 152.6,549.5" fill="none" stroke="#3d3d3d" stroke-width="3.6" stroke-linejoin="round" stroke-linecap="round"/>
<polyline points="139.3,553.7 143.5,550.9 151.2,547.4 156.1,546 150,543 142.1,535.5 147,529.2 150.5,537 154,534.1 157,541 160.3,527.5 163.5,536 166,541 170.1,537.5 174.5,539.5 175.5,544.5 170.1,548.1 167.5,556 162,560 156.8,563.5 153.3,557.2 152.6,549.5" fill="none" stroke="#3d3d3d" stroke-width="4.4" stroke-linejoin="round"/><polygon points="157.5,528 161.5,527 163.5,549 159,551" fill="#3d3d3d"/>
<path d="M24.05,494.15V670.85M199.25,494.15V670.85" stroke="#000" stroke-width="1.9" fill="none"/>
<path d="M23.10,494.90H200.20M23.10,670.10H200.20" stroke="#000" stroke-width="1.5" fill="none"/>
<line x1="30.54" y1="670.10" x2="30.54" y2="677.10" stroke="#000" stroke-width="1.8"/>
<text x="30.54" y="693.80" text-anchor="middle" font-size="11">0</text>
<line x1="71.09" y1="670.10" x2="71.09" y2="677.10" stroke="#000" stroke-width="1.8"/>
<text x="71.09" y="693.80" text-anchor="middle" font-size="11">200</text>
<line x1="111.65" y1="670.10" x2="111.65" y2="677.10" stroke="#000" stroke-width="1.8"/>
<text x="111.65" y="693.80" text-anchor="middle" font-size="11">400</text>
<line x1="152.21" y1="670.10" x2="152.21" y2="677.10" stroke="#000" stroke-width="1.8"/>
<text x="152.21" y="693.80" text-anchor="middle" font-size="11">600</text>
<line x1="192.76" y1="670.10" x2="192.76" y2="677.10" stroke="#000" stroke-width="1.8"/>
<text x="192.76" y="693.80" text-anchor="middle" font-size="11">800</text>
<line x1="24.05" y1="663.61" x2="17.05" y2="663.61" stroke="#000" stroke-width="1.4"/>
<text transform="translate(9.25,663.61) rotate(-90)" text-anchor="middle" font-size="11">0</text>
<line x1="24.05" y1="631.17" x2="17.05" y2="631.17" stroke="#000" stroke-width="1.4"/>
<text transform="translate(9.25,631.17) rotate(-90)" text-anchor="middle" font-size="11">100</text>
<line x1="24.05" y1="598.72" x2="17.05" y2="598.72" stroke="#000" stroke-width="1.4"/>
<text transform="translate(9.25,598.72) rotate(-90)" text-anchor="middle" font-size="11">200</text>
<line x1="24.05" y1="566.28" x2="17.05" y2="566.28" stroke="#000" stroke-width="1.4"/>
<text transform="translate(9.25,566.28) rotate(-90)" text-anchor="middle" font-size="11">300</text>
<line x1="24.05" y1="533.83" x2="17.05" y2="533.83" stroke="#000" stroke-width="1.4"/>
<text transform="translate(9.25,533.83) rotate(-90)" text-anchor="middle" font-size="11">400</text>
<line x1="24.05" y1="501.39" x2="17.05" y2="501.39" stroke="#000" stroke-width="1.4"/>
<text transform="translate(9.25,501.39) rotate(-90)" text-anchor="middle" font-size="11">500</text>
<text x="111.65" y="474.50" text-anchor="middle" font-size="14" font-weight="bold">Map Task</text>
<text x="111.65" y="490.50" text-anchor="middle" font-size="14" font-weight="bold">Area: 15765</text>
</g>
<g>
<line x1="272.49" y1="494.90" x2="272.49" y2="670.10" stroke="#d3d3d3" stroke-width="1.4"/>
<line x1="292.77" y1="494.90" x2="292.77" y2="670.10" stroke="#d3d3d3" stroke-width="1.4"/>
<line x1="313.04" y1="494.90" x2="313.04" y2="670.10" stroke="#d3d3d3" stroke-width="1.4"/>
<line x1="333.32" y1="494.90" x2="333.32" y2="670.10" stroke="#d3d3d3" stroke-width="1.4"/>
<line x1="353.60" y1="494.90" x2="353.60" y2="670.10" stroke="#d3d3d3" stroke-width="1.4"/>
<line x1="373.88" y1="494.90" x2="373.88" y2="670.10" stroke="#d3d3d3" stroke-width="1.4"/>
<line x1="394.16" y1="494.90" x2="394.16" y2="670.10" stroke="#d3d3d3" stroke-width="1.4"/>
<line x1="414.43" y1="494.90" x2="414.43" y2="670.10" stroke="#d3d3d3" stroke-width="1.4"/>
<line x1="434.71" y1="494.90" x2="434.71" y2="670.10" stroke="#d3d3d3" stroke-width="1.4"/>
<line x1="266.00" y1="663.61" x2="441.20" y2="663.61" stroke="#d3d3d3" stroke-width="1.15"/>
<line x1="266.00" y1="631.17" x2="441.20" y2="631.17" stroke="#d3d3d3" stroke-width="1.15"/>
<line x1="266.00" y1="598.72" x2="441.20" y2="598.72" stroke="#d3d3d3" stroke-width="1.15"/>
<line x1="266.00" y1="566.28" x2="441.20" y2="566.28" stroke="#d3d3d3" stroke-width="1.15"/>
<line x1="266.00" y1="533.83" x2="441.20" y2="533.83" stroke="#d3d3d3" stroke-width="1.15"/>
<line x1="266.00" y1="501.39" x2="441.20" y2="501.39" stroke="#d3d3d3" stroke-width="1.15"/>
<path d="M385.5,662.0L384.8,660.6L386.4,661.9L386.8,663.3ZM384.8,660.6L384.1,659.2L386.0,660.5L386.4,661.9ZM384.1,659.2L383.5,657.8L385.6,659.1L386.0,660.5ZM383.5,657.8L382.8,656.3L385.2,657.6L385.6,659.1ZM382.8,656.3L382.1,654.9L384.9,656.2L385.2,657.6ZM382.1,654.9L381.4,653.5L384.5,654.8L384.9,656.2ZM381.4,653.5L380.7,652.1L384.1,653.4L384.5,654.8ZM380.7,652.1L380.1,650.7L383.7,652.0L384.1,653.4ZM380.1,650.7L379.4,649.3L383.3,650.6L383.7,652.0ZM379.4,649.3L378.7,647.9L382.9,649.1L383.3,650.6ZM378.7,647.9L378.0,646.4L382.5,647.7L382.9,649.1ZM378.0,646.4L377.3,645.0L382.1,646.3L382.5,647.7ZM377.3,645.0L376.7,643.6L381.7,644.9L382.1,646.3ZM376.7,643.6L376.0,642.2L381.3,643.5L381.7,644.9ZM376.0,642.2L375.3,640.8L380.9,642.1L381.3,643.5ZM375.3,640.8L374.6,639.4L380.6,640.7L380.9,642.1ZM374.6,639.4L373.9,637.9L380.2,639.2L380.6,640.7ZM373.9,637.9L373.3,636.5L379.8,637.8L380.2,639.2ZM373.3,636.5L372.6,635.1L379.4,636.4L379.8,637.8ZM372.6,635.1L371.9,633.7L379.0,635.0L379.4,636.4ZM379.0,635.0L378.2,634.9L370.4,633.6L371.9,633.7ZM378.2,634.9L377.5,634.8L368.9,633.6L370.4,633.6ZM377.5,634.8L376.7,634.8L367.3,633.5L368.9,633.6ZM376.7,634.8L375.9,634.7L365.8,633.5L367.3,633.5ZM375.9,634.7L375.1,634.6L364.3,633.4L365.8,633.5ZM375.1,634.6L374.4,634.5L362.8,633.3L364.3,633.4ZM374.4,634.5L373.6,634.4L361.3,633.3L362.8,633.3ZM373.6,634.4L372.8,634.4L359.7,633.2L361.3,633.3ZM372.8,634.4L372.0,634.3L358.2,633.2L359.7,633.2ZM372.0,634.3L371.3,634.2L356.7,633.1L358.2,633.2ZM371.3,634.2L370.5,634.1L355.2,633.0L356.7,633.1ZM370.5,634.1L369.7,634.0L353.7,633.0L355.2,633.0ZM369.7,634.0L368.9,633.9L352.2,632.9L353.7,633.0ZM352.2,632.9L350.6,632.9L368.2,633.9L368.9,633.9ZM350.6,632.9L349.1,632.8L367.4,633.8L368.2,633.9ZM349.1,632.8L347.6,632.7L366.6,633.7L367.4,633.8ZM347.6,632.7L346.1,632.7L365.8,633.6L366.6,633.7ZM346.1,632.7L344.6,632.6L365.1,633.5L365.8,633.6ZM344.6,632.6L343.0,632.6L364.3,633.5L365.1,633.5ZM343.0,632.6L341.5,632.5L363.5,633.4L364.3,633.5ZM341.5,632.5L340.0,632.4L362.7,633.3L363.5,633.4ZM340.0,632.4L338.5,632.4L362.0,633.2L362.7,633.3ZM338.5,632.4L337.0,632.3L361.2,633.1L362.0,633.2ZM337.0,632.3L335.4,632.3L360.4,633.1L361.2,633.1ZM335.4,632.3L333.9,632.2L359.6,633.0L360.4,633.1ZM333.9,632.2L332.4,632.1L358.9,632.9L359.6,633.0ZM332.4,632.1L330.9,632.1L358.1,632.8L358.9,632.9ZM330.9,632.1L329.4,632.0L357.3,632.7L358.1,632.8ZM329.4,632.0L327.8,632.0L356.5,632.7L357.3,632.7ZM327.8,632.0L326.3,631.9L355.8,632.6L356.5,632.7ZM326.3,631.9L324.8,631.8L355.0,632.5L355.8,632.6ZM324.8,631.8L323.3,631.8L354.2,632.4L355.0,632.5ZM323.3,631.8L321.8,631.7L353.4,632.3L354.2,632.4ZM321.8,631.7L320.3,631.6L352.7,632.2L353.4,632.3ZM320.3,631.6L318.7,631.6L351.9,632.2L352.7,632.2ZM318.7,631.6L317.2,631.5L351.1,632.1L351.9,632.2ZM317.2,631.5L315.7,631.5L350.3,632.0L351.1,632.1ZM315.7,631.5L314.2,631.4L349.6,631.9L350.3,632.0ZM314.2,631.4L312.7,631.3L348.8,631.8L349.6,631.9ZM312.7,631.3L311.1,631.3L348.0,631.8L348.8,631.8ZM311.1,631.3L309.6,631.2L347.2,631.7L348.0,631.8ZM309.6,631.2L308.1,631.2L346.5,631.6L347.2,631.7ZM308.1,631.2L306.6,631.1L345.7,631.5L346.5,631.6ZM306.6,631.1L305.1,631.0L344.9,631.4L345.7,631.5ZM305.1,631.0L303.5,631.0L344.1,631.4L344.9,631.4ZM303.5,631.0L302.0,630.9L343.4,631.3L344.1,631.4ZM302.0,630.9L300.5,630.9L342.6,631.2L343.4,631.3ZM300.5,630.9L299.0,630.8L341.8,631.1L342.6,631.2ZM299.0,630.8L297.5,630.7L341.0,631.0L341.8,631.1ZM297.5,630.7L295.9,630.7L340.3,631.0L341.0,631.0ZM295.9,630.7L294.4,630.6L339.5,630.9L340.3,631.0ZM294.4,630.6L292.9,630.6L338.7,630.8L339.5,630.9ZM292.9,630.6L291.4,630.5L337.9,630.7L338.7,630.8ZM291.4,630.5L289.9,630.4L337.2,630.6L337.9,630.7ZM289.9,630.4L288.4,630.4L336.4,630.5L337.2,630.6ZM288.4,630.4L286.8,630.3L335.6,630.5L336.4,630.5ZM286.8,630.3L285.3,630.3L334.8,630.4L335.6,630.5ZM285.3,630.3L283.8,630.2L334.1,630.3L334.8,630.4ZM283.8,630.2L282.3,630.1L333.3,630.2L334.1,630.3ZM282.3,630.1L280.8,630.1L332.5,630.1L333.3,630.2ZM280.8,630.1L279.2,630.0L331.7,630.1L332.5,630.1ZM279.2,630.0L277.7,630.0L331.0,630.0L331.7,630.1ZM277.7,630.0L276.2,629.9L330.2,629.9L331.0,630.0ZM276.2,629.9L280.2,542.6L331.5,546.4L330.2,629.9Z" fill="#bebebe" stroke="#bebebe" stroke-width="0.6" stroke-linejoin="round"/>
<path d="M386.8,663.3L385.5,662.0M386.0,660.5L384.1,659.2M385.2,657.6L382.8,656.3M384.5,654.8L381.4,653.5M383.7,652.0L380.1,650.7M382.9,649.1L378.7,647.9M382.1,646.3L377.3,645.0M381.3,643.5L376.0,642.2M380.6,640.7L374.6,639.4M379.8,637.8L373.3,636.5M379.0,635.0L371.9,633.7M377.5,634.8L368.9,633.6M375.9,634.7L365.8,633.5M374.4,634.5L362.8,633.3M372.8,634.4L359.7,633.2M371.3,634.2L356.7,633.1M369.7,634.0L353.7,633.0M368.2,633.9L350.6,632.9M366.6,633.7L347.6,632.7M365.1,633.5L344.6,632.6M363.5,633.4L341.5,632.5M362.0,633.2L338.5,632.4M360.4,633.1L335.4,632.3M358.9,632.9L332.4,632.1M357.3,632.7L329.4,632.0M355.8,632.6L326.3,631.9M354.2,632.4L323.3,631.8M352.7,632.2L320.3,631.6M351.1,632.1L317.2,631.5M349.6,631.9L314.2,631.4M348.0,631.8L311.1,631.3M346.5,631.6L308.1,631.2M344.9,631.4L305.1,631.0M343.4,631.3L302.0,630.9M341.8,631.1L299.0,630.8M340.3,631.0L295.9,630.7M338.7,630.8L292.9,630.6M337.2,630.6L289.9,630.4M335.6,630.5L286.8,630.3M334.1,630.3L283.8,630.2M332.5,630.1L280.8,630.1M331.0,630.0L277.7,630.0" stroke="#a6a6a6" stroke-width="0.5" fill="none"/>
<polygon points="280.1,544.0 331.5,545.5 331.4,553.8 279.8,552.3" fill="#a3a3a3"/><polygon points="279.6,555.3 331.4,556.8 331.2,566.0 279.2,564.5" fill="#a3a3a3"/><polygon points="279.1,567.6 331.2,569.1 331.1,572.2 278.9,570.7" fill="#a3a3a3"/><polygon points="278.8,573.7 331.1,575.2 331.0,577.3 278.7,575.8" fill="#a3a3a3"/><polygon points="278.5,579.9 331.0,581.4 330.9,586.5 278.3,585.0" fill="#a3a3a3"/><polygon points="278.2,587.0 330.9,588.5 330.7,598.7 277.7,597.2" fill="#a3a3a3"/><polygon points="277.6,599.3 330.7,600.8 330.6,606.9 277.3,605.4" fill="#a3a3a3"/><polygon points="277.2,607.4 330.6,608.9 330.5,612.0 277.1,610.5" fill="#a3a3a3"/><polygon points="276.6,620.7 330.3,622.2 330.3,627.3 276.4,625.8" fill="#a3a3a3"/><polygon points="399.4,562.7 410.4,561 434.8,626 426.2,627.9 400.6,613.9" fill="#a9a9a9"/><polygon points="386,546 390,538 395,540 401,534 405,540 410,545 405,556 399,561 396,556" fill="#aaaaaa"/>
<polyline points="386.8,663.3 379.0,635.0 330.2,629.9 331.5,546.4 378.3,540.9 376.5,546.0 380.4,553.5 386.0,553.5 393.0,550.0 397.2,552.8 404.9,557.0 399.0,562.0 400.6,575.5 401.0,565.0 403.7,562.7 411.6,560.2 410.4,563.9 407.9,568.8 409.1,573.7 414.0,575.5 415.2,579.8 418.9,583.4 418.3,593.2 416.5,600.5 411.6,602.9 402.4,604.1 400.6,613.9 412.8,612.7 422.0,612.7 424.4,600.5 428.7,605.4 433.5,610.2 434.8,624.9 426.2,627.9" fill="none" stroke="#8b0000" stroke-width="2.7" stroke-linejoin="round" stroke-linecap="round"/>
<polyline points="385.5,662.0 371.9,633.7 276.2,629.9 280.2,542.6 377.6,543.7 380.4,554.2 386.0,552.1 393.0,548.6 390.0,541.0 383.9,536.0 388.8,529.0 391.5,535.0 394.4,533.2 396.0,540.0 401.4,528.3 405.0,536.0 408.0,541.0 414.0,537.4 417.5,540.9 416.8,545.8 412.6,548.6 409.8,552.1 407.0,558.4 402.8,563.3 397.2,564.0 394.4,561.2 395.1,555.6 397.0,551.0" fill="none" stroke="#3d3d3d" stroke-width="3.6" stroke-linejoin="round" stroke-linecap="round"/>
<polyline points="380.4,554.2 386,552.1 393,548.6 390,541 383.9,536 388.8,529 391.5,535 394.4,533.2 396,540 401.4,528.3 405,536 408,541 414,537.4 417.5,540.9 416.8,545.8 412.6,548.6 409.8,552.1 407,558.4 402.8,563.3 397.2,564 394.4,561.2 395.1,555.6 397,551" fill="none" stroke="#3d3d3d" stroke-width="4.3" stroke-linejoin="round" stroke-linecap="round"/>
<path d="M266.00,494.15V670.85M441.20,494.15V670.85" stroke="#000" stroke-width="1.9" fill="none"/>
<path d="M265.05,494.90H442.15M265.05,670.10H442.15" stroke="#000" stroke-width="1.5" fill="none"/>
<line x1="272.49" y1="670.10" x2="272.49" y2="677.10" stroke="#000" stroke-width="1.8"/>
<text x="272.49" y="693.80" text-anchor="middle" font-size="11">0</text>
<line x1="313.04" y1="670.10" x2="313.04" y2="677.10" stroke="#000" stroke-width="1.8"/>
<text x="313.04" y="693.80" text-anchor="middle" font-size="11">200</text>
<line x1="353.60" y1="670.10" x2="353.60" y2="677.10" stroke="#000" stroke-width="1.8"/>
<text x="353.60" y="693.80" text-anchor="middle" font-size="11">400</text>
<line x1="394.16" y1="670.10" x2="394.16" y2="677.10" stroke="#000" stroke-width="1.8"/>
<text x="394.16" y="693.80" text-anchor="middle" font-size="11">600</text>
<line x1="434.71" y1="670.10" x2="434.71" y2="677.10" stroke="#000" stroke-width="1.8"/>
<text x="434.71" y="693.80" text-anchor="middle" font-size="11">800</text>
<line x1="266.00" y1="663.61" x2="259.00" y2="663.61" stroke="#000" stroke-width="1.4"/>
<text transform="translate(251.20,663.61) rotate(-90)" text-anchor="middle" font-size="11">0</text>
<line x1="266.00" y1="631.17" x2="259.00" y2="631.17" stroke="#000" stroke-width="1.4"/>
<text transform="translate(251.20,631.17) rotate(-90)" text-anchor="middle" font-size="11">100</text>
<line x1="266.00" y1="598.72" x2="259.00" y2="598.72" stroke="#000" stroke-width="1.4"/>
<text transform="translate(251.20,598.72) rotate(-90)" text-anchor="middle" font-size="11">200</text>
<line x1="266.00" y1="566.28" x2="259.00" y2="566.28" stroke="#000" stroke-width="1.4"/>
<text transform="translate(251.20,566.28) rotate(-90)" text-anchor="middle" font-size="11">300</text>
<line x1="266.00" y1="533.83" x2="259.00" y2="533.83" stroke="#000" stroke-width="1.4"/>
<text transform="translate(251.20,533.83) rotate(-90)" text-anchor="middle" font-size="11">400</text>
<line x1="266.00" y1="501.39" x2="259.00" y2="501.39" stroke="#000" stroke-width="1.4"/>
<text transform="translate(251.20,501.39) rotate(-90)" text-anchor="middle" font-size="11">500</text>
<text x="353.60" y="474.50" text-anchor="middle" font-size="14" font-weight="bold">Map Task</text>
<text x="353.60" y="490.50" text-anchor="middle" font-size="14" font-weight="bold">Area: 136184</text>
</g>
<g>
<line x1="513.99" y1="494.90" x2="513.99" y2="670.10" stroke="#d3d3d3" stroke-width="1.4"/>
<line x1="534.27" y1="494.90" x2="534.27" y2="670.10" stroke="#d3d3d3" stroke-width="1.4"/>
<line x1="554.54" y1="494.90" x2="554.54" y2="670.10" stroke="#d3d3d3" stroke-width="1.4"/>
<line x1="574.82" y1="494.90" x2="574.82" y2="670.10" stroke="#d3d3d3" stroke-width="1.4"/>
<line x1="595.10" y1="494.90" x2="595.10" y2="670.10" stroke="#d3d3d3" stroke-width="1.4"/>
<line x1="615.38" y1="494.90" x2="615.38" y2="670.10" stroke="#d3d3d3" stroke-width="1.4"/>
<line x1="635.66" y1="494.90" x2="635.66" y2="670.10" stroke="#d3d3d3" stroke-width="1.4"/>
<line x1="655.93" y1="494.90" x2="655.93" y2="670.10" stroke="#d3d3d3" stroke-width="1.4"/>
<line x1="676.21" y1="494.90" x2="676.21" y2="670.10" stroke="#d3d3d3" stroke-width="1.4"/>
<line x1="507.50" y1="663.61" x2="682.70" y2="663.61" stroke="#d3d3d3" stroke-width="1.15"/>
<line x1="507.50" y1="631.17" x2="682.70" y2="631.17" stroke="#d3d3d3" stroke-width="1.15"/>
<line x1="507.50" y1="598.72" x2="682.70" y2="598.72" stroke="#d3d3d3" stroke-width="1.15"/>
<line x1="507.50" y1="566.28" x2="682.70" y2="566.28" stroke="#d3d3d3" stroke-width="1.15"/>
<line x1="507.50" y1="533.83" x2="682.70" y2="533.83" stroke="#d3d3d3" stroke-width="1.15"/>
<line x1="507.50" y1="501.39" x2="682.70" y2="501.39" stroke="#d3d3d3" stroke-width="1.15"/>
<path d="M659.0,523.8L662.5,568.9L658.5,572.6L657.7,529.0ZM658.5,572.6L537.7,572.5L538.1,568.6L662.5,568.6ZM538.0,570.5L669.5,637.6L669.0,656.9ZM669.0,656.9L535.0,655.5L548.0,646.6L669.5,637.6ZM536.0,643.5L567.6,627.6L572.0,645.4L536.0,647.4ZM574.7,624.4L580.6,621.0L580.6,627.7Z" fill="#bebebe" stroke="#bebebe" stroke-width="0.6" stroke-linejoin="round"/>

<polyline points="657.7,529.0 658.5,572.6 537.7,572.5 669.5,637.6 526.4,648.2 595.0,614.2" fill="none" stroke="#8b0000" stroke-width="2.7" stroke-linejoin="round" stroke-linecap="round"/>
<polyline points="659.0,523.8 661.2,532.5 662.0,541.3 662.0,554.4 662.9,560.5 662.5,568.9 538.1,568.6 539.0,569.5 669.0,656.9 520.7,656.5 582.6,655.3 583.2,649.4 579.3,645.5 574.7,640.9 571.4,635.6 568.8,632.3 565.8,636.9 564.8,644.8 562.2,642.2 559.9,636.9 559.6,628.4 561.5,625.4 567.5,624.8 572.7,626.4 576.7,630.3 580.6,631.7 583.2,628.4 582.9,621.1 583.9,616.5 587.2,613.9 591.1,615.9 593.1,617.2" fill="none" stroke="#3d3d3d" stroke-width="3.4" stroke-linejoin="round" stroke-linecap="round"/>
<polyline points="582.6,655.3 583.2,649.4 579.3,645.5 574.7,640.9 571.4,635.6 568.8,632.3 566.5,634 565.8,640 564.8,644.8 562.2,642.2 559.9,636.9 559.6,628.4 561.5,625.4 567.5,624.8 572.7,626.4 576.7,630.3 580.6,631.7 583.2,628.4 582.9,621.1 583.9,616.5 587.2,613.9 591.1,615.9 593.1,617.2" fill="none" stroke="#3d3d3d" stroke-width="4.2" stroke-linejoin="round" stroke-linecap="round"/>
<path d="M507.50,494.15V670.85M682.70,494.15V670.85" stroke="#000" stroke-width="1.9" fill="none"/>
<path d="M506.55,494.90H683.65M506.55,670.10H683.65" stroke="#000" stroke-width="1.5" fill="none"/>
<line x1="513.99" y1="670.10" x2="513.99" y2="677.10" stroke="#000" stroke-width="1.8"/>
<text x="513.99" y="693.80" text-anchor="middle" font-size="11">0</text>
<line x1="554.54" y1="670.10" x2="554.54" y2="677.10" stroke="#000" stroke-width="1.8"/>
<text x="554.54" y="693.80" text-anchor="middle" font-size="11">200</text>
<line x1="595.10" y1="670.10" x2="595.10" y2="677.10" stroke="#000" stroke-width="1.8"/>
<text x="595.10" y="693.80" text-anchor="middle" font-size="11">400</text>
<line x1="635.66" y1="670.10" x2="635.66" y2="677.10" stroke="#000" stroke-width="1.8"/>
<text x="635.66" y="693.80" text-anchor="middle" font-size="11">600</text>
<line x1="676.21" y1="670.10" x2="676.21" y2="677.10" stroke="#000" stroke-width="1.8"/>
<text x="676.21" y="693.80" text-anchor="middle" font-size="11">800</text>
<line x1="507.50" y1="663.61" x2="500.50" y2="663.61" stroke="#000" stroke-width="1.4"/>
<text transform="translate(492.70,663.61) rotate(-90)" text-anchor="middle" font-size="11">0</text>
<line x1="507.50" y1="631.17" x2="500.50" y2="631.17" stroke="#000" stroke-width="1.4"/>
<text transform="translate(492.70,631.17) rotate(-90)" text-anchor="middle" font-size="11">100</text>
<line x1="507.50" y1="598.72" x2="500.50" y2="598.72" stroke="#000" stroke-width="1.4"/>
<text transform="translate(492.70,598.72) rotate(-90)" text-anchor="middle" font-size="11">200</text>
<line x1="507.50" y1="566.28" x2="500.50" y2="566.28" stroke="#000" stroke-width="1.4"/>
<text transform="translate(492.70,566.28) rotate(-90)" text-anchor="middle" font-size="11">300</text>
<line x1="507.50" y1="533.83" x2="500.50" y2="533.83" stroke="#000" stroke-width="1.4"/>
<text transform="translate(492.70,533.83) rotate(-90)" text-anchor="middle" font-size="11">400</text>
<line x1="507.50" y1="501.39" x2="500.50" y2="501.39" stroke="#000" stroke-width="1.4"/>
<text transform="translate(492.70,501.39) rotate(-90)" text-anchor="middle" font-size="11">500</text>
<text x="595.10" y="474.50" text-anchor="middle" font-size="14" font-weight="bold">Map Task</text>
<text x="595.10" y="490.50" text-anchor="middle" font-size="14" font-weight="bold">Area: 54983</text>
</g>
<g>
<line x1="30.54" y1="743.85" x2="30.54" y2="919.05" stroke="#d3d3d3" stroke-width="1.4"/>
<line x1="50.82" y1="743.85" x2="50.82" y2="919.05" stroke="#d3d3d3" stroke-width="1.4"/>
<line x1="71.09" y1="743.85" x2="71.09" y2="919.05" stroke="#d3d3d3" stroke-width="1.4"/>
<line x1="91.37" y1="743.85" x2="91.37" y2="919.05" stroke="#d3d3d3" stroke-width="1.4"/>
<line x1="111.65" y1="743.85" x2="111.65" y2="919.05" stroke="#d3d3d3" stroke-width="1.4"/>
<line x1="131.93" y1="743.85" x2="131.93" y2="919.05" stroke="#d3d3d3" stroke-width="1.4"/>
<line x1="152.21" y1="743.85" x2="152.21" y2="919.05" stroke="#d3d3d3" stroke-width="1.4"/>
<line x1="172.48" y1="743.85" x2="172.48" y2="919.05" stroke="#d3d3d3" stroke-width="1.4"/>
<line x1="192.76" y1="743.85" x2="192.76" y2="919.05" stroke="#d3d3d3" stroke-width="1.4"/>
<line x1="24.05" y1="912.56" x2="199.25" y2="912.56" stroke="#d3d3d3" stroke-width="1.15"/>
<line x1="24.05" y1="892.28" x2="199.25" y2="892.28" stroke="#d3d3d3" stroke-width="1.15"/>
<line x1="24.05" y1="872.01" x2="199.25" y2="872.01" stroke="#d3d3d3" stroke-width="1.15"/>
<line x1="24.05" y1="851.73" x2="199.25" y2="851.73" stroke="#d3d3d3" stroke-width="1.15"/>
<line x1="24.05" y1="831.45" x2="199.25" y2="831.45" stroke="#d3d3d3" stroke-width="1.15"/>
<line x1="24.05" y1="811.17" x2="199.25" y2="811.17" stroke="#d3d3d3" stroke-width="1.15"/>
<line x1="24.05" y1="790.89" x2="199.25" y2="790.89" stroke="#d3d3d3" stroke-width="1.15"/>
<line x1="24.05" y1="770.62" x2="199.25" y2="770.62" stroke="#d3d3d3" stroke-width="1.15"/>
<line x1="24.05" y1="750.34" x2="199.25" y2="750.34" stroke="#d3d3d3" stroke-width="1.15"/>
<path d="M76.5,792.1L77.2,792.0L64.7,788.7L63.4,788.0ZM77.2,792.0L78.0,791.9L66.1,789.5L64.7,788.7ZM78.0,791.9L78.7,791.9L67.4,790.2L66.1,789.5ZM78.7,791.9L79.5,791.8L68.8,790.9L67.4,790.2ZM79.5,791.8L80.2,791.7L70.1,791.6L68.8,790.9ZM80.2,791.7L80.9,791.6L71.4,792.4L70.1,791.6ZM80.9,791.6L81.7,791.6L72.8,793.1L71.4,792.4ZM81.7,791.6L82.4,791.5L74.1,793.8L72.8,793.1ZM82.4,791.5L83.1,791.4L75.4,794.5L74.1,793.8ZM83.1,791.4L83.9,791.3L76.8,795.3L75.4,794.5ZM83.9,791.3L84.6,791.2L78.1,796.0L76.8,795.3ZM84.6,791.2L85.4,791.2L79.5,796.7L78.1,796.0ZM85.4,791.2L86.1,791.1L80.8,797.5L79.5,796.7ZM86.1,791.1L86.8,791.0L82.1,798.2L80.8,797.5ZM86.8,791.0L87.6,790.9L83.6,798.4L82.1,798.2ZM87.6,790.9L88.3,790.9L85.1,798.3L83.6,798.4ZM88.3,790.9L89.0,790.8L86.5,798.0L85.1,798.3ZM89.0,790.8L89.8,790.7L87.9,797.2L86.5,798.0ZM89.8,790.7L90.5,790.6L89.2,796.5L87.9,797.2ZM90.5,790.6L91.3,790.5L90.5,795.7L89.2,796.5ZM91.3,790.5L92.0,790.5L91.8,794.9L90.5,795.7ZM92.0,790.5L92.7,790.4L93.1,794.1L91.8,794.9ZM92.7,790.4L93.5,790.3L94.4,793.4L93.1,794.1ZM93.5,790.3L94.2,790.2L95.7,792.6L94.4,793.4ZM94.2,790.2L95.0,790.2L97.1,791.8L95.7,792.6ZM95.0,790.2L95.7,790.1L98.4,791.1L97.1,791.8ZM95.7,790.1L96.4,790.0L99.8,790.4L98.4,791.1ZM96.4,790.0L97.2,789.9L101.1,789.7L99.8,790.4ZM97.2,789.9L97.9,789.8L102.5,789.1L101.1,789.7ZM97.9,789.8L98.6,789.8L103.8,788.4L102.5,789.1ZM103.8,788.4L105.3,787.8L99.4,789.7L98.6,789.8ZM105.3,787.8L106.7,787.5L100.1,789.6L99.4,789.7ZM106.7,787.5L108.2,787.1L100.9,789.5L100.1,789.6ZM108.2,787.1L109.7,786.7L101.6,789.5L100.9,789.5ZM109.7,786.7L111.2,786.4L102.3,789.4L101.6,789.5ZM111.2,786.4L112.6,786.0L103.1,789.3L102.3,789.4ZM112.6,786.0L114.1,785.6L103.8,789.2L103.1,789.3ZM114.1,785.6L115.6,785.3L104.5,789.1L103.8,789.2ZM115.6,785.3L117.1,784.9L105.3,789.1L104.5,789.1ZM117.1,784.9L118.6,784.5L106.0,789.0L105.3,789.1ZM118.6,784.5L120.0,784.2L106.8,788.9L106.0,789.0ZM120.0,784.2L121.5,783.8L107.5,788.8L106.8,788.9ZM121.5,783.8L123.0,783.4L108.2,788.8L107.5,788.8ZM123.0,783.4L124.5,783.1L109.0,788.7L108.2,788.8ZM124.5,783.1L125.9,782.7L109.7,788.6L109.0,788.7ZM125.9,782.7L127.4,782.2L110.5,788.5L109.7,788.6ZM127.4,782.2L128.8,781.7L111.2,788.4L110.5,788.5ZM128.8,781.7L130.3,781.2L111.9,788.4L111.2,788.4ZM130.3,781.2L131.7,780.9L112.7,788.3L111.9,788.4ZM131.7,780.9L133.3,780.7L113.4,788.2L112.7,788.3ZM133.3,780.7L134.8,780.5L114.1,788.1L113.4,788.2ZM134.8,780.5L136.3,780.3L114.9,788.1L114.1,788.1ZM136.3,780.3L137.8,780.1L115.6,788.0L114.9,788.1ZM115.6,788.0L116.4,787.9L138.6,778.9L137.8,780.1ZM116.4,787.9L117.1,787.8L139.4,777.6L138.6,778.9ZM117.1,787.8L117.8,787.7L140.2,776.3L139.4,777.6ZM117.8,787.7L118.6,787.7L140.2,774.9L140.2,776.3ZM118.6,787.7L119.3,787.6L139.7,773.5L140.2,774.9ZM119.3,787.6L120.0,787.5L139.2,772.0L139.7,773.5ZM120.0,787.5L120.8,787.4L138.7,770.6L139.2,772.0ZM120.8,787.4L121.5,787.4L137.3,770.2L138.7,770.6ZM121.5,787.4L122.3,787.3L135.8,769.9L137.3,770.2ZM122.3,787.3L123.0,787.2L134.3,769.6L135.8,769.9ZM123.0,787.2L122.6,788.1L133.1,770.5L134.3,769.6ZM122.6,788.1L122.3,788.9L131.9,771.5L133.1,770.5ZM122.3,788.9L121.9,789.8L130.7,772.5L131.9,771.5ZM130.7,772.5L130.2,773.9L121.5,790.6L121.9,789.8ZM130.2,773.9L129.7,775.3L121.2,791.5L121.5,790.6ZM129.7,775.3L129.1,776.7L120.8,792.3L121.2,791.5ZM129.1,776.7L128.6,778.2L120.5,793.2L120.8,792.3ZM128.6,778.2L128.1,779.6L120.1,794.1L120.5,793.2ZM128.1,779.6L127.6,781.0L119.7,794.9L120.1,794.1ZM127.6,781.0L127.0,782.5L119.4,795.8L119.7,794.9ZM127.0,782.5L126.5,783.9L119.0,796.6L119.4,795.8ZM126.5,783.9L126.0,785.3L118.6,797.5L119.0,796.6ZM126.0,785.3L125.4,786.8L118.3,798.3L118.6,797.5ZM125.4,786.8L124.7,788.1L117.9,799.2L118.3,798.3ZM124.7,788.1L124.0,789.5L117.6,800.0L117.9,799.2ZM124.0,789.5L123.3,790.8L117.2,800.9L117.6,800.0ZM123.3,790.8L122.6,792.2L116.8,801.8L117.2,800.9ZM122.6,792.2L121.9,793.6L116.5,802.6L116.8,801.8ZM121.9,793.6L121.2,794.9L116.1,803.5L116.5,802.6ZM121.2,794.9L120.6,796.3L115.7,804.3L116.1,803.5ZM120.6,796.3L119.8,797.6L115.4,805.2L115.7,804.3ZM119.8,797.6L119.1,799.0L115.0,806.0L115.4,805.2ZM119.1,799.0L118.3,800.3L114.6,806.9L115.0,806.0ZM118.3,800.3L117.6,801.6L114.3,807.8L114.6,806.9ZM117.6,801.6L116.8,803.0L113.9,808.6L114.3,807.8ZM113.9,808.6L113.6,809.5L116.0,804.3L116.8,803.0ZM113.6,809.5L113.2,810.3L115.3,805.6L116.0,804.3ZM113.2,810.3L112.8,811.2L114.5,806.9L115.3,805.6ZM112.8,811.2L112.5,812.0L113.8,808.3L114.5,806.9ZM112.5,812.0L112.1,812.9L112.8,809.3L113.8,808.3ZM112.1,812.9L111.7,813.8L111.4,810.0L112.8,809.3ZM111.7,813.8L111.4,814.6L110.0,810.7L111.4,810.0ZM111.4,814.6L111.0,815.5L108.6,810.4L110.0,810.7ZM111.0,815.5L110.7,816.3L107.2,809.9L108.6,810.4ZM110.7,816.3L110.3,817.2L105.7,809.5L107.2,809.9ZM110.3,817.2L109.9,818.0L104.3,809.3L105.7,809.5ZM109.9,818.0L109.6,818.9L102.9,809.9L104.3,809.3ZM109.6,818.9L109.2,819.7L101.5,810.6L102.9,809.9ZM109.2,819.7L108.8,820.6L100.2,811.3L101.5,810.6ZM108.8,820.6L108.5,821.5L99.1,812.2L100.2,811.3ZM108.5,821.5L108.1,822.3L98.5,813.7L99.1,812.2ZM108.1,822.3L107.8,823.2L98.0,815.1L98.5,813.7ZM107.8,823.2L107.4,824.0L97.8,816.5L98.0,815.1ZM107.4,824.0L107.0,824.9L98.6,817.8L97.8,816.5ZM107.0,824.9L106.7,825.7L99.4,819.1L98.6,817.8ZM106.7,825.7L106.3,826.6L100.2,820.4L99.4,819.1ZM100.2,820.4L101.5,821.2L107.1,827.8L106.3,826.6ZM101.5,821.2L102.7,822.1L108.0,828.9L107.1,827.8ZM102.7,822.1L104.0,822.9L108.8,830.1L108.0,828.9ZM104.0,822.9L105.2,823.8L109.7,831.2L108.8,830.1ZM105.2,823.8L106.6,824.4L110.5,832.4L109.7,831.2ZM106.6,824.4L108.0,825.0L111.4,833.6L110.5,832.4ZM108.0,825.0L109.4,825.5L112.2,834.7L111.4,833.6ZM109.4,825.5L110.6,826.4L113.1,835.9L112.2,834.7ZM110.6,826.4L111.8,827.4L113.9,837.0L113.1,835.9ZM111.8,827.4L112.9,828.4L114.8,838.2L113.9,837.0ZM112.9,828.4L114.1,829.4L115.6,839.3L114.8,838.2ZM114.1,829.4L115.2,830.4L116.4,840.5L115.6,839.3ZM115.2,830.4L116.3,831.4L117.3,841.7L116.4,840.5ZM116.3,831.4L117.4,832.4L118.1,842.8L117.3,841.7ZM117.4,832.4L118.5,833.5L119.0,844.0L118.1,842.8ZM118.5,833.5L119.6,834.6L119.8,845.1L119.0,844.0ZM119.6,834.6L120.7,835.7L120.7,846.3L119.8,845.1ZM120.7,835.7L121.7,836.7L121.5,847.5L120.7,846.3ZM121.7,836.7L122.8,837.8L122.4,848.6L121.5,847.5ZM122.8,837.8L123.9,838.9L123.2,849.8L122.4,848.6ZM123.9,838.9L124.9,840.0L124.1,850.9L123.2,849.8ZM124.9,840.0L125.9,841.2L124.9,852.1L124.1,850.9ZM125.9,841.2L126.9,842.3L125.7,853.2L124.9,852.1ZM126.9,842.3L127.8,843.4L126.6,854.4L125.7,853.2ZM127.8,843.4L128.8,844.6L127.4,855.6L126.6,854.4ZM128.8,844.6L129.8,845.7L128.3,856.7L127.4,855.6ZM129.8,845.7L130.8,846.9L129.1,857.9L128.3,856.7ZM130.8,846.9L131.8,848.0L130.0,859.0L129.1,857.9ZM131.8,848.0L132.8,849.2L130.8,860.2L130.0,859.0ZM132.8,849.2L133.8,850.3L131.7,861.4L130.8,860.2ZM133.8,850.3L134.8,851.5L132.5,862.5L131.7,861.4ZM134.8,851.5L135.5,852.8L133.4,863.7L132.5,862.5ZM135.5,852.8L136.0,854.2L134.2,864.8L133.4,863.7ZM136.0,854.2L136.5,855.6L135.0,866.0L134.2,864.8ZM136.5,855.6L136.9,857.1L135.9,867.1L135.0,866.0ZM136.9,857.1L137.4,858.5L136.7,868.3L135.9,867.1ZM137.4,858.5L137.9,860.0L137.6,869.5L136.7,868.3ZM137.9,860.0L138.4,861.4L138.4,870.6L137.6,869.5ZM138.4,861.4L138.9,862.8L139.3,871.8L138.4,870.6ZM138.9,862.8L139.3,864.3L140.1,872.9L139.3,871.8ZM139.3,864.3L139.8,865.7L141.0,874.1L140.1,872.9ZM139.8,865.7L140.3,867.1L141.9,875.2L141.0,874.1ZM140.3,867.1L141.3,868.2L142.8,876.3L141.9,875.2ZM141.3,868.2L142.6,869.0L143.8,877.3L142.8,876.3ZM142.6,869.0L143.9,869.4L144.8,878.4L143.8,877.3ZM143.9,869.4L145.3,868.9L145.8,879.4L144.8,878.4ZM145.3,868.9L146.7,868.4L146.8,880.5L145.8,879.4ZM146.7,868.4L148.2,868.4L147.7,881.5L146.8,880.5ZM148.2,868.4L149.7,868.5L148.7,882.6L147.7,881.5ZM149.7,868.5L151.1,868.9L149.7,883.6L148.7,882.6ZM151.1,868.9L152.4,869.8L150.7,884.7L149.7,883.6ZM152.4,869.8L153.6,870.6L151.6,885.7L150.7,884.7ZM153.6,870.6L154.1,872.1L152.6,886.8L151.6,885.7ZM154.1,872.1L154.6,873.5L153.6,887.8L152.6,886.8ZM153.6,887.8L152.4,887.7L154.0,874.9L154.6,873.5ZM152.4,887.7L151.2,887.6L153.4,876.3L154.0,874.9ZM151.2,887.6L150.0,887.6L152.1,877.0L153.4,876.3ZM150.0,887.6L148.8,887.5L150.7,877.5L152.1,877.0ZM148.8,887.5L147.6,887.4L149.3,877.8L150.7,877.5ZM147.6,887.4L146.4,887.3L147.8,877.6L149.3,877.8ZM146.4,887.3L145.2,887.2L146.3,877.4L147.8,877.6ZM145.2,887.2L144.0,887.1L144.9,877.0L146.3,877.4ZM144.0,887.1L142.9,887.1L143.4,876.6L144.9,877.0ZM142.9,887.1L141.7,887.0L142.1,877.4L143.4,876.6ZM141.7,887.0L140.5,886.9L140.8,878.1L142.1,877.4ZM140.5,886.9L139.3,886.8L139.5,878.9L140.8,878.1ZM139.3,886.8L138.1,886.7L138.2,879.6L139.5,878.9ZM138.1,886.7L136.9,886.6L136.9,880.4L138.2,879.6ZM136.9,886.6L135.7,886.6L135.6,881.2L136.9,880.4ZM135.7,886.6L134.5,886.5L134.4,882.1L135.6,881.2ZM134.5,886.5L133.3,886.4L133.2,883.1L134.4,882.1ZM133.3,886.4L132.1,886.3L132.1,884.0L133.2,883.1ZM132.1,886.3L130.9,886.2L130.9,885.0L132.1,884.0ZM130.9,886.2L129.7,886.1L129.7,885.9L130.9,885.0ZM129.7,885.9L128.5,886.8L128.5,886.1L129.7,886.1ZM128.5,886.8L127.3,887.8L127.3,886.0L128.5,886.1ZM127.3,887.8L126.0,888.5L126.1,886.0L127.3,886.0ZM126.0,888.5L124.7,889.3L124.9,885.9L126.1,886.0ZM124.7,889.3L123.4,890.0L123.7,885.9L124.9,885.9ZM123.4,890.0L122.1,890.8L122.5,885.9L123.7,885.9ZM122.1,890.8L120.8,891.5L121.3,885.8L122.5,885.9ZM120.8,891.5L119.5,892.3L120.2,885.8L121.3,885.8ZM119.5,892.3L118.2,893.0L119.0,885.7L120.2,885.8ZM118.2,893.0L116.9,893.8L117.8,885.7L119.0,885.7ZM116.9,893.8L115.6,894.5L116.6,885.6L117.8,885.7ZM115.6,894.5L114.4,895.5L115.4,885.6L116.6,885.6ZM114.4,895.5L113.3,896.6L114.2,885.6L115.4,885.6ZM113.3,896.6L112.3,897.6L113.0,885.5L114.2,885.6ZM112.3,897.6L111.2,898.7L111.8,885.5L113.0,885.5ZM111.2,898.7L110.1,899.8L110.6,885.4L111.8,885.5ZM110.1,899.8L108.8,900.2L109.4,885.4L110.6,885.4ZM108.8,900.2L107.3,900.4L108.2,885.3L109.4,885.4ZM107.3,900.4L105.8,900.6L107.0,885.3L108.2,885.3ZM105.8,900.6L104.3,900.8L105.8,885.2L107.0,885.3ZM104.3,900.8L102.8,901.0L104.6,885.2L105.8,885.2ZM102.8,901.0L101.7,899.9L103.5,885.5L104.6,885.2ZM101.7,899.9L100.7,898.8L102.4,885.8L103.5,885.5ZM100.7,898.8L100.4,897.5L101.2,886.0L102.4,885.8ZM100.4,897.5L100.7,896.0L100.1,886.3L101.2,886.0ZM100.7,896.0L101.0,894.5L99.0,886.6L100.1,886.3ZM99.0,886.6L97.9,886.9L101.8,893.3L101.0,894.5ZM97.9,886.9L96.8,887.2L102.9,892.2L101.8,893.3ZM96.8,887.2L95.6,887.4L104.0,891.1L102.9,892.2ZM95.6,887.4L94.5,887.7L105.0,890.0L104.0,891.1ZM94.5,887.7L93.4,888.0L105.5,888.6L105.0,890.0ZM93.4,888.0L92.3,888.3L105.7,887.1L105.5,888.6ZM92.3,888.3L91.2,888.5L105.9,885.6L105.7,887.1ZM91.2,888.5L90.1,888.8L106.1,884.1L105.9,885.6ZM90.1,888.8L88.9,889.1L106.3,882.6L106.1,884.1ZM88.9,889.1L87.8,889.4L105.1,881.6L106.3,882.6ZM87.8,889.4L86.7,889.7L103.9,880.7L105.1,881.6ZM86.7,889.7L85.6,889.9L102.4,880.7L103.9,880.7ZM85.6,889.9L84.5,890.2L100.9,880.9L102.4,880.7ZM84.5,890.2L83.3,890.5L99.4,881.2L100.9,880.9ZM83.3,890.5L82.2,890.8L97.9,881.4L99.4,881.2ZM82.2,890.8L81.1,891.1L96.4,881.7L97.9,881.4ZM81.1,891.1L80.0,891.3L94.9,882.0L96.4,881.7ZM80.0,891.3L78.9,891.6L93.4,882.3L94.9,882.0ZM78.9,891.6L77.7,891.9L91.9,882.5L93.4,882.3ZM77.7,891.9L76.6,892.2L90.4,882.8L91.9,882.5ZM76.6,892.2L75.5,892.4L88.9,883.1L90.4,882.8ZM75.5,892.4L74.4,892.7L87.4,883.3L88.9,883.1ZM74.4,892.7L73.3,893.0L85.9,883.6L87.4,883.3ZM73.3,893.0L72.1,893.3L84.4,883.9L85.9,883.6ZM72.1,893.3L71.0,893.6L82.9,884.1L84.4,883.9ZM71.0,893.6L69.9,893.8L81.4,884.4L82.9,884.1ZM69.9,893.8L68.8,894.1L79.9,884.7L81.4,884.4ZM68.8,894.1L67.7,894.4L78.4,884.9L79.9,884.7ZM67.7,894.4L66.5,894.7L76.9,885.2L78.4,884.9ZM66.5,894.7L65.4,895.0L75.3,885.5L76.9,885.2ZM65.4,895.0L64.3,895.2L73.8,885.7L75.3,885.5ZM64.3,895.2L63.2,895.5L72.3,886.0L73.8,885.7ZM63.2,895.5L62.1,895.8L70.8,886.3L72.3,886.0ZM62.1,895.8L61.0,896.1L69.3,886.6L70.8,886.3ZM61.0,896.1L59.8,896.3L67.8,886.8L69.3,886.6ZM59.8,896.3L58.7,896.6L66.3,887.1L67.8,886.8ZM58.7,896.6L57.6,896.9L64.8,887.4L66.3,887.1ZM57.6,896.9L56.5,897.2L63.3,887.6L64.8,887.4ZM56.5,897.2L55.4,897.5L61.8,887.9L63.3,887.6ZM55.4,897.5L54.2,897.7L60.3,888.2L61.8,887.9ZM54.2,897.7L53.1,898.0L58.8,888.4L60.3,888.2ZM53.1,898.0L52.0,898.3L57.3,888.7L58.8,888.4Z" fill="#bebebe" stroke="#bebebe" stroke-width="0.6" stroke-linejoin="round"/>
<path d="M63.4,788.0L76.5,792.1M66.1,789.5L78.0,791.9M68.8,790.9L79.5,791.8M71.4,792.4L80.9,791.6M74.1,793.8L82.4,791.5M76.8,795.3L83.9,791.3M79.5,796.7L85.4,791.2M82.1,798.2L86.8,791.0M85.1,798.3L88.3,790.9M87.9,797.2L89.8,790.7M90.5,795.7L91.3,790.5M93.1,794.1L92.7,790.4M95.7,792.6L94.2,790.2M98.4,791.1L95.7,790.1M101.1,789.7L97.2,789.9M103.8,788.4L98.6,789.8M106.7,787.5L100.1,789.6M109.7,786.7L101.6,789.5M112.6,786.0L103.1,789.3M115.6,785.3L104.5,789.1M118.6,784.5L106.0,789.0M121.5,783.8L107.5,788.8M124.5,783.1L109.0,788.7M127.4,782.2L110.5,788.5M130.3,781.2L111.9,788.4M133.3,780.7L113.4,788.2M136.3,780.3L114.9,788.1M138.6,778.9L116.4,787.9M140.2,776.3L117.8,787.7M139.7,773.5L119.3,787.6M138.7,770.6L120.8,787.4M135.8,769.9L122.3,787.3M133.1,770.5L122.6,788.1M130.7,772.5L121.9,789.8M129.7,775.3L121.2,791.5M128.6,778.2L120.5,793.2M127.6,781.0L119.7,794.9M126.5,783.9L119.0,796.6M125.4,786.8L118.3,798.3M124.0,789.5L117.6,800.0M122.6,792.2L116.8,801.8M121.2,794.9L116.1,803.5M119.8,797.6L115.4,805.2M118.3,800.3L114.6,806.9M116.8,803.0L113.9,808.6M115.3,805.6L113.2,810.3M113.8,808.3L112.5,812.0M111.4,810.0L111.7,813.8M108.6,810.4L111.0,815.5M105.7,809.5L110.3,817.2M102.9,809.9L109.6,818.9M100.2,811.3L108.8,820.6M98.5,813.7L108.1,822.3M97.8,816.5L107.4,824.0M99.4,819.1L106.7,825.7M101.5,821.2L107.1,827.8M104.0,822.9L108.8,830.1M106.6,824.4L110.5,832.4M109.4,825.5L112.2,834.7M111.8,827.4L113.9,837.0M114.1,829.4L115.6,839.3M116.3,831.4L117.3,841.7M118.5,833.5L119.0,844.0M120.7,835.7L120.7,846.3M122.8,837.8L122.4,848.6M124.9,840.0L124.1,850.9M126.9,842.3L125.7,853.2M128.8,844.6L127.4,855.6M130.8,846.9L129.1,857.9M132.8,849.2L130.8,860.2M134.8,851.5L132.5,862.5M136.0,854.2L134.2,864.8M136.9,857.1L135.9,867.1M137.9,860.0L137.6,869.5M138.9,862.8L139.3,871.8M139.8,865.7L141.0,874.1M141.3,868.2L142.8,876.3M143.9,869.4L144.8,878.4M146.7,868.4L146.8,880.5M149.7,868.5L148.7,882.6M152.4,869.8L150.7,884.7M154.1,872.1L152.6,886.8M154.0,874.9L152.4,887.7M152.1,877.0L150.0,887.6M149.3,877.8L147.6,887.4M146.3,877.4L145.2,887.2M143.4,876.6L142.9,887.1M140.8,878.1L140.5,886.9M138.2,879.6L138.1,886.7M135.6,881.2L135.7,886.6M133.2,883.1L133.3,886.4M130.9,885.0L130.9,886.2M128.5,886.8L128.5,886.1M126.0,888.5L126.1,886.0M123.4,890.0L123.7,885.9M120.8,891.5L121.3,885.8M118.2,893.0L119.0,885.7M115.6,894.5L116.6,885.6M113.3,896.6L114.2,885.6M111.2,898.7L111.8,885.5M108.8,900.2L109.4,885.4M105.8,900.6L107.0,885.3M102.8,901.0L104.6,885.2M100.7,898.8L102.4,885.8M100.7,896.0L100.1,886.3M101.8,893.3L97.9,886.9M104.0,891.1L95.6,887.4M105.5,888.6L93.4,888.0M105.9,885.6L91.2,888.5M106.3,882.6L88.9,889.1M103.9,880.7L86.7,889.7M100.9,880.9L84.5,890.2M97.9,881.4L82.2,890.8M94.9,882.0L80.0,891.3M91.9,882.5L77.7,891.9M88.9,883.1L75.5,892.4M85.9,883.6L73.3,893.0M82.9,884.1L71.0,893.6M79.9,884.7L68.8,894.1M76.9,885.2L66.5,894.7M73.8,885.7L64.3,895.2M70.8,886.3L62.1,895.8M67.8,886.8L59.8,896.3M64.8,887.4L57.6,896.9M61.8,887.9L55.4,897.5M58.8,888.4L53.1,898.0" stroke="#a6a6a6" stroke-width="0.5" fill="none"/>

<polyline points="63.4,788.0 82.7,798.5 86.2,798.2 97.6,791.5 104.6,788.0 125.6,782.8 130.8,781.0 137.9,780.1 140.5,775.8 138.7,770.5 134.3,769.6 130.8,772.3 128.2,779.3 125.6,786.3 120.3,796.8 113.3,809.1 109.8,810.8 104.6,809.1 99.3,811.7 97.6,816.1 100.2,820.4 105.4,823.9 109.8,825.7 116.8,831.8 123.8,838.8 135.2,851.9 140.5,867.7 143.5,869.6 146.5,868.4 150.5,868.5 153.6,870.6 154.6,873.5 153.3,876.5 149.8,877.9 146.0,877.3 143.5,876.6 136.1,880.8 127.3,887.8 115.1,894.8 109.8,900.1 102.8,901.0 100.2,898.3 101.1,894.0 105.4,889.6 106.3,882.6 103.7,880.5 99.3,881.2 57.3,888.7 51.1,892.2" fill="none" stroke="#8b0000" stroke-width="2.7" stroke-linejoin="round" stroke-linecap="round"/>
<polyline points="76.5,792.1 123.0,787.2 106.3,826.6 141.4,874.7 153.6,887.8 129.1,886.1 104.6,885.2 52.0,898.3" fill="none" stroke="#3d3d3d" stroke-width="3.1" stroke-linejoin="round" stroke-linecap="round"/>

<path d="M24.05,743.10V919.80M199.25,743.10V919.80" stroke="#000" stroke-width="1.9" fill="none"/>
<path d="M23.10,743.85H200.20M23.10,919.05H200.20" stroke="#000" stroke-width="1.5" fill="none"/>
<line x1="30.54" y1="919.05" x2="30.54" y2="926.05" stroke="#000" stroke-width="1.8"/>
<text x="30.54" y="942.75" text-anchor="middle" font-size="11">0</text>
<line x1="71.09" y1="919.05" x2="71.09" y2="926.05" stroke="#000" stroke-width="1.8"/>
<text x="71.09" y="942.75" text-anchor="middle" font-size="11">200</text>
<line x1="111.65" y1="919.05" x2="111.65" y2="926.05" stroke="#000" stroke-width="1.8"/>
<text x="111.65" y="942.75" text-anchor="middle" font-size="11">400</text>
<line x1="152.21" y1="919.05" x2="152.21" y2="926.05" stroke="#000" stroke-width="1.8"/>
<text x="152.21" y="942.75" text-anchor="middle" font-size="11">600</text>
<line x1="192.76" y1="919.05" x2="192.76" y2="926.05" stroke="#000" stroke-width="1.8"/>
<text x="192.76" y="942.75" text-anchor="middle" font-size="11">800</text>
<line x1="24.05" y1="912.56" x2="17.05" y2="912.56" stroke="#000" stroke-width="1.4"/>
<text transform="translate(9.25,912.56) rotate(-90)" text-anchor="middle" font-size="11">0</text>
<line x1="24.05" y1="872.01" x2="17.05" y2="872.01" stroke="#000" stroke-width="1.4"/>
<text transform="translate(9.25,872.01) rotate(-90)" text-anchor="middle" font-size="11">200</text>
<line x1="24.05" y1="831.45" x2="17.05" y2="831.45" stroke="#000" stroke-width="1.4"/>
<text transform="translate(9.25,831.45) rotate(-90)" text-anchor="middle" font-size="11">400</text>
<line x1="24.05" y1="790.89" x2="17.05" y2="790.89" stroke="#000" stroke-width="1.4"/>
<text transform="translate(9.25,790.89) rotate(-90)" text-anchor="middle" font-size="11">600</text>
<line x1="24.05" y1="750.34" x2="17.05" y2="750.34" stroke="#000" stroke-width="1.4"/>
<text transform="translate(9.25,750.34) rotate(-90)" text-anchor="middle" font-size="11">800</text>
<text x="111.65" y="723.45" text-anchor="middle" font-size="14" font-weight="bold">Flight Memory Task</text>
<text x="111.65" y="739.45" text-anchor="middle" font-size="14" font-weight="bold">Area: 40025</text>
</g>
<g>
<line x1="272.49" y1="743.85" x2="272.49" y2="919.05" stroke="#d3d3d3" stroke-width="1.4"/>
<line x1="292.77" y1="743.85" x2="292.77" y2="919.05" stroke="#d3d3d3" stroke-width="1.4"/>
<line x1="313.04" y1="743.85" x2="313.04" y2="919.05" stroke="#d3d3d3" stroke-width="1.4"/>
<line x1="333.32" y1="743.85" x2="333.32" y2="919.05" stroke="#d3d3d3" stroke-width="1.4"/>
<line x1="353.60" y1="743.85" x2="353.60" y2="919.05" stroke="#d3d3d3" stroke-width="1.4"/>
<line x1="373.88" y1="743.85" x2="373.88" y2="919.05" stroke="#d3d3d3" stroke-width="1.4"/>
<line x1="394.16" y1="743.85" x2="394.16" y2="919.05" stroke="#d3d3d3" stroke-width="1.4"/>
<line x1="414.43" y1="743.85" x2="414.43" y2="919.05" stroke="#d3d3d3" stroke-width="1.4"/>
<line x1="434.71" y1="743.85" x2="434.71" y2="919.05" stroke="#d3d3d3" stroke-width="1.4"/>
<line x1="266.00" y1="912.56" x2="441.20" y2="912.56" stroke="#d3d3d3" stroke-width="1.15"/>
<line x1="266.00" y1="892.28" x2="441.20" y2="892.28" stroke="#d3d3d3" stroke-width="1.15"/>
<line x1="266.00" y1="872.01" x2="441.20" y2="872.01" stroke="#d3d3d3" stroke-width="1.15"/>
<line x1="266.00" y1="851.73" x2="441.20" y2="851.73" stroke="#d3d3d3" stroke-width="1.15"/>
<line x1="266.00" y1="831.45" x2="441.20" y2="831.45" stroke="#d3d3d3" stroke-width="1.15"/>
<line x1="266.00" y1="811.17" x2="441.20" y2="811.17" stroke="#d3d3d3" stroke-width="1.15"/>
<line x1="266.00" y1="790.89" x2="441.20" y2="790.89" stroke="#d3d3d3" stroke-width="1.15"/>
<line x1="266.00" y1="770.62" x2="441.20" y2="770.62" stroke="#d3d3d3" stroke-width="1.15"/>
<line x1="266.00" y1="750.34" x2="441.20" y2="750.34" stroke="#d3d3d3" stroke-width="1.15"/>
<path d="M340.5,804.8L341.2,804.0L356.9,814.6L356.3,816.0ZM341.2,804.0L341.9,803.2L357.5,813.2L356.9,814.6ZM341.9,803.2L342.5,802.4L358.2,811.8L357.5,813.2ZM342.5,802.4L343.2,801.6L358.8,810.3L358.2,811.8ZM343.2,801.6L343.9,800.8L359.4,808.9L358.8,810.3ZM343.9,800.8L344.6,800.0L360.0,807.5L359.4,808.9ZM344.6,800.0L345.3,799.1L360.7,806.1L360.0,807.5ZM345.3,799.1L345.9,798.3L361.3,804.7L360.7,806.1ZM345.9,798.3L346.6,797.5L361.9,803.3L361.3,804.7ZM346.6,797.5L347.3,796.7L362.6,801.9L361.9,803.3ZM347.3,796.7L348.0,795.9L363.3,800.5L362.6,801.9ZM348.0,795.9L348.7,795.1L364.0,799.1L363.3,800.5ZM348.7,795.1L349.4,794.3L364.5,797.7L364.0,799.1ZM349.4,794.3L350.0,793.5L364.7,796.1L364.5,797.7ZM350.0,793.5L350.7,792.7L365.0,794.7L364.7,796.1ZM350.7,792.7L351.4,791.9L365.9,793.4L365.0,794.7ZM351.4,791.9L352.1,791.1L366.7,792.1L365.9,793.4ZM352.1,791.1L352.8,790.3L367.5,790.8L366.7,792.1ZM352.8,790.3L353.4,789.5L368.3,789.4L367.5,790.8ZM353.4,789.5L354.1,788.6L369.0,788.1L368.3,789.4ZM354.1,788.6L354.8,787.8L369.7,786.7L369.0,788.1ZM354.8,787.8L355.5,787.0L370.5,785.3L369.7,786.7ZM355.5,787.0L356.2,786.2L371.2,784.0L370.5,785.3ZM356.2,786.2L356.8,785.4L371.9,782.6L371.2,784.0ZM356.8,785.4L357.5,784.6L372.7,781.3L371.9,782.6ZM357.5,784.6L358.2,783.8L373.4,779.9L372.7,781.3ZM373.4,779.9L374.3,779.3L359.7,783.9L358.2,783.8ZM374.3,779.3L375.2,778.6L361.2,784.0L359.7,783.9ZM375.2,778.6L376.1,778.0L362.8,784.1L361.2,784.0ZM376.1,778.0L377.0,777.4L364.3,784.3L362.8,784.1ZM377.0,777.4L378.1,777.3L365.8,784.4L364.3,784.3ZM378.1,777.3L379.1,777.4L367.3,784.5L365.8,784.4ZM379.1,777.4L380.2,777.5L368.8,784.6L367.3,784.5ZM380.2,777.5L381.3,777.7L370.3,784.7L368.8,784.6ZM381.3,777.7L382.4,777.8L371.9,784.8L370.3,784.7ZM382.4,777.8L383.4,778.1L373.4,784.9L371.9,784.8ZM383.4,778.1L384.1,779.0L374.9,785.0L373.4,784.9ZM384.1,779.0L384.7,779.9L376.4,785.2L374.9,785.0ZM384.7,779.9L385.2,780.8L377.9,785.3L376.4,785.2ZM385.2,780.8L385.4,781.9L379.4,785.4L377.9,785.3ZM385.4,781.9L385.6,783.0L381.0,785.5L379.4,785.4ZM385.6,783.0L385.7,784.1L382.5,785.6L381.0,785.5ZM385.7,784.1L386.1,785.1L384.0,785.7L382.5,785.6ZM386.1,785.1L386.6,786.1L385.5,785.8L384.0,785.7ZM385.5,785.8L387.0,785.9L387.1,787.1L386.6,786.1ZM387.0,785.9L388.5,786.1L387.6,788.1L387.1,787.1ZM388.5,786.1L390.1,786.2L388.1,789.0L387.6,788.1ZM390.1,786.2L391.6,786.3L388.6,790.0L388.1,789.0ZM391.6,786.3L393.1,786.4L389.1,791.0L388.6,790.0ZM393.1,786.4L393.2,787.4L389.8,792.3L389.1,791.0ZM393.2,787.4L393.4,788.5L390.5,793.7L389.8,792.3ZM393.4,788.5L393.5,789.5L391.1,795.0L390.5,793.7ZM393.5,789.5L393.7,790.5L391.8,796.4L391.1,795.0ZM393.7,790.5L393.8,791.6L392.5,797.7L391.8,796.4ZM393.8,791.6L394.0,792.6L393.1,799.1L392.5,797.7ZM394.0,792.6L394.1,793.6L393.5,800.6L393.1,799.1ZM394.1,793.6L394.3,794.7L393.8,802.0L393.5,800.6ZM394.3,794.7L394.4,795.7L394.1,803.5L393.8,802.0ZM394.4,795.7L394.6,796.8L394.4,805.0L394.1,803.5ZM394.6,796.8L394.7,797.8L394.8,806.5L394.4,805.0ZM394.7,797.8L394.9,798.8L395.1,807.9L394.8,806.5ZM394.9,798.8L395.0,799.9L395.4,809.4L395.1,807.9ZM395.0,799.9L395.2,800.9L395.6,810.9L395.4,809.4ZM395.6,810.9L395.0,812.3L395.3,801.9L395.2,800.9ZM395.0,812.3L394.4,813.7L395.5,803.0L395.3,801.9ZM394.4,813.7L393.8,815.0L395.6,804.0L395.5,803.0ZM395.6,804.0L395.8,805.0L393.5,816.5L393.8,815.0ZM395.8,805.0L395.9,806.1L393.3,818.0L393.5,816.5ZM395.9,806.1L396.1,807.1L393.2,819.5L393.3,818.0ZM396.1,807.1L396.2,808.1L393.8,820.9L393.2,819.5ZM396.2,808.1L396.3,809.2L394.3,822.3L393.8,820.9ZM396.3,809.2L396.5,810.2L394.9,823.7L394.3,822.3ZM396.5,810.2L396.6,811.2L395.4,825.1L394.9,823.7ZM396.6,811.2L396.8,812.3L395.8,826.5L395.4,825.1ZM396.8,812.3L396.9,813.3L396.3,828.0L395.8,826.5ZM396.9,813.3L397.1,814.3L396.7,829.4L396.3,828.0ZM397.1,814.3L397.2,815.4L397.2,830.9L396.7,829.4ZM397.2,815.4L397.4,816.4L397.6,832.3L397.2,830.9ZM397.4,816.4L397.5,817.4L398.1,833.7L397.6,832.3ZM397.5,817.4L397.7,818.5L398.3,835.2L398.1,833.7ZM397.7,818.5L397.8,819.5L398.4,836.7L398.3,835.2ZM397.8,819.5L398.0,820.6L398.5,838.2L398.4,836.7ZM398.0,820.6L398.1,821.6L398.6,839.8L398.5,838.2ZM398.1,821.6L398.3,822.6L398.6,841.3L398.6,839.8ZM398.3,822.6L398.4,823.7L398.7,842.8L398.6,841.3ZM398.4,823.7L398.6,824.7L398.8,844.3L398.7,842.8ZM398.6,824.7L398.7,825.7L398.9,845.8L398.8,844.3ZM398.7,825.7L398.9,826.8L398.9,847.3L398.9,845.8ZM398.9,826.8L399.0,827.8L399.0,848.8L398.9,847.3ZM399.0,848.8L398.9,849.2L398.7,829.3L399.0,827.8ZM398.9,849.2L398.7,849.5L398.4,830.8L398.7,829.3ZM398.7,849.5L398.6,849.9L398.1,832.3L398.4,830.8ZM398.6,849.9L398.5,850.2L397.8,833.8L398.1,832.3ZM398.5,850.2L398.3,850.6L397.5,835.4L397.8,833.8ZM398.3,850.6L398.2,851.0L397.2,836.9L397.5,835.4ZM398.2,851.0L398.0,851.3L396.9,838.4L397.2,836.9ZM398.0,851.3L397.9,851.7L396.6,839.9L396.9,838.4ZM397.9,851.7L397.8,852.1L396.3,841.4L396.6,839.9ZM397.8,852.1L397.6,852.4L396.0,842.9L396.3,841.4ZM397.6,852.4L397.5,852.8L395.7,844.4L396.0,842.9ZM397.5,852.8L397.4,853.1L395.4,846.0L395.7,844.4ZM397.4,853.1L397.2,853.5L395.2,847.5L395.4,846.0ZM397.2,853.5L397.1,853.9L394.9,849.0L395.2,847.5ZM397.1,853.9L397.0,854.2L394.6,850.5L394.9,849.0ZM397.0,854.2L397.1,854.6L394.3,852.0L394.6,850.5ZM397.1,854.6L397.1,855.0L394.0,853.5L394.3,852.0ZM397.1,855.0L397.1,855.4L393.7,855.0L394.0,853.5ZM397.1,855.4L397.2,855.8L393.4,856.5L393.7,855.0ZM397.2,855.8L397.2,856.2L393.1,858.1L393.4,856.5ZM397.2,856.2L397.3,856.5L392.8,859.6L393.1,858.1ZM397.3,856.5L397.3,856.9L392.5,861.1L392.8,859.6ZM397.3,856.9L397.4,857.3L392.2,862.6L392.5,861.1ZM397.4,857.3L397.4,857.7L391.9,864.1L392.2,862.6ZM397.4,857.7L398.3,858.9L391.9,865.1L391.9,864.1ZM398.3,858.9L399.2,860.2L392.0,866.0L391.9,865.1ZM399.2,860.2L400.1,861.4L392.0,867.0L392.0,866.0ZM400.1,861.4L401.0,862.7L392.1,867.9L392.0,867.0ZM401.0,862.7L401.9,863.9L392.1,868.9L392.1,867.9ZM401.9,863.9L402.8,865.2L392.2,869.9L392.1,868.9ZM402.8,865.2L403.7,866.4L392.2,870.8L392.2,869.9ZM403.7,866.4L404.5,867.7L392.2,871.8L392.2,870.8ZM404.5,867.7L405.4,869.0L392.3,872.7L392.2,871.8ZM405.4,869.0L406.3,870.2L392.3,873.7L392.3,872.7ZM406.3,870.2L407.2,871.5L392.4,874.7L392.3,873.7ZM407.2,871.5L408.1,872.7L392.4,875.6L392.4,874.7ZM408.1,872.7L409.0,874.0L392.5,876.6L392.4,875.6ZM409.0,874.0L409.7,875.3L392.5,877.5L392.5,876.6ZM409.7,875.3L410.4,876.7L392.5,878.5L392.5,877.5ZM410.4,876.7L411.1,878.0L392.6,879.5L392.5,878.5ZM411.1,878.0L411.8,879.4L392.6,880.4L392.6,879.5ZM411.8,879.4L412.5,880.8L392.7,881.4L392.6,880.4ZM412.5,880.8L413.2,882.1L392.7,882.3L392.7,881.4ZM413.2,882.1L413.6,883.5L392.8,883.3L392.7,882.3ZM413.6,883.5L413.3,885.0L392.8,884.2L392.8,883.3ZM413.3,885.0L413.0,886.5L392.9,885.2L392.8,884.2ZM413.0,886.5L412.7,888.0L392.9,886.2L392.9,885.2ZM412.7,888.0L411.4,888.6L392.9,887.1L392.9,886.2ZM411.4,888.6L409.9,889.0L393.0,888.1L392.9,887.1ZM409.9,889.0L408.4,889.3L393.0,889.0L393.0,888.1ZM408.4,889.3L407.0,889.4L393.1,890.0L393.0,889.0ZM407.0,889.4L405.5,888.9L393.1,891.0L393.1,890.0ZM405.5,888.9L404.1,888.4L393.2,891.9L393.1,891.0ZM393.2,891.9L393.2,892.9L402.6,887.9L404.1,888.4ZM393.2,892.9L393.2,893.8L401.2,887.4L402.6,887.9ZM393.2,893.8L393.3,894.8L399.7,886.8L401.2,887.4ZM393.3,894.8L393.3,895.8L398.3,886.3L399.7,886.8ZM393.3,895.8L393.4,896.7L396.8,885.8L398.3,886.3ZM393.4,896.7L393.4,897.7L395.4,885.3L396.8,885.8ZM393.4,897.7L393.5,898.6L393.9,884.7L395.4,885.3ZM393.5,898.6L393.5,899.6L392.5,884.2L393.9,884.7ZM393.5,899.6L392.1,898.9L391.2,883.5L392.5,884.2ZM392.1,898.9L390.8,898.3L389.9,882.8L391.2,883.5ZM390.8,898.3L389.4,897.6L388.5,882.1L389.9,882.8ZM389.4,897.6L388.1,897.0L387.2,881.4L388.5,882.1ZM388.1,897.0L386.7,896.3L385.9,880.7L387.2,881.4ZM386.7,896.3L385.4,895.7L384.6,880.0L385.9,880.7ZM385.4,895.7L384.0,895.0L383.3,879.2L384.6,880.0ZM384.0,895.0L382.6,894.3L381.9,878.5L383.3,879.2ZM382.6,894.3L381.3,893.7L380.6,877.8L381.9,878.5ZM381.3,893.7L379.9,893.0L379.3,877.1L380.6,877.8ZM379.9,893.0L378.6,892.4L378.0,876.4L379.3,877.1ZM378.6,892.4L377.2,891.7L376.7,875.6L378.0,876.4ZM377.2,891.7L375.8,891.1L375.5,874.8L376.7,875.6ZM375.8,891.1L374.5,890.4L374.2,874.0L375.5,874.8ZM374.5,890.4L373.1,889.8L372.9,873.2L374.2,874.0ZM373.1,889.8L371.8,889.1L371.7,872.4L372.9,873.2ZM371.8,889.1L370.4,888.4L370.4,871.6L371.7,872.4ZM370.4,888.4L369.1,887.8L369.1,870.8L370.4,871.6ZM369.1,887.8L367.7,887.1L367.9,870.0L369.1,870.8ZM367.7,887.1L366.3,886.5L366.6,869.2L367.9,870.0ZM366.3,886.5L365.0,885.8L365.3,868.4L366.6,869.2ZM365.0,885.8L363.6,885.2L364.1,867.6L365.3,868.4ZM363.6,885.2L362.3,884.5L362.8,866.8L364.1,867.6ZM362.3,884.5L360.9,883.8L361.7,865.9L362.8,866.8ZM360.9,883.8L359.5,883.2L361.1,864.5L361.7,865.9ZM359.5,883.2L358.2,882.5L360.6,863.1L361.1,864.5ZM358.2,882.5L356.8,881.9L360.0,861.7L360.6,863.1ZM356.8,881.9L355.5,881.2L359.2,860.6L360.0,861.7ZM355.5,881.2L354.1,880.6L357.8,860.0L359.2,860.6ZM354.1,880.6L352.8,879.9L356.5,859.3L357.8,860.0ZM352.8,879.9L351.4,879.2L355.1,858.9L356.5,859.3ZM351.4,879.2L350.0,878.6L353.6,859.2L355.1,858.9ZM350.0,878.6L348.7,877.9L352.2,859.4L353.6,859.2ZM348.7,877.9L347.3,877.3L350.7,859.7L352.2,859.4ZM347.3,877.3L346.0,876.6L349.2,860.0L350.7,859.7ZM346.0,876.6L344.6,876.0L347.8,860.3L349.2,860.0ZM344.6,876.0L343.2,875.3L346.3,860.6L347.8,860.3ZM343.2,875.3L341.9,874.6L344.8,860.9L346.3,860.6ZM341.9,874.6L340.5,874.0L343.3,860.8L344.8,860.9ZM340.5,874.0L339.2,873.3L341.8,860.6L343.3,860.8ZM339.2,873.3L337.8,872.7L340.3,860.5L341.8,860.6ZM337.8,872.7L336.4,872.0L338.9,860.4L340.3,860.5ZM336.4,872.0L335.1,871.4L337.4,860.2L338.9,860.4ZM335.1,871.4L333.7,870.7L335.9,860.1L337.4,860.2ZM333.7,870.7L332.4,870.1L334.4,860.0L335.9,860.1ZM332.4,870.1L331.0,869.4L332.9,859.8L334.4,860.0ZM331.0,869.4L329.7,868.7L331.4,859.7L332.9,859.8ZM329.7,868.7L328.3,868.1L329.9,859.6L331.4,859.7ZM328.3,868.1L326.9,867.4L328.4,859.4L329.9,859.6ZM326.9,867.4L325.6,866.8L326.9,859.3L328.4,859.4ZM325.6,866.8L324.2,866.1L325.4,859.2L326.9,859.3ZM324.2,866.1L322.9,865.5L323.9,859.1L325.4,859.2ZM322.9,865.5L321.5,864.8L322.4,859.0L323.9,859.1ZM321.5,864.8L320.1,864.1L321.0,858.8L322.4,859.0ZM320.1,864.1L318.8,863.5L319.5,858.7L321.0,858.8ZM318.8,863.5L317.4,862.8L318.0,858.6L319.5,858.7ZM317.4,862.8L316.1,862.2L316.5,858.5L318.0,858.6ZM316.1,862.2L314.7,861.5L315.0,858.3L316.5,858.5ZM314.7,861.5L313.4,860.9L313.5,858.2L315.0,858.3ZM313.4,860.9L312.0,860.2L312.0,858.1L313.5,858.2ZM312.0,860.2L310.7,860.4L310.5,858.2L312.0,858.1ZM310.7,860.4L309.3,860.6L309.0,858.4L310.5,858.2ZM309.3,860.6L307.9,860.9L307.4,858.5L309.0,858.4ZM307.9,860.9L306.6,861.1L305.9,858.7L307.4,858.5ZM306.6,861.1L305.2,861.3L304.4,858.8L305.9,858.7ZM305.2,861.3L303.9,861.5L302.8,858.9L304.4,858.8ZM303.9,861.5L302.5,861.7L301.3,859.0L302.8,858.9ZM302.5,861.7L301.2,861.9L299.8,859.0L301.3,859.0ZM301.2,861.9L299.9,862.1L298.3,859.1L299.8,859.0ZM299.9,862.1L298.5,862.4L296.7,859.2L298.3,859.1ZM298.5,862.4L297.1,862.6L295.2,859.3L296.7,859.2ZM297.1,862.6L295.8,862.8L293.7,859.3L295.2,859.3ZM295.8,862.8L294.5,863.0L292.1,859.4L293.7,859.3ZM294.5,863.0L293.1,863.2L290.6,859.5L292.1,859.4ZM293.1,863.2L291.7,863.5L289.1,859.6L290.6,859.5ZM291.7,863.5L290.4,863.7L287.6,859.6L289.1,859.6ZM290.4,863.7L289.1,863.9L286.0,859.7L287.6,859.6ZM289.1,863.9L287.7,864.1L284.5,859.8L286.0,859.7ZM287.7,864.1L287.9,864.7L283.4,860.9L284.5,859.8ZM287.9,864.7L288.1,865.3L282.4,862.0L283.4,860.9ZM288.1,865.3L288.4,865.9L281.3,863.0L282.4,862.0ZM288.4,865.9L288.6,866.5L280.3,864.1L281.3,863.0ZM288.6,866.5L288.8,867.1L280.9,865.5L280.3,864.1ZM288.8,867.1L289.0,867.7L281.4,866.9L280.9,865.5ZM289.0,867.7L289.2,868.3L282.0,868.3L281.4,866.9ZM289.2,868.3L289.5,868.9L282.6,869.7L282.0,868.3ZM289.5,868.9L289.7,869.5L283.5,870.9L282.6,869.7ZM289.7,869.5L289.9,870.1L284.3,872.2L283.5,870.9ZM289.9,870.1L290.1,870.7L285.1,873.4L284.3,872.2ZM290.1,870.7L290.3,871.3L286.0,874.7L285.1,873.4ZM290.3,871.3L290.5,871.9L286.8,875.9L286.0,874.7ZM290.5,871.9L290.8,872.5L287.7,877.2L286.8,875.9ZM290.8,872.5L291.0,873.1L288.5,878.4L287.7,877.2ZM291.0,873.1L291.2,873.7L289.3,879.7L288.5,878.4ZM291.2,873.7L291.4,874.3L290.2,880.9L289.3,879.7ZM291.4,874.3L291.6,874.9L291.0,882.2L290.2,880.9ZM291.6,874.9L291.9,875.5L291.4,883.6L291.0,882.2ZM291.9,875.5L292.1,876.1L291.8,885.1L291.4,883.6ZM292.1,876.1L292.3,876.7L292.3,886.5L291.8,885.1ZM292.3,876.7L292.5,877.3L292.7,887.9L292.3,886.5ZM292.5,877.3L292.7,877.9L293.1,889.4L292.7,887.9ZM292.7,877.9L293.0,878.5L293.6,890.8L293.1,889.4ZM293.0,878.5L293.2,879.1L294.0,892.3L293.6,890.8ZM293.2,879.1L293.4,879.7L294.6,893.6L294.0,892.3ZM293.4,879.7L293.6,880.2L295.3,895.0L294.6,893.6ZM293.6,880.2L293.8,880.8L295.9,896.3L295.3,895.0ZM293.8,880.8L294.0,881.4L296.6,897.7L295.9,896.3ZM294.0,881.4L294.3,882.0L297.3,899.0L296.6,897.7ZM294.3,882.0L294.5,882.6L297.9,900.4L297.3,899.0ZM294.5,882.6L294.7,883.2L299.0,901.2L297.9,900.4ZM294.7,883.2L294.9,883.8L300.5,901.3L299.0,901.2ZM294.9,883.8L295.1,884.4L302.0,901.5L300.5,901.3ZM295.1,884.4L295.4,885.0L303.5,901.7L302.0,901.5ZM295.4,885.0L295.6,885.6L304.6,900.8L303.5,901.7ZM295.6,885.6L295.8,886.2L305.8,899.8L304.6,900.8ZM295.8,886.2L296.0,886.8L306.9,898.7L305.8,899.8ZM296.0,886.8L296.2,887.4L307.8,897.6L306.9,898.7ZM296.2,887.4L296.5,888.0L307.8,896.1L307.8,897.6ZM296.5,888.0L296.7,888.6L307.8,894.6L307.8,896.1ZM296.7,888.6L296.9,889.2L307.8,893.1L307.8,894.6ZM296.9,889.2L297.1,889.8L307.8,891.6L307.8,893.1ZM297.1,889.8L297.3,890.4L307.8,890.1L307.8,891.6ZM297.3,890.4L297.5,891.0L307.8,888.6L307.8,890.1ZM297.5,891.0L297.8,891.6L306.8,887.6L307.8,888.6ZM297.8,891.6L298.0,892.2L305.7,886.6L306.8,887.6ZM298.0,892.2L298.2,892.8L304.6,885.6L305.7,886.6ZM298.2,892.8L298.4,893.4L303.2,886.2L304.6,885.6ZM298.4,893.4L298.6,894.0L301.8,886.7L303.2,886.2ZM298.6,894.0L298.9,894.6L300.4,887.3L301.8,886.7ZM298.9,894.6L299.1,895.2L299.7,888.7L300.4,887.3ZM299.1,895.2L299.3,895.8L299.0,890.0L299.7,888.7Z" fill="#bebebe" stroke="#bebebe" stroke-width="0.6" stroke-linejoin="round"/>
<path d="M356.3,816.0L340.5,804.8M357.5,813.2L341.9,803.2M358.8,810.3L343.2,801.6M360.0,807.5L344.6,800.0M361.3,804.7L345.9,798.3M362.6,801.9L347.3,796.7M364.0,799.1L348.7,795.1M364.7,796.1L350.0,793.5M365.9,793.4L351.4,791.9M367.5,790.8L352.8,790.3M369.0,788.1L354.1,788.6M370.5,785.3L355.5,787.0M371.9,782.6L356.8,785.4M373.4,779.9L358.2,783.8M375.2,778.6L361.2,784.0M377.0,777.4L364.3,784.3M379.1,777.4L367.3,784.5M381.3,777.7L370.3,784.7M383.4,778.1L373.4,784.9M384.7,779.9L376.4,785.2M385.4,781.9L379.4,785.4M385.7,784.1L382.5,785.6M386.6,786.1L385.5,785.8M387.6,788.1L388.5,786.1M388.6,790.0L391.6,786.3M389.8,792.3L393.2,787.4M391.1,795.0L393.5,789.5M392.5,797.7L393.8,791.6M393.5,800.6L394.1,793.6M394.1,803.5L394.4,795.7M394.8,806.5L394.7,797.8M395.4,809.4L395.0,799.9M395.0,812.3L395.3,801.9M393.8,815.0L395.6,804.0M393.3,818.0L395.9,806.1M393.8,820.9L396.2,808.1M394.9,823.7L396.5,810.2M395.8,826.5L396.8,812.3M396.7,829.4L397.1,814.3M397.6,832.3L397.4,816.4M398.3,835.2L397.7,818.5M398.5,838.2L398.0,820.6M398.6,841.3L398.3,822.6M398.8,844.3L398.6,824.7M398.9,847.3L398.9,826.8M398.9,849.2L398.7,829.3M398.6,849.9L398.1,832.3M398.3,850.6L397.5,835.4M398.0,851.3L396.9,838.4M397.8,852.1L396.3,841.4M397.5,852.8L395.7,844.4M397.2,853.5L395.2,847.5M397.0,854.2L394.6,850.5M397.1,855.0L394.0,853.5M397.2,855.8L393.4,856.5M397.3,856.5L392.8,859.6M397.4,857.3L392.2,862.6M398.3,858.9L391.9,865.1M400.1,861.4L392.0,867.0M401.9,863.9L392.1,868.9M403.7,866.4L392.2,870.8M405.4,869.0L392.3,872.7M407.2,871.5L392.4,874.7M409.0,874.0L392.5,876.6M410.4,876.7L392.5,878.5M411.8,879.4L392.6,880.4M413.2,882.1L392.7,882.3M413.3,885.0L392.8,884.2M412.7,888.0L392.9,886.2M409.9,889.0L393.0,888.1M407.0,889.4L393.1,890.0M404.1,888.4L393.2,891.9M401.2,887.4L393.2,893.8M398.3,886.3L393.3,895.8M395.4,885.3L393.4,897.7M392.5,884.2L393.5,899.6M389.9,882.8L390.8,898.3M387.2,881.4L388.1,897.0M384.6,880.0L385.4,895.7M381.9,878.5L382.6,894.3M379.3,877.1L379.9,893.0M376.7,875.6L377.2,891.7M374.2,874.0L374.5,890.4M371.7,872.4L371.8,889.1M369.1,870.8L369.1,887.8M366.6,869.2L366.3,886.5M364.1,867.6L363.6,885.2M361.7,865.9L360.9,883.8M360.6,863.1L358.2,882.5M359.2,860.6L355.5,881.2M356.5,859.3L352.8,879.9M353.6,859.2L350.0,878.6M350.7,859.7L347.3,877.3M347.8,860.3L344.6,876.0M344.8,860.9L341.9,874.6M341.8,860.6L339.2,873.3M338.9,860.4L336.4,872.0M335.9,860.1L333.7,870.7M332.9,859.8L331.0,869.4M329.9,859.6L328.3,868.1M326.9,859.3L325.6,866.8M323.9,859.1L322.9,865.5M321.0,858.8L320.1,864.1M318.0,858.6L317.4,862.8M315.0,858.3L314.7,861.5M312.0,858.1L312.0,860.2M309.0,858.4L309.3,860.6M305.9,858.7L306.6,861.1M302.8,858.9L303.9,861.5M299.8,859.0L301.2,861.9M296.7,859.2L298.5,862.4M293.7,859.3L295.8,862.8M290.6,859.5L293.1,863.2M287.6,859.6L290.4,863.7M284.5,859.8L287.7,864.1M282.4,862.0L288.1,865.3M280.3,864.1L288.6,866.5M281.4,866.9L289.0,867.7M282.6,869.7L289.5,868.9M284.3,872.2L289.9,870.1M286.0,874.7L290.3,871.3M287.7,877.2L290.8,872.5M289.3,879.7L291.2,873.7M291.0,882.2L291.6,874.9M291.8,885.1L292.1,876.1M292.7,887.9L292.5,877.3M293.6,890.8L293.0,878.5M294.6,893.6L293.4,879.7M295.9,896.3L293.8,880.8M297.3,899.0L294.3,882.0M299.0,901.2L294.7,883.2M302.0,901.5L295.1,884.4M304.6,900.8L295.6,885.6M306.9,898.7L296.0,886.8M307.8,896.1L296.5,888.0M307.8,893.1L296.9,889.2M307.8,890.1L297.3,890.4M306.8,887.6L297.8,891.6M304.6,885.6L298.2,892.8M301.8,886.7L298.6,894.0M299.7,888.7L299.1,895.2" stroke="#a6a6a6" stroke-width="0.5" fill="none"/>

<polyline points="356.3,816.0 361.5,804.2 364.4,798.2 364.8,795.0 367.4,791.0 373.4,779.9 377.3,777.2 383.2,777.9 385.2,780.5 385.8,784.5 389.1,791.0 393.1,798.9 395.7,810.7 393.7,815.3 393.1,819.3 395.0,823.9 398.3,834.4 399.0,848.8 397.0,854.1 397.4,857.7 402.0,864.1 409.4,874.6 413.7,883.1 412.6,888.4 407.3,889.5 401.0,887.3 392.5,884.2 378.7,876.8 361.8,866.2 359.7,860.9 355.4,858.8 344.9,860.9 327.9,859.4 312.0,858.1 304.6,858.8 284.5,859.8 280.3,864.1 282.4,869.3 290.9,882.0 294.1,892.6 298.3,901.1 303.6,901.7 307.8,897.9 307.8,888.4 304.6,885.6 300.4,887.3 299.0,890.0" fill="none" stroke="#8b0000" stroke-width="2.7" stroke-linejoin="round" stroke-linecap="round"/>
<polyline points="340.5,804.8 358.2,783.8 393.1,786.4 399.0,827.8 391.9,864.1 393.5,899.6 312.0,860.2 287.7,864.1 299.3,895.8" fill="none" stroke="#3d3d3d" stroke-width="3.1" stroke-linejoin="round" stroke-linecap="round"/>

<path d="M266.00,743.10V919.80M441.20,743.10V919.80" stroke="#000" stroke-width="1.9" fill="none"/>
<path d="M265.05,743.85H442.15M265.05,919.05H442.15" stroke="#000" stroke-width="1.5" fill="none"/>
<line x1="272.49" y1="919.05" x2="272.49" y2="926.05" stroke="#000" stroke-width="1.8"/>
<text x="272.49" y="942.75" text-anchor="middle" font-size="11">0</text>
<line x1="313.04" y1="919.05" x2="313.04" y2="926.05" stroke="#000" stroke-width="1.8"/>
<text x="313.04" y="942.75" text-anchor="middle" font-size="11">200</text>
<line x1="353.60" y1="919.05" x2="353.60" y2="926.05" stroke="#000" stroke-width="1.8"/>
<text x="353.60" y="942.75" text-anchor="middle" font-size="11">400</text>
<line x1="394.16" y1="919.05" x2="394.16" y2="926.05" stroke="#000" stroke-width="1.8"/>
<text x="394.16" y="942.75" text-anchor="middle" font-size="11">600</text>
<line x1="434.71" y1="919.05" x2="434.71" y2="926.05" stroke="#000" stroke-width="1.8"/>
<text x="434.71" y="942.75" text-anchor="middle" font-size="11">800</text>
<line x1="266.00" y1="912.56" x2="259.00" y2="912.56" stroke="#000" stroke-width="1.4"/>
<text transform="translate(251.20,912.56) rotate(-90)" text-anchor="middle" font-size="11">0</text>
<line x1="266.00" y1="872.01" x2="259.00" y2="872.01" stroke="#000" stroke-width="1.4"/>
<text transform="translate(251.20,872.01) rotate(-90)" text-anchor="middle" font-size="11">200</text>
<line x1="266.00" y1="831.45" x2="259.00" y2="831.45" stroke="#000" stroke-width="1.4"/>
<text transform="translate(251.20,831.45) rotate(-90)" text-anchor="middle" font-size="11">400</text>
<line x1="266.00" y1="790.89" x2="259.00" y2="790.89" stroke="#000" stroke-width="1.4"/>
<text transform="translate(251.20,790.89) rotate(-90)" text-anchor="middle" font-size="11">600</text>
<line x1="266.00" y1="750.34" x2="259.00" y2="750.34" stroke="#000" stroke-width="1.4"/>
<text transform="translate(251.20,750.34) rotate(-90)" text-anchor="middle" font-size="11">800</text>
<text x="353.60" y="723.45" text-anchor="middle" font-size="14" font-weight="bold">Flight Memory Task</text>
<text x="353.60" y="739.45" text-anchor="middle" font-size="14" font-weight="bold">Area: 63505</text>
</g>
<g>
<line x1="513.99" y1="743.85" x2="513.99" y2="919.05" stroke="#d3d3d3" stroke-width="1.4"/>
<line x1="534.27" y1="743.85" x2="534.27" y2="919.05" stroke="#d3d3d3" stroke-width="1.4"/>
<line x1="554.54" y1="743.85" x2="554.54" y2="919.05" stroke="#d3d3d3" stroke-width="1.4"/>
<line x1="574.82" y1="743.85" x2="574.82" y2="919.05" stroke="#d3d3d3" stroke-width="1.4"/>
<line x1="595.10" y1="743.85" x2="595.10" y2="919.05" stroke="#d3d3d3" stroke-width="1.4"/>
<line x1="615.38" y1="743.85" x2="615.38" y2="919.05" stroke="#d3d3d3" stroke-width="1.4"/>
<line x1="635.66" y1="743.85" x2="635.66" y2="919.05" stroke="#d3d3d3" stroke-width="1.4"/>
<line x1="655.93" y1="743.85" x2="655.93" y2="919.05" stroke="#d3d3d3" stroke-width="1.4"/>
<line x1="676.21" y1="743.85" x2="676.21" y2="919.05" stroke="#d3d3d3" stroke-width="1.4"/>
<line x1="507.50" y1="912.56" x2="682.70" y2="912.56" stroke="#d3d3d3" stroke-width="1.15"/>
<line x1="507.50" y1="892.28" x2="682.70" y2="892.28" stroke="#d3d3d3" stroke-width="1.15"/>
<line x1="507.50" y1="872.01" x2="682.70" y2="872.01" stroke="#d3d3d3" stroke-width="1.15"/>
<line x1="507.50" y1="851.73" x2="682.70" y2="851.73" stroke="#d3d3d3" stroke-width="1.15"/>
<line x1="507.50" y1="831.45" x2="682.70" y2="831.45" stroke="#d3d3d3" stroke-width="1.15"/>
<line x1="507.50" y1="811.17" x2="682.70" y2="811.17" stroke="#d3d3d3" stroke-width="1.15"/>
<line x1="507.50" y1="790.89" x2="682.70" y2="790.89" stroke="#d3d3d3" stroke-width="1.15"/>
<line x1="507.50" y1="770.62" x2="682.70" y2="770.62" stroke="#d3d3d3" stroke-width="1.15"/>
<line x1="507.50" y1="750.34" x2="682.70" y2="750.34" stroke="#d3d3d3" stroke-width="1.15"/>
<path d="M536.6,883.1L537.8,882.9L534.9,891.5L533.8,892.6ZM537.8,882.9L539.0,882.7L536.0,890.4L534.9,891.5ZM539.0,882.7L540.1,882.4L537.0,889.4L536.0,890.4ZM540.1,882.4L541.3,882.2L538.1,888.3L537.0,889.4ZM541.3,882.2L542.5,882.0L539.1,887.2L538.1,888.3ZM542.5,882.0L543.7,881.8L540.2,886.1L539.1,887.2ZM543.7,881.8L544.8,881.5L541.2,884.9L540.2,886.1ZM544.8,881.5L546.0,881.3L542.2,883.8L541.2,884.9ZM542.2,883.8L543.2,882.7L547.2,881.1L546.0,881.3ZM543.2,882.7L544.3,881.5L548.4,880.9L547.2,881.1ZM544.3,881.5L545.3,880.4L549.5,880.6L548.4,880.9ZM545.3,880.4L546.3,879.3L550.7,880.4L549.5,880.6ZM546.3,879.3L547.4,878.2L551.9,880.2L550.7,880.4ZM547.4,878.2L548.8,877.6L553.1,880.0L551.9,880.2ZM548.8,877.6L550.1,876.9L554.2,879.7L553.1,880.0ZM550.1,876.9L551.5,876.2L555.4,879.5L554.2,879.7ZM551.5,876.2L552.8,875.5L556.6,879.3L555.4,879.5ZM552.8,875.5L554.2,874.8L557.8,879.1L556.6,879.3ZM554.2,874.8L555.6,874.2L558.9,878.8L557.8,879.1ZM555.6,874.2L556.9,873.5L560.1,878.6L558.9,878.8ZM556.9,873.5L558.3,872.8L561.3,878.4L560.1,878.6ZM558.3,872.8L559.7,872.1L562.5,878.2L561.3,878.4ZM559.7,872.1L561.0,871.4L563.7,878.0L562.5,878.2ZM561.0,871.4L562.4,870.7L564.8,877.7L563.7,878.0ZM562.4,870.7L563.7,870.1L566.0,877.5L564.8,877.7ZM563.7,870.1L565.1,869.4L567.2,877.3L566.0,877.5ZM565.1,869.4L566.5,868.7L568.4,877.1L567.2,877.3ZM566.5,868.7L567.8,868.0L569.5,876.8L568.4,877.1ZM567.8,868.0L569.2,867.3L570.7,876.6L569.5,876.8ZM569.2,867.3L570.5,866.6L571.9,876.4L570.7,876.6ZM570.5,866.6L571.9,866.0L573.1,876.2L571.9,876.4ZM571.9,866.0L573.3,865.3L574.2,875.9L573.1,876.2ZM573.3,865.3L574.6,864.6L575.4,875.7L574.2,875.9ZM574.6,864.6L576.0,863.9L576.6,875.5L575.4,875.7ZM576.0,863.9L577.3,863.2L577.8,875.3L576.6,875.5ZM577.3,863.2L578.7,862.5L578.9,875.0L577.8,875.3ZM578.7,862.5L580.1,861.9L580.1,874.8L578.9,875.0ZM580.1,861.9L581.4,861.2L581.3,874.6L580.1,874.8ZM581.4,861.2L582.8,860.5L582.5,874.4L581.3,874.6ZM582.8,860.5L584.2,859.8L583.6,874.1L582.5,874.4ZM584.2,859.8L585.5,859.2L584.8,873.9L583.6,874.1ZM585.5,859.2L586.9,858.5L586.0,873.7L584.8,873.9ZM586.9,858.5L588.1,859.1L586.7,875.1L586.0,873.7ZM588.1,859.1L589.2,859.7L587.4,876.4L586.7,875.1ZM589.2,859.7L590.4,860.2L588.1,877.8L587.4,876.4ZM590.4,860.2L591.1,861.3L588.8,879.1L588.1,877.8ZM591.1,861.3L591.7,862.4L589.5,880.5L588.8,879.1ZM591.7,862.4L592.3,863.6L590.2,881.8L589.5,880.5ZM592.3,863.6L592.9,864.7L590.9,883.2L590.2,881.8ZM592.9,864.7L593.5,865.9L591.6,884.5L590.9,883.2ZM593.5,865.9L594.0,867.1L592.3,885.9L591.6,884.5ZM594.0,867.1L594.7,868.2L593.0,887.3L592.3,885.9ZM594.7,868.2L595.4,869.2L593.7,888.6L593.0,887.3ZM595.4,869.2L596.2,870.3L594.4,890.0L593.7,888.6ZM596.2,870.3L597.0,871.3L595.1,891.3L594.4,890.0ZM597.0,871.3L597.8,872.3L595.9,892.7L595.1,891.3ZM597.8,872.3L598.6,873.4L596.6,894.0L595.9,892.7ZM598.6,873.4L599.4,874.4L597.3,895.4L596.6,894.0ZM599.4,874.4L600.2,875.5L598.0,896.7L597.3,895.4ZM600.2,875.5L601.1,876.3L598.8,896.8L598.0,896.7ZM601.1,876.3L602.1,877.2L599.8,895.6L598.8,896.8ZM602.1,877.2L603.1,878.0L600.8,894.5L599.8,895.6ZM603.1,878.0L604.1,878.9L601.8,893.3L600.8,894.5ZM604.1,878.9L605.0,879.8L602.7,892.1L601.8,893.3ZM605.0,879.8L606.0,880.6L603.7,890.9L602.7,892.1ZM606.0,880.6L607.0,881.5L604.7,889.8L603.7,890.9ZM607.0,881.5L608.0,882.3L605.7,888.6L604.7,889.8ZM608.0,882.3L609.1,883.0L606.7,887.4L605.7,888.6ZM609.1,883.0L610.2,883.7L607.7,886.3L606.7,887.4ZM610.2,883.7L611.2,884.5L608.6,885.1L607.7,886.3ZM608.6,885.1L609.6,883.9L612.3,885.2L611.2,884.5ZM609.6,883.9L610.6,882.8L613.4,885.9L612.3,885.2ZM610.6,882.8L611.6,881.6L614.5,886.6L613.4,885.9ZM611.6,881.6L613.1,882.0L615.7,886.5L614.5,886.6ZM613.1,882.0L614.5,882.4L616.9,886.5L615.7,886.5ZM614.5,882.4L616.0,882.8L618.1,886.4L616.9,886.5ZM616.0,882.8L617.5,883.2L619.3,886.3L618.1,886.4ZM617.5,883.2L618.9,883.6L620.6,886.3L619.3,886.3ZM618.9,883.6L620.4,884.0L621.8,886.2L620.6,886.3ZM620.4,884.0L621.9,884.5L623.0,886.1L621.8,886.2ZM621.9,884.5L623.3,884.9L624.2,886.0L623.0,886.1ZM623.3,884.9L624.8,885.3L625.4,885.9L624.2,886.0ZM624.8,885.3L626.3,885.7L626.5,885.5L625.4,885.9ZM626.5,885.5L627.7,885.2L627.8,886.1L626.3,885.7ZM627.7,885.2L628.9,884.9L629.2,886.5L627.8,886.1ZM628.9,884.9L630.0,884.6L630.7,886.3L629.2,886.5ZM630.0,884.6L631.2,884.2L632.2,886.0L630.7,886.3ZM631.2,884.2L632.4,883.9L633.7,885.7L632.2,886.0ZM632.4,883.9L633.5,883.6L635.2,885.3L633.7,885.7ZM633.5,883.6L634.7,883.2L636.6,885.0L635.2,885.3ZM634.7,883.2L635.9,882.9L638.1,884.7L636.6,885.0ZM635.9,882.9L637.0,882.5L639.6,884.3L638.1,884.7ZM637.0,882.5L638.1,882.0L641.1,884.0L639.6,884.3ZM638.1,882.0L639.2,881.5L642.6,883.6L641.1,884.0ZM639.2,881.5L640.3,880.9L644.1,883.3L642.6,883.6ZM640.3,880.9L641.4,880.4L645.6,883.0L644.1,883.3ZM641.4,880.4L642.5,879.9L647.0,882.6L645.6,883.0ZM642.5,879.9L643.6,879.4L648.5,882.3L647.0,882.6ZM643.6,879.4L644.7,878.9L650.0,881.9L648.5,882.3ZM644.7,878.9L645.8,878.4L651.5,881.6L650.0,881.9ZM645.8,878.4L646.2,876.9L650.1,881.0L651.5,881.6ZM646.2,876.9L646.5,875.5L648.8,880.4L650.1,881.0ZM648.8,880.4L647.4,879.8L646.9,874.0L646.5,875.5ZM647.4,879.8L646.1,879.2L647.3,872.5L646.9,874.0ZM646.1,879.2L644.7,878.7L647.6,871.1L647.3,872.5ZM644.7,878.7L643.4,878.1L646.9,869.9L647.6,871.1ZM643.4,878.1L642.0,877.5L645.9,868.7L646.9,869.9ZM642.0,877.5L640.7,876.9L644.9,867.6L645.9,868.7ZM640.7,876.9L639.3,876.3L643.9,866.4L644.9,867.6ZM639.3,876.3L637.9,875.7L642.9,865.3L643.9,866.4ZM637.9,875.7L636.6,875.1L641.9,864.1L642.9,865.3ZM636.6,875.1L635.2,874.5L640.9,863.0L641.9,864.1ZM635.2,874.5L633.9,873.9L639.9,861.9L640.9,863.0ZM633.9,873.9L632.5,873.4L638.9,860.8L639.9,861.9ZM632.5,873.4L631.2,872.8L637.9,859.6L638.9,860.8ZM631.2,872.8L629.8,872.2L636.8,858.5L637.9,859.6ZM629.8,872.2L628.5,871.6L635.8,857.4L636.8,858.5ZM628.5,871.6L627.1,871.0L634.8,856.3L635.8,857.4ZM627.1,871.0L625.7,870.4L633.8,855.1L634.8,856.3ZM625.7,870.4L624.4,869.8L632.6,854.3L633.8,855.1ZM624.4,869.8L623.0,869.2L631.2,853.7L632.6,854.3ZM623.0,869.2L621.7,868.7L629.8,853.0L631.2,853.7ZM621.7,868.7L620.3,868.1L628.4,852.4L629.8,853.0ZM620.3,868.1L619.0,867.5L627.1,851.8L628.4,852.4ZM619.0,867.5L617.6,866.9L625.7,851.1L627.1,851.8ZM617.6,866.9L616.3,866.3L624.3,850.5L625.7,851.1ZM616.3,866.3L614.9,865.7L623.0,849.8L624.3,850.5ZM614.9,865.7L613.5,865.1L622.0,848.7L623.0,849.8ZM613.5,865.1L612.4,864.1L621.1,847.5L622.0,848.7ZM612.4,864.1L611.4,863.1L620.1,846.3L621.1,847.5ZM611.4,863.1L610.3,862.1L619.2,845.1L620.1,846.3ZM610.3,862.1L609.2,861.2L619.0,843.6L619.2,845.1ZM609.2,861.2L608.1,860.2L618.8,842.1L619.0,843.6ZM608.1,860.2L607.0,859.2L618.7,840.6L618.8,842.1ZM607.0,859.2L605.9,858.2L618.5,839.1L618.7,840.6ZM605.9,858.2L604.8,857.2L618.3,837.6L618.5,839.1ZM604.8,857.2L603.7,856.2L617.9,836.1L618.3,837.6ZM603.7,856.2L602.6,855.2L617.6,834.7L617.9,836.1ZM602.6,855.2L601.5,854.2L617.2,833.2L617.6,834.7ZM601.5,854.2L600.4,853.2L616.8,831.7L617.2,833.2ZM600.4,853.2L599.3,852.2L616.4,830.3L616.8,831.7ZM599.3,852.2L598.2,851.2L616.1,828.8L616.4,830.3ZM598.2,851.2L597.1,850.2L615.7,827.3L616.1,828.8ZM597.1,850.2L596.1,849.2L615.2,825.9L615.7,827.3ZM596.1,849.2L595.0,848.2L614.3,824.7L615.2,825.9ZM595.0,848.2L593.9,847.2L613.4,823.5L614.3,824.7ZM593.9,847.2L592.8,846.3L612.5,822.2L613.4,823.5ZM592.8,846.3L591.8,845.1L611.4,821.4L612.5,822.2ZM591.8,845.1L590.9,844.0L609.9,821.1L611.4,821.4ZM590.9,844.0L590.0,842.8L608.4,820.8L609.9,821.1ZM590.0,842.8L589.1,841.7L606.9,820.4L608.4,820.8ZM589.1,841.7L588.1,840.5L605.5,820.1L606.9,820.4ZM588.1,840.5L587.2,839.3L604.0,819.8L605.5,820.1ZM587.2,839.3L586.3,838.2L602.5,819.7L604.0,819.8ZM586.3,838.2L585.4,837.0L601.0,819.7L602.5,819.7ZM585.4,837.0L584.8,835.7L599.4,819.7L601.0,819.7ZM584.8,835.7L584.2,834.3L597.9,819.7L599.4,819.7ZM584.2,834.3L583.7,832.9L596.4,819.7L597.9,819.7ZM583.7,832.9L583.2,831.6L594.9,819.7L596.4,819.7ZM583.2,831.6L582.6,830.2L593.4,819.7L594.9,819.7ZM582.6,830.2L582.1,828.8L591.9,819.7L593.4,819.7ZM582.1,828.8L581.6,827.4L590.4,819.7L591.9,819.7ZM581.6,827.4L581.0,826.0L588.8,819.7L590.4,819.7ZM581.0,826.0L580.5,824.7L587.6,819.0L588.8,819.7ZM580.5,824.7L580.0,823.3L586.4,818.0L587.6,819.0ZM580.0,823.3L579.4,821.9L585.2,817.0L586.4,818.0ZM579.4,821.9L578.9,820.5L583.9,816.3L585.2,817.0ZM578.9,820.5L578.4,819.2L582.6,815.6L583.9,816.3ZM578.4,819.2L577.8,817.8L581.2,814.9L582.6,815.6ZM577.8,817.8L577.3,816.4L579.9,814.2L581.2,814.9ZM577.3,816.4L576.2,816.6L578.4,814.5L579.9,814.2ZM576.2,816.6L575.1,816.9L576.9,814.7L578.4,814.5ZM575.1,816.9L574.0,817.1L575.5,815.0L576.9,814.7ZM574.0,817.1L572.9,817.4L574.3,815.7L575.5,815.0ZM572.9,817.4L571.9,817.6L573.4,816.9L574.3,815.7ZM573.4,816.9L572.5,818.1L570.8,817.9L571.9,817.6ZM572.5,818.1L571.6,819.3L569.7,818.1L570.8,817.9ZM571.6,819.3L570.7,820.5L568.6,818.4L569.7,818.1ZM570.7,820.5L569.8,821.7L567.5,818.6L568.6,818.4ZM569.8,821.7L568.9,822.9L566.4,818.9L567.5,818.6ZM568.9,822.9L568.0,824.1L565.3,819.1L566.4,818.9ZM568.0,824.1L567.0,825.2L564.2,819.4L565.3,819.1ZM567.0,825.2L565.7,826.0L563.1,819.6L564.2,819.4ZM565.7,826.0L564.5,826.9L562.0,819.9L563.1,819.6ZM564.5,826.9L563.3,827.7L561.0,820.1L562.0,819.9ZM563.3,827.7L562.0,828.6L559.9,820.5L561.0,820.1ZM562.0,828.6L560.8,829.5L559.1,821.3L559.9,820.5ZM560.8,829.5L559.7,830.4L558.2,822.0L559.1,821.3ZM559.7,830.4L558.5,831.4L557.4,822.7L558.2,822.0ZM558.5,831.4L557.3,832.3L556.6,823.4L557.4,822.7ZM557.3,832.3L556.2,833.3L555.7,824.2L556.6,823.4ZM556.2,833.3L555.0,834.2L554.9,824.9L555.7,824.2ZM555.0,834.2L553.9,835.2L554.0,825.6L554.9,824.9ZM553.9,835.2L552.7,836.1L553.2,826.4L554.0,825.6ZM552.7,836.1L551.5,837.1L552.3,827.1L553.2,826.4ZM551.5,837.1L550.4,838.0L551.5,827.8L552.3,827.1ZM550.4,838.0L549.2,839.0L550.6,828.6L551.5,827.8ZM549.2,839.0L548.0,839.9L549.8,829.3L550.6,828.6ZM548.0,839.9L546.8,840.6L548.9,830.0L549.8,829.3ZM546.8,840.6L545.4,840.2L548.1,830.7L548.9,830.0ZM545.4,840.2L543.9,839.8L547.2,831.5L548.1,830.7ZM543.9,839.8L542.5,839.4L546.4,832.2L547.2,831.5ZM542.5,839.4L542.0,838.0L546.5,831.2L546.4,832.2ZM542.0,838.0L541.4,836.5L546.7,830.3L546.5,831.2ZM541.4,836.5L540.9,835.1L546.8,829.3L546.7,830.3ZM540.9,835.1L540.6,833.6L547.0,828.4L546.8,829.3ZM540.6,833.6L540.9,832.1L547.1,827.4L547.0,828.4ZM540.9,832.1L541.1,830.6L547.3,826.5L547.1,827.4ZM541.1,830.6L541.4,829.1L547.4,825.5L547.3,826.5ZM541.4,829.1L541.7,827.6L547.6,824.6L547.4,825.5ZM541.7,827.6L541.9,826.1L547.7,823.6L547.6,824.6ZM541.9,826.1L542.2,824.6L547.9,822.7L547.7,823.6ZM542.2,824.6L542.5,823.0L548.0,821.7L547.9,822.7ZM542.5,823.0L542.8,821.5L548.2,820.7L548.0,821.7ZM542.8,821.5L543.0,820.0L548.3,819.8L548.2,820.7ZM543.0,820.0L543.3,818.5L548.5,818.8L548.3,819.8ZM543.3,818.5L543.6,817.0L548.6,817.9L548.5,818.8ZM543.6,817.0L543.9,815.5L548.8,816.9L548.6,817.9ZM543.9,815.5L544.1,814.0L548.9,816.0L548.8,816.9ZM544.1,814.0L544.4,812.5L549.1,815.0L548.9,816.0ZM544.4,812.5L544.7,811.0L549.2,814.1L549.1,815.0ZM544.7,811.0L544.9,809.4L549.4,813.1L549.2,814.1ZM544.9,809.4L545.2,807.9L549.5,812.1L549.4,813.1ZM545.2,807.9L545.5,806.4L549.7,811.2L549.5,812.1ZM545.5,806.4L545.8,804.9L549.8,810.2L549.7,811.2ZM545.8,804.9L546.0,803.4L550.0,809.3L549.8,810.2ZM546.0,803.4L546.3,801.9L550.1,808.3L550.0,809.3ZM546.3,801.9L546.5,800.4L550.3,807.4L550.1,808.3ZM546.5,800.4L546.6,798.8L550.4,806.4L550.3,807.4ZM546.6,798.8L546.7,797.3L550.6,805.5L550.4,806.4ZM546.7,797.3L546.9,795.8L550.7,804.5L550.6,805.5ZM546.9,795.8L547.0,794.2L550.9,803.6L550.7,804.5ZM547.0,794.2L547.1,792.7L551.0,802.6L550.9,803.6ZM547.1,792.7L548.1,791.5L551.7,802.4L551.0,802.6ZM548.1,791.5L549.0,790.3L552.3,802.2L551.7,802.4ZM549.0,790.3L550.1,789.4L553.0,802.0L552.3,802.2ZM550.1,789.4L551.6,789.0L553.7,801.8L553.0,802.0ZM551.6,789.0L553.1,788.6L554.4,801.6L553.7,801.8ZM553.1,788.6L554.5,788.2L555.0,801.4L554.4,801.6ZM554.5,788.2L556.0,787.8L555.7,801.2L555.0,801.4ZM556.0,787.8L557.5,787.4L556.4,801.0L555.7,801.2ZM557.5,787.4L559.0,787.0L557.1,800.8L556.4,801.0ZM559.0,787.0L560.4,786.6L557.7,800.6L557.1,800.8ZM560.4,786.6L561.9,786.2L558.4,800.4L557.7,800.6ZM561.9,786.2L563.4,785.8L559.1,800.2L558.4,800.4ZM563.4,785.8L564.8,785.4L559.8,800.0L559.1,800.2ZM564.8,785.4L566.3,785.0L560.4,799.8L559.8,800.0ZM566.3,785.0L567.8,784.6L561.1,799.6L560.4,799.8ZM567.8,784.6L569.2,784.2L561.8,799.4L561.1,799.6ZM569.2,784.2L570.6,783.6L562.5,799.2L561.8,799.4ZM570.6,783.6L572.0,782.9L563.1,799.0L562.5,799.2ZM572.0,782.9L573.3,782.2L563.8,798.8L563.1,799.0ZM573.3,782.2L574.7,781.6L564.5,798.6L563.8,798.8ZM574.7,781.6L576.1,780.9L565.1,798.4L564.5,798.6ZM576.1,780.9L577.6,780.7L565.8,798.1L565.1,798.4ZM577.6,780.7L579.1,780.4L566.5,797.9L565.8,798.1ZM579.1,780.4L580.5,780.6L567.2,797.7L566.5,797.9ZM580.5,780.6L581.8,781.4L567.8,797.5L567.2,797.7ZM581.8,781.4L583.1,782.2L568.5,797.3L567.8,797.5ZM583.1,782.2L584.4,782.9L569.2,797.1L568.5,797.3ZM584.4,782.9L585.8,783.7L569.9,796.9L569.2,797.1ZM585.8,783.7L587.1,784.5L570.5,796.7L569.9,796.9ZM587.1,784.5L588.4,785.2L571.2,796.5L570.5,796.7ZM588.4,785.2L589.7,786.0L571.9,796.3L571.2,796.5ZM589.7,786.0L591.0,786.8L572.6,796.1L571.9,796.3ZM591.0,786.8L592.3,787.5L573.2,795.9L572.6,796.1ZM592.3,787.5L593.7,788.3L573.9,795.7L573.2,795.9ZM593.7,788.3L595.0,789.1L574.6,795.5L573.9,795.7ZM595.0,789.1L596.3,789.8L575.3,795.3L574.6,795.5ZM596.3,789.8L597.6,790.6L575.9,795.1L575.3,795.3ZM597.6,790.6L598.9,791.3L576.6,794.9L575.9,795.1ZM598.9,791.3L600.2,792.1L577.3,794.7L576.6,794.9ZM600.2,792.1L601.6,792.9L578.0,794.5L577.3,794.7ZM601.6,792.9L602.9,793.6L578.6,794.3L578.0,794.5ZM602.9,793.6L604.2,794.4L579.3,794.1L578.6,794.3Z" fill="#bebebe" stroke="#bebebe" stroke-width="0.6" stroke-linejoin="round"/>
<path d="M533.8,892.6L536.6,883.1M536.0,890.4L539.0,882.7M538.1,888.3L541.3,882.2M540.2,886.1L543.7,881.8M542.2,883.8L546.0,881.3M544.3,881.5L548.4,880.9M546.3,879.3L550.7,880.4M548.8,877.6L553.1,880.0M551.5,876.2L555.4,879.5M554.2,874.8L557.8,879.1M556.9,873.5L560.1,878.6M559.7,872.1L562.5,878.2M562.4,870.7L564.8,877.7M565.1,869.4L567.2,877.3M567.8,868.0L569.5,876.8M570.5,866.6L571.9,876.4M573.3,865.3L574.2,875.9M576.0,863.9L576.6,875.5M578.7,862.5L578.9,875.0M581.4,861.2L581.3,874.6M584.2,859.8L583.6,874.1M586.9,858.5L586.0,873.7M589.2,859.7L587.4,876.4M591.1,861.3L588.8,879.1M592.3,863.6L590.2,881.8M593.5,865.9L591.6,884.5M594.7,868.2L593.0,887.3M596.2,870.3L594.4,890.0M597.8,872.3L595.9,892.7M599.4,874.4L597.3,895.4M601.1,876.3L598.8,896.8M603.1,878.0L600.8,894.5M605.0,879.8L602.7,892.1M607.0,881.5L604.7,889.8M609.1,883.0L606.7,887.4M611.2,884.5L608.6,885.1M613.4,885.9L610.6,882.8M615.7,886.5L613.1,882.0M618.1,886.4L616.0,882.8M620.6,886.3L618.9,883.6M623.0,886.1L621.9,884.5M625.4,885.9L624.8,885.3M627.7,885.2L627.8,886.1M630.0,884.6L630.7,886.3M632.4,883.9L633.7,885.7M634.7,883.2L636.6,885.0M637.0,882.5L639.6,884.3M639.2,881.5L642.6,883.6M641.4,880.4L645.6,883.0M643.6,879.4L648.5,882.3M645.8,878.4L651.5,881.6M646.5,875.5L648.8,880.4M647.3,872.5L646.1,879.2M646.9,869.9L643.4,878.1M644.9,867.6L640.7,876.9M642.9,865.3L637.9,875.7M640.9,863.0L635.2,874.5M638.9,860.8L632.5,873.4M636.8,858.5L629.8,872.2M634.8,856.3L627.1,871.0M632.6,854.3L624.4,869.8M629.8,853.0L621.7,868.7M627.1,851.8L619.0,867.5M624.3,850.5L616.3,866.3M622.0,848.7L613.5,865.1M620.1,846.3L611.4,863.1M619.0,843.6L609.2,861.2M618.7,840.6L607.0,859.2M618.3,837.6L604.8,857.2M617.6,834.7L602.6,855.2M616.8,831.7L600.4,853.2M616.1,828.8L598.2,851.2M615.2,825.9L596.1,849.2M613.4,823.5L593.9,847.2M611.4,821.4L591.8,845.1M608.4,820.8L590.0,842.8M605.5,820.1L588.1,840.5M602.5,819.7L586.3,838.2M599.4,819.7L584.8,835.7M596.4,819.7L583.7,832.9M593.4,819.7L582.6,830.2M590.4,819.7L581.6,827.4M587.6,819.0L580.5,824.7M585.2,817.0L579.4,821.9M582.6,815.6L578.4,819.2M579.9,814.2L577.3,816.4M576.9,814.7L575.1,816.9M574.3,815.7L572.9,817.4M572.5,818.1L570.8,817.9M570.7,820.5L568.6,818.4M568.9,822.9L566.4,818.9M567.0,825.2L564.2,819.4M564.5,826.9L562.0,819.9M562.0,828.6L559.9,820.5M559.7,830.4L558.2,822.0M557.3,832.3L556.6,823.4M555.0,834.2L554.9,824.9M552.7,836.1L553.2,826.4M550.4,838.0L551.5,827.8M548.0,839.9L549.8,829.3M545.4,840.2L548.1,830.7M542.5,839.4L546.4,832.2M541.4,836.5L546.7,830.3M540.6,833.6L547.0,828.4M541.1,830.6L547.3,826.5M541.7,827.6L547.6,824.6M542.2,824.6L547.9,822.7M542.8,821.5L548.2,820.7M543.3,818.5L548.5,818.8M543.9,815.5L548.8,816.9M544.4,812.5L549.1,815.0M544.9,809.4L549.4,813.1M545.5,806.4L549.7,811.2M546.0,803.4L550.0,809.3M546.5,800.4L550.3,807.4M546.7,797.3L550.6,805.5M547.0,794.2L550.9,803.6M548.1,791.5L551.7,802.4M550.1,789.4L553.0,802.0M553.1,788.6L554.4,801.6M556.0,787.8L555.7,801.2M559.0,787.0L557.1,800.8M561.9,786.2L558.4,800.4M564.8,785.4L559.8,800.0M567.8,784.6L561.1,799.6M570.6,783.6L562.5,799.2M573.3,782.2L563.8,798.8M576.1,780.9L565.1,798.4M579.1,780.4L566.5,797.9M581.8,781.4L567.8,797.5M584.4,782.9L569.2,797.1M587.1,784.5L570.5,796.7M589.7,786.0L571.9,796.3M592.3,787.5L573.2,795.9M595.0,789.1L574.6,795.5M597.6,790.6L575.9,795.1M600.2,792.1L577.3,794.7M602.9,793.6L578.6,794.3" stroke="#a6a6a6" stroke-width="0.5" fill="none"/>

<polyline points="533.8,892.6 538.5,887.9 547.1,878.4 581.2,861.3 586.9,858.5 590.7,860.4 594.5,868.0 600.2,875.5 607.8,882.2 614.5,886.6 624.9,886.0 636.3,882.8 645.8,878.4 647.7,870.8 642.0,864.2 633.4,854.7 623.0,849.9 619.2,845.2 618.3,837.6 615.4,826.2 612.1,821.6 603.6,819.7 588.5,819.7 585.2,817.0 579.9,814.2 574.7,815.1 567.4,824.9 561.5,828.9 553.6,835.4 547.1,840.7 542.5,839.4 540.5,834.1 543.1,819.7 546.4,801.3 547.1,792.7 549.7,789.5 569.4,784.2 576.0,780.9 579.9,780.3 604.2,794.4" fill="none" stroke="#8b0000" stroke-width="2.7" stroke-linejoin="round" stroke-linecap="round"/>
<polyline points="536.6,883.1 586.0,873.7 598.3,897.4 611.6,881.6 629.6,886.6 651.5,881.6 613.5,865.1 602.1,854.7 592.6,846.1 585.2,836.8 577.3,816.4 560.2,820.3 546.4,832.2 551.0,802.6 579.3,794.1" fill="none" stroke="#3d3d3d" stroke-width="3.1" stroke-linejoin="round" stroke-linecap="round"/>

<path d="M507.50,743.10V919.80M682.70,743.10V919.80" stroke="#000" stroke-width="1.9" fill="none"/>
<path d="M506.55,743.85H683.65M506.55,919.05H683.65" stroke="#000" stroke-width="1.5" fill="none"/>
<line x1="513.99" y1="919.05" x2="513.99" y2="926.05" stroke="#000" stroke-width="1.8"/>
<text x="513.99" y="942.75" text-anchor="middle" font-size="11">0</text>
<line x1="554.54" y1="919.05" x2="554.54" y2="926.05" stroke="#000" stroke-width="1.8"/>
<text x="554.54" y="942.75" text-anchor="middle" font-size="11">200</text>
<line x1="595.10" y1="919.05" x2="595.10" y2="926.05" stroke="#000" stroke-width="1.8"/>
<text x="595.10" y="942.75" text-anchor="middle" font-size="11">400</text>
<line x1="635.66" y1="919.05" x2="635.66" y2="926.05" stroke="#000" stroke-width="1.8"/>
<text x="635.66" y="942.75" text-anchor="middle" font-size="11">600</text>
<line x1="676.21" y1="919.05" x2="676.21" y2="926.05" stroke="#000" stroke-width="1.8"/>
<text x="676.21" y="942.75" text-anchor="middle" font-size="11">800</text>
<line x1="507.50" y1="912.56" x2="500.50" y2="912.56" stroke="#000" stroke-width="1.4"/>
<text transform="translate(492.70,912.56) rotate(-90)" text-anchor="middle" font-size="11">0</text>
<line x1="507.50" y1="872.01" x2="500.50" y2="872.01" stroke="#000" stroke-width="1.4"/>
<text transform="translate(492.70,872.01) rotate(-90)" text-anchor="middle" font-size="11">200</text>
<line x1="507.50" y1="831.45" x2="500.50" y2="831.45" stroke="#000" stroke-width="1.4"/>
<text transform="translate(492.70,831.45) rotate(-90)" text-anchor="middle" font-size="11">400</text>
<line x1="507.50" y1="790.89" x2="500.50" y2="790.89" stroke="#000" stroke-width="1.4"/>
<text transform="translate(492.70,790.89) rotate(-90)" text-anchor="middle" font-size="11">600</text>
<line x1="507.50" y1="750.34" x2="500.50" y2="750.34" stroke="#000" stroke-width="1.4"/>
<text transform="translate(492.70,750.34) rotate(-90)" text-anchor="middle" font-size="11">800</text>
<text x="595.10" y="723.45" text-anchor="middle" font-size="14" font-weight="bold">Flight Memory Task</text>
<text x="595.10" y="739.45" text-anchor="middle" font-size="14" font-weight="bold">Area: 84198</text>
</g>
</svg></body></html>
